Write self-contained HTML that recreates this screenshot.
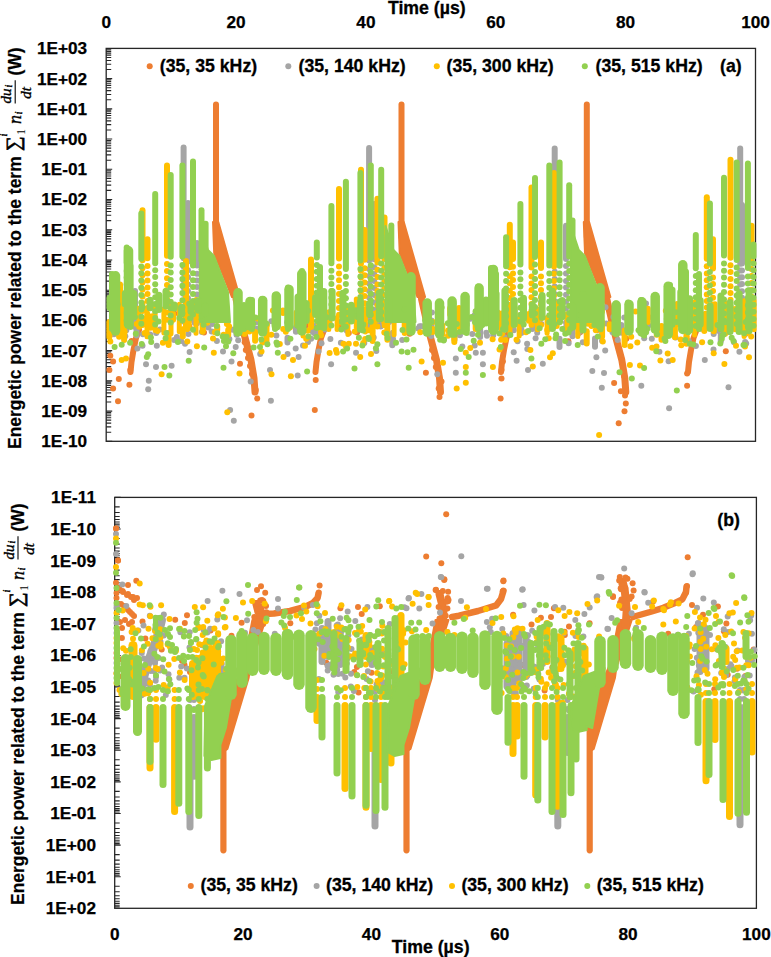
<!DOCTYPE html>
<html><head><meta charset="utf-8"><style>
html,body{margin:0;padding:0;background:#fff;}
svg{display:block;}
.t{font-family:"Liberation Sans", sans-serif;font-weight:bold;font-size:17.2px;fill:#000;stroke:#000;stroke-width:0.25px;}
.l{font-family:"Liberation Sans", sans-serif;font-weight:bold;font-size:17.7px;fill:#000;stroke:#000;stroke-width:0.3px;}
.yt{font-family:"Liberation Sans", sans-serif;font-weight:bold;font-size:17.45px;fill:#000;stroke:#000;stroke-width:0.2px;}
.ms{font-family:"Liberation Serif",serif;fill:#000;stroke:#000;stroke-width:0.6px;}
.mr{font-family:"Liberation Serif",serif;fill:#000;}
.m{font-family:"Liberation Serif",serif;font-style:italic;fill:#000;stroke:#000;stroke-width:0.35px;}
</style></head><body>
<svg width="771" height="957" viewBox="0 0 771 957">
<rect x="106.2" y="48.4" width="649.3" height="392.90000000000003" fill="none" stroke="#262626" stroke-width="1.3"/>
<path d="M106.2 441.30h6 M106.2 432.20h5 M106.2 426.88h5 M106.2 423.10h5 M106.2 420.17h5 M106.2 417.78h5 M106.2 415.76h5 M106.2 414.01h5 M106.2 412.46h5 M106.2 411.08h6 M106.2 401.98h5 M106.2 396.66h5 M106.2 392.88h5 M106.2 389.95h5 M106.2 387.56h5 M106.2 385.54h5 M106.2 383.78h5 M106.2 382.24h5 M106.2 380.85h6 M106.2 371.76h5 M106.2 366.43h5 M106.2 362.66h5 M106.2 359.73h5 M106.2 357.34h5 M106.2 355.31h5 M106.2 353.56h5 M106.2 352.01h5 M106.2 350.63h6 M106.2 341.53h5 M106.2 336.21h5 M106.2 332.43h5 M106.2 329.51h5 M106.2 327.11h5 M106.2 325.09h5 M106.2 323.34h5 M106.2 321.79h5 M106.2 320.41h6 M106.2 311.31h5 M106.2 305.99h5 M106.2 302.21h5 M106.2 299.28h5 M106.2 296.89h5 M106.2 294.87h5 M106.2 293.11h5 M106.2 291.57h5 M106.2 290.18h6 M106.2 281.09h5 M106.2 275.76h5 M106.2 271.99h5 M106.2 269.06h5 M106.2 266.67h5 M106.2 264.64h5 M106.2 262.89h5 M106.2 261.34h5 M106.2 259.96h6 M106.2 250.86h5 M106.2 245.54h5 M106.2 241.77h5 M106.2 238.84h5 M106.2 236.44h5 M106.2 234.42h5 M106.2 232.67h5 M106.2 231.12h5 M106.2 229.74h6 M106.2 220.64h5 M106.2 215.32h5 M106.2 211.54h5 M106.2 208.61h5 M106.2 206.22h5 M106.2 204.20h5 M106.2 202.44h5 M106.2 200.90h5 M106.2 199.52h6 M106.2 190.42h5 M106.2 185.10h5 M106.2 181.32h5 M106.2 178.39h5 M106.2 176.00h5 M106.2 173.97h5 M106.2 172.22h5 M106.2 170.68h5 M106.2 169.29h6 M106.2 160.19h5 M106.2 154.87h5 M106.2 151.10h5 M106.2 148.17h5 M106.2 145.77h5 M106.2 143.75h5 M106.2 142.00h5 M106.2 140.45h5 M106.2 139.07h6 M106.2 129.97h5 M106.2 124.65h5 M106.2 120.87h5 M106.2 117.94h5 M106.2 115.55h5 M106.2 113.53h5 M106.2 111.78h5 M106.2 110.23h5 M106.2 108.85h6 M106.2 99.75h5 M106.2 94.43h5 M106.2 90.65h5 M106.2 87.72h5 M106.2 85.33h5 M106.2 83.30h5 M106.2 81.55h5 M106.2 80.01h5 M106.2 78.62h6 M106.2 69.53h5 M106.2 64.20h5 M106.2 60.43h5 M106.2 57.50h5 M106.2 55.10h5 M106.2 53.08h5 M106.2 51.33h5 M106.2 49.78h5" stroke="#262626" stroke-width="1.1" fill="none"/>
<text x="87.1" y="54.3" text-anchor="end" class="t">1E+03</text>
<text x="87.1" y="84.5" text-anchor="end" class="t">1E+02</text>
<text x="87.1" y="114.7" text-anchor="end" class="t">1E+01</text>
<text x="87.1" y="145.0" text-anchor="end" class="t">1E+00</text>
<text x="87.1" y="175.2" text-anchor="end" class="t">1E-01</text>
<text x="87.1" y="205.4" text-anchor="end" class="t">1E-02</text>
<text x="87.1" y="235.6" text-anchor="end" class="t">1E-03</text>
<text x="87.1" y="265.9" text-anchor="end" class="t">1E-04</text>
<text x="87.1" y="296.1" text-anchor="end" class="t">1E-05</text>
<text x="87.1" y="326.3" text-anchor="end" class="t">1E-06</text>
<text x="87.1" y="356.5" text-anchor="end" class="t">1E-07</text>
<text x="87.1" y="386.8" text-anchor="end" class="t">1E-08</text>
<text x="87.1" y="417.0" text-anchor="end" class="t">1E-09</text>
<text x="87.1" y="447.2" text-anchor="end" class="t">1E-10</text>
<text x="106.2" y="28.4" text-anchor="middle" class="t">0</text>
<text x="236.1" y="28.4" text-anchor="middle" class="t">20</text>
<text x="365.9" y="28.4" text-anchor="middle" class="t">40</text>
<text x="495.8" y="28.4" text-anchor="middle" class="t">60</text>
<text x="625.6" y="28.4" text-anchor="middle" class="t">80</text>
<text x="755.5" y="28.4" text-anchor="middle" class="t">100</text>
<text x="426.8" y="13.8" text-anchor="middle" class="l">Time (µs)</text>
<rect x="114.7" y="497.4" width="641.6999999999999" height="410.9" fill="none" stroke="#262626" stroke-width="1.3"/>
<path d="M114.7 497.40h6 M114.7 506.91h5 M114.7 512.48h5 M114.7 516.43h5 M114.7 519.49h5 M114.7 522.00h5 M114.7 524.11h5 M114.7 525.94h5 M114.7 527.56h5 M114.7 529.01h6 M114.7 538.52h5 M114.7 544.09h5 M114.7 548.04h5 M114.7 551.10h5 M114.7 553.60h5 M114.7 555.72h5 M114.7 557.55h5 M114.7 559.17h5 M114.7 560.62h6 M114.7 570.13h5 M114.7 575.70h5 M114.7 579.65h5 M114.7 582.71h5 M114.7 585.21h5 M114.7 587.33h5 M114.7 589.16h5 M114.7 590.78h5 M114.7 592.22h6 M114.7 601.74h5 M114.7 607.30h5 M114.7 611.25h5 M114.7 614.32h5 M114.7 616.82h5 M114.7 618.93h5 M114.7 620.77h5 M114.7 622.38h5 M114.7 623.83h6 M114.7 633.35h5 M114.7 638.91h5 M114.7 642.86h5 M114.7 645.92h5 M114.7 648.43h5 M114.7 650.54h5 M114.7 652.38h5 M114.7 653.99h5 M114.7 655.44h6 M114.7 664.95h5 M114.7 670.52h5 M114.7 674.47h5 M114.7 677.53h5 M114.7 680.03h5 M114.7 682.15h5 M114.7 683.98h5 M114.7 685.60h5 M114.7 687.05h6 M114.7 696.56h5 M114.7 702.13h5 M114.7 706.08h5 M114.7 709.14h5 M114.7 711.64h5 M114.7 713.76h5 M114.7 715.59h5 M114.7 717.21h5 M114.7 718.65h6 M114.7 728.17h5 M114.7 733.73h5 M114.7 737.68h5 M114.7 740.75h5 M114.7 743.25h5 M114.7 745.37h5 M114.7 747.20h5 M114.7 748.82h5 M114.7 750.26h6 M114.7 759.78h5 M114.7 765.34h5 M114.7 769.29h5 M114.7 772.35h5 M114.7 774.86h5 M114.7 776.97h5 M114.7 778.81h5 M114.7 780.42h5 M114.7 781.87h6 M114.7 791.38h5 M114.7 796.95h5 M114.7 800.90h5 M114.7 803.96h5 M114.7 806.46h5 M114.7 808.58h5 M114.7 810.41h5 M114.7 812.03h5 M114.7 813.48h6 M114.7 822.99h5 M114.7 828.56h5 M114.7 832.51h5 M114.7 835.57h5 M114.7 838.07h5 M114.7 840.19h5 M114.7 842.02h5 M114.7 843.64h5 M114.7 845.08h6 M114.7 854.60h5 M114.7 860.17h5 M114.7 864.11h5 M114.7 867.18h5 M114.7 869.68h5 M114.7 871.80h5 M114.7 873.63h5 M114.7 875.25h5 M114.7 876.69h6 M114.7 886.21h5 M114.7 891.77h5 M114.7 895.72h5 M114.7 898.79h5 M114.7 901.29h5 M114.7 903.40h5 M114.7 905.24h5 M114.7 906.85h5" stroke="#262626" stroke-width="1.1" fill="none"/>
<text x="96" y="503.3" text-anchor="end" class="t">1E-11</text>
<text x="96" y="534.9" text-anchor="end" class="t">1E-10</text>
<text x="96" y="566.5" text-anchor="end" class="t">1E-09</text>
<text x="96" y="598.1" text-anchor="end" class="t">1E-08</text>
<text x="96" y="629.7" text-anchor="end" class="t">1E-07</text>
<text x="96" y="661.3" text-anchor="end" class="t">1E-06</text>
<text x="96" y="692.9" text-anchor="end" class="t">1E-05</text>
<text x="96" y="724.6" text-anchor="end" class="t">1E-04</text>
<text x="96" y="756.2" text-anchor="end" class="t">1E-03</text>
<text x="96" y="787.8" text-anchor="end" class="t">1E-02</text>
<text x="96" y="819.4" text-anchor="end" class="t">1E-01</text>
<text x="96" y="851.0" text-anchor="end" class="t">1E+00</text>
<text x="96" y="882.6" text-anchor="end" class="t">1E+01</text>
<text x="96" y="914.2" text-anchor="end" class="t">1E+02</text>
<text x="114.7" y="940.1" text-anchor="middle" class="t">0</text>
<text x="243.0" y="940.1" text-anchor="middle" class="t">20</text>
<text x="371.4" y="940.1" text-anchor="middle" class="t">40</text>
<text x="499.7" y="940.1" text-anchor="middle" class="t">60</text>
<text x="628.1" y="940.1" text-anchor="middle" class="t">80</text>
<text x="756.4" y="940.1" text-anchor="middle" class="t">100</text>
<text x="430.7" y="952.9" text-anchor="middle" class="l">Time (µs)</text>
<circle cx="149.7" cy="66.3" r="3" fill="#ED7D31"/>
<text x="159.8" y="71.5" class="l">(35, 35 kHz)</text>
<circle cx="288.3" cy="66.3" r="3" fill="#A5A5A5"/>
<text x="298.5" y="71.5" class="l">(35, 140 kHz)</text>
<circle cx="436.8" cy="66.3" r="3" fill="#FFC000"/>
<text x="446.6" y="71.5" class="l">(35, 300 kHz)</text>
<circle cx="584.8" cy="66.3" r="3" fill="#92D050"/>
<text x="595.5" y="71.5" class="l">(35, 515 kHz)</text>
<text x="720.0" y="71.5" class="l">(a)</text>
<circle cx="190.8" cy="885.9" r="3" fill="#ED7D31"/>
<text x="200.5" y="890.8" class="l">(35, 35 kHz)</text>
<circle cx="316.6" cy="886" r="3" fill="#A5A5A5"/>
<text x="326.0" y="890.8" class="l">(35, 140 kHz)</text>
<circle cx="452" cy="886.1" r="3" fill="#FFC000"/>
<text x="461.40000000000003" y="890.8" class="l">(35, 300 kHz)</text>
<circle cx="587.3" cy="886" r="3" fill="#92D050"/>
<text x="596.7" y="890.8" class="l">(35, 515 kHz)</text>
<text x="717.3" y="526" class="l">(b)</text>
<g transform="translate(21.2,449) rotate(-90)">
<text x="0" y="0" class="yt">Energetic power related to the term</text>
<text transform="translate(298,-0.9)" x="0" y="0" class="ms" font-size="20.5">∑</text>
<text x="312.4" y="-14.2" class="m" font-size="10.5">i</text>
<text x="314.2" y="4.2" class="mr" font-size="11.5">1</text>
<text x="325.0" y="0.2" class="m" font-size="18">n</text>
<text x="334.6" y="0.6" class="m" font-size="11">i</text>
<line x1="345.6" x2="368.7" y1="-6" y2="-6" stroke="#000" stroke-width="1.1"/>
<text x="345.4" y="-10.2" class="m" font-size="15">du</text>
<text x="361.6" y="-9.2" class="m" font-size="10">i</text>
<text x="350.3" y="9.9" class="m" font-size="15">dt</text>
<text x="373.5" y="0" class="yt">(W)</text>
</g>
<g transform="translate(24.0,905) rotate(-90)">
<text x="0" y="0" class="yt">Energetic power related to the term</text>
<text transform="translate(298,-0.9)" x="0" y="0" class="ms" font-size="20.5">∑</text>
<text x="312.4" y="-14.2" class="m" font-size="10.5">i</text>
<text x="314.2" y="4.2" class="mr" font-size="11.5">1</text>
<text x="325.0" y="0.2" class="m" font-size="18">n</text>
<text x="334.6" y="0.6" class="m" font-size="11">i</text>
<line x1="345.6" x2="368.7" y1="-6" y2="-6" stroke="#000" stroke-width="1.1"/>
<text x="345.4" y="-10.2" class="m" font-size="15">du</text>
<text x="361.6" y="-9.2" class="m" font-size="10">i</text>
<text x="350.3" y="9.9" class="m" font-size="15">dt</text>
<text x="373.5" y="0" class="yt">(W)</text>
</g>
<g><line x1="216.0" y1="104.4" x2="216.0" y2="237.0" stroke="#ED7D31" stroke-width="6" stroke-linecap="round"/><polygon points="213.0,222.0 218.3,222.0 239.6,297.0 232.0,297.0 214.2,253.0" fill="#ED7D31" stroke="#ED7D31" stroke-width="2" stroke-linejoin="round"/><polyline points="236.0,299.0 243.0,330.0 247.0,345.0 251.0,360.0 254.0,378.0 255.0,392.0" fill="none" stroke="#ED7D31" stroke-width="7" stroke-linecap="round" stroke-linejoin="round"/><line x1="401.5" y1="104.4" x2="401.5" y2="237.0" stroke="#ED7D31" stroke-width="6" stroke-linecap="round"/><polygon points="398.5,222.0 403.8,222.0 425.1,297.0 417.5,297.0 399.7,253.0" fill="#ED7D31" stroke="#ED7D31" stroke-width="2" stroke-linejoin="round"/><polyline points="421.5,299.0 428.5,330.0 432.5,345.0 436.5,360.0 439.5,378.0 440.5,392.0" fill="none" stroke="#ED7D31" stroke-width="7" stroke-linecap="round" stroke-linejoin="round"/><line x1="586.8" y1="104.4" x2="586.8" y2="237.0" stroke="#ED7D31" stroke-width="6" stroke-linecap="round"/><polygon points="583.8,222.0 589.1,222.0 610.4,297.0 602.8,297.0 585.0,253.0" fill="#ED7D31" stroke="#ED7D31" stroke-width="2" stroke-linejoin="round"/><polyline points="606.8,299.0 613.8,330.0 617.8,345.0 621.8,360.0 624.8,378.0 625.8,392.0" fill="none" stroke="#ED7D31" stroke-width="7" stroke-linecap="round" stroke-linejoin="round"/><polyline points="130.5,372.0 131.5,362.0 133.5,350.0 136.0,338.0 139.0,330.0" fill="none" stroke="#ED7D31" stroke-width="6" stroke-linecap="round" stroke-linejoin="round"/><polyline points="315.5,372.0 316.5,362.0 318.5,350.0 321.0,338.0 324.0,330.0" fill="none" stroke="#ED7D31" stroke-width="6" stroke-linecap="round" stroke-linejoin="round"/><polyline points="501.0,372.0 502.0,362.0 504.0,350.0 506.5,338.0 509.5,330.0" fill="none" stroke="#ED7D31" stroke-width="6" stroke-linecap="round" stroke-linejoin="round"/><polyline points="688.0,372.0 689.0,362.0 691.0,350.0 693.5,338.0 696.5,330.0" fill="none" stroke="#ED7D31" stroke-width="6" stroke-linecap="round" stroke-linejoin="round"/><circle cx="305.6" cy="325.4" r="3" fill="#ED7D31"/><circle cx="326.9" cy="327.5" r="3" fill="#ED7D31"/><circle cx="411.1" cy="325.1" r="3" fill="#ED7D31"/><circle cx="189.4" cy="326.4" r="3" fill="#ED7D31"/><circle cx="119.4" cy="316.1" r="3" fill="#ED7D31"/><circle cx="597.3" cy="330.1" r="3" fill="#ED7D31"/><circle cx="299.6" cy="328.2" r="3" fill="#ED7D31"/><circle cx="568.4" cy="341.2" r="3" fill="#ED7D31"/><circle cx="357.1" cy="332.6" r="3" fill="#ED7D31"/><circle cx="131.6" cy="341.0" r="3" fill="#ED7D31"/><circle cx="248.6" cy="323.9" r="3" fill="#ED7D31"/><circle cx="379.3" cy="322.5" r="3" fill="#ED7D31"/><circle cx="580.1" cy="332.2" r="3" fill="#ED7D31"/><circle cx="204.0" cy="332.4" r="3" fill="#ED7D31"/><circle cx="244.7" cy="342.3" r="3" fill="#ED7D31"/><circle cx="626.3" cy="338.8" r="3" fill="#ED7D31"/><circle cx="174.4" cy="313.4" r="3" fill="#ED7D31"/><circle cx="339.3" cy="326.9" r="3" fill="#ED7D31"/><circle cx="397.0" cy="317.7" r="3" fill="#ED7D31"/><circle cx="438.7" cy="322.1" r="3" fill="#ED7D31"/><circle cx="409.7" cy="333.8" r="3" fill="#ED7D31"/><circle cx="642.7" cy="319.9" r="3" fill="#ED7D31"/><circle cx="367.7" cy="325.7" r="3" fill="#ED7D31"/><circle cx="110.3" cy="355.7" r="3" fill="#ED7D31"/><circle cx="113.1" cy="361.4" r="3" fill="#ED7D31"/><circle cx="109.4" cy="370.0" r="3" fill="#ED7D31"/><circle cx="118.8" cy="379.0" r="3" fill="#ED7D31"/><circle cx="113.1" cy="388.5" r="3" fill="#ED7D31"/><circle cx="118.0" cy="401.3" r="3" fill="#ED7D31"/><circle cx="130.3" cy="370.0" r="3" fill="#ED7D31"/><circle cx="129.4" cy="384.8" r="3" fill="#ED7D31"/><circle cx="166.0" cy="340.8" r="3" fill="#ED7D31"/><circle cx="245.8" cy="350.0" r="3" fill="#ED7D31"/><circle cx="248.0" cy="358.0" r="3" fill="#ED7D31"/><circle cx="250.0" cy="366.0" r="3" fill="#ED7D31"/><circle cx="252.0" cy="374.0" r="3" fill="#ED7D31"/><circle cx="254.0" cy="382.0" r="3" fill="#ED7D31"/><circle cx="255.8" cy="390.0" r="3" fill="#ED7D31"/><circle cx="257.2" cy="398.5" r="3" fill="#ED7D31"/><circle cx="251.5" cy="415.6" r="3" fill="#ED7D31"/><circle cx="240.0" cy="363.7" r="3" fill="#ED7D31"/><circle cx="315.7" cy="380.0" r="3" fill="#ED7D31"/><circle cx="314.8" cy="410.0" r="3" fill="#ED7D31"/><circle cx="425.9" cy="372.8" r="3" fill="#ED7D31"/><circle cx="441.5" cy="381.4" r="3" fill="#ED7D31"/><circle cx="438.7" cy="388.5" r="3" fill="#ED7D31"/><circle cx="439.5" cy="397.0" r="3" fill="#ED7D31"/><circle cx="435.8" cy="367.0" r="3" fill="#ED7D31"/><circle cx="432.0" cy="350.0" r="3" fill="#ED7D31"/><circle cx="434.0" cy="358.0" r="3" fill="#ED7D31"/><circle cx="502.9" cy="361.4" r="3" fill="#ED7D31"/><circle cx="501.5" cy="370.0" r="3" fill="#ED7D31"/><circle cx="501.5" cy="378.5" r="3" fill="#ED7D31"/><circle cx="500.6" cy="398.5" r="3" fill="#ED7D31"/><circle cx="348.8" cy="332.9" r="3" fill="#ED7D31"/><circle cx="614.1" cy="383.1" r="3" fill="#ED7D31"/><circle cx="620.9" cy="391.3" r="3" fill="#ED7D31"/><circle cx="625.0" cy="395.4" r="3" fill="#ED7D31"/><circle cx="625.8" cy="403.5" r="3" fill="#ED7D31"/><circle cx="624.5" cy="411.2" r="3" fill="#ED7D31"/><circle cx="618.7" cy="423.2" r="3" fill="#ED7D31"/><circle cx="622.0" cy="360.0" r="3" fill="#ED7D31"/><circle cx="623.0" cy="368.0" r="3" fill="#ED7D31"/><circle cx="624.0" cy="376.0" r="3" fill="#ED7D31"/><circle cx="687.1" cy="373.6" r="3" fill="#ED7D31"/><circle cx="687.1" cy="385.8" r="3" fill="#ED7D31"/><circle cx="725.8" cy="351.2" r="3" fill="#ED7D31"/></g>
<g><line x1="135.0" y1="291.0" x2="135.0" y2="327.0" stroke="#A5A5A5" stroke-width="6" stroke-linecap="round"/><line x1="183.6" y1="147.4" x2="183.6" y2="258.3" stroke="#A5A5A5" stroke-width="6" stroke-linecap="round"/><circle cx="183.6" cy="266.4" r="3" fill="#A5A5A5"/><circle cx="183.6" cy="273.3" r="3" fill="#A5A5A5"/><circle cx="183.6" cy="280.4" r="3" fill="#A5A5A5"/><circle cx="183.6" cy="287.5" r="3" fill="#A5A5A5"/><circle cx="183.6" cy="294.1" r="3" fill="#A5A5A5"/><circle cx="183.6" cy="300.6" r="3" fill="#A5A5A5"/><circle cx="183.6" cy="307.9" r="3" fill="#A5A5A5"/><circle cx="183.6" cy="314.7" r="3" fill="#A5A5A5"/><circle cx="183.6" cy="321.4" r="3" fill="#A5A5A5"/><line x1="188.0" y1="203.0" x2="188.0" y2="261.6" stroke="#A5A5A5" stroke-width="6" stroke-linecap="round"/><circle cx="188.0" cy="270.3" r="3" fill="#A5A5A5"/><circle cx="188.0" cy="277.2" r="3" fill="#A5A5A5"/><circle cx="188.0" cy="284.4" r="3" fill="#A5A5A5"/><circle cx="188.0" cy="291.0" r="3" fill="#A5A5A5"/><circle cx="188.0" cy="298.2" r="3" fill="#A5A5A5"/><circle cx="188.0" cy="305.5" r="3" fill="#A5A5A5"/><circle cx="188.0" cy="312.5" r="3" fill="#A5A5A5"/><circle cx="188.0" cy="319.8" r="3" fill="#A5A5A5"/><circle cx="188.0" cy="327.0" r="3" fill="#A5A5A5"/><line x1="197.0" y1="243.0" x2="197.0" y2="265.6" stroke="#A5A5A5" stroke-width="6" stroke-linecap="round"/><circle cx="197.0" cy="273.8" r="3" fill="#A5A5A5"/><circle cx="197.0" cy="280.6" r="3" fill="#A5A5A5"/><circle cx="197.0" cy="287.1" r="3" fill="#A5A5A5"/><circle cx="197.0" cy="294.5" r="3" fill="#A5A5A5"/><circle cx="197.0" cy="301.5" r="3" fill="#A5A5A5"/><circle cx="197.0" cy="308.7" r="3" fill="#A5A5A5"/><circle cx="197.0" cy="316.1" r="3" fill="#A5A5A5"/><circle cx="197.0" cy="323.3" r="3" fill="#A5A5A5"/><line x1="369.1" y1="148.0" x2="369.1" y2="260.5" stroke="#A5A5A5" stroke-width="6" stroke-linecap="round"/><circle cx="369.1" cy="269.1" r="3" fill="#A5A5A5"/><circle cx="369.1" cy="276.1" r="3" fill="#A5A5A5"/><circle cx="369.1" cy="283.5" r="3" fill="#A5A5A5"/><circle cx="369.1" cy="290.9" r="3" fill="#A5A5A5"/><circle cx="369.1" cy="297.5" r="3" fill="#A5A5A5"/><circle cx="369.1" cy="304.1" r="3" fill="#A5A5A5"/><circle cx="369.1" cy="310.8" r="3" fill="#A5A5A5"/><circle cx="369.1" cy="318.3" r="3" fill="#A5A5A5"/><circle cx="369.1" cy="325.2" r="3" fill="#A5A5A5"/><line x1="374.2" y1="204.0" x2="374.2" y2="259.2" stroke="#A5A5A5" stroke-width="6" stroke-linecap="round"/><circle cx="374.2" cy="267.2" r="3" fill="#A5A5A5"/><circle cx="374.2" cy="274.1" r="3" fill="#A5A5A5"/><circle cx="374.2" cy="281.0" r="3" fill="#A5A5A5"/><circle cx="374.2" cy="288.1" r="3" fill="#A5A5A5"/><circle cx="374.2" cy="295.1" r="3" fill="#A5A5A5"/><circle cx="374.2" cy="302.5" r="3" fill="#A5A5A5"/><circle cx="374.2" cy="309.7" r="3" fill="#A5A5A5"/><circle cx="374.2" cy="317.2" r="3" fill="#A5A5A5"/><circle cx="374.2" cy="324.5" r="3" fill="#A5A5A5"/><line x1="554.7" y1="148.6" x2="554.7" y2="264.4" stroke="#A5A5A5" stroke-width="6" stroke-linecap="round"/><circle cx="554.7" cy="271.7" r="3" fill="#A5A5A5"/><circle cx="554.7" cy="279.1" r="3" fill="#A5A5A5"/><circle cx="554.7" cy="286.5" r="3" fill="#A5A5A5"/><circle cx="554.7" cy="294.0" r="3" fill="#A5A5A5"/><circle cx="554.7" cy="301.0" r="3" fill="#A5A5A5"/><circle cx="554.7" cy="308.2" r="3" fill="#A5A5A5"/><circle cx="554.7" cy="314.9" r="3" fill="#A5A5A5"/><circle cx="554.7" cy="322.3" r="3" fill="#A5A5A5"/><line x1="566.0" y1="225.8" x2="566.0" y2="259.0" stroke="#A5A5A5" stroke-width="6" stroke-linecap="round"/><circle cx="566.0" cy="266.1" r="3" fill="#A5A5A5"/><circle cx="566.0" cy="273.5" r="3" fill="#A5A5A5"/><circle cx="566.0" cy="281.0" r="3" fill="#A5A5A5"/><circle cx="566.0" cy="287.5" r="3" fill="#A5A5A5"/><circle cx="566.0" cy="294.8" r="3" fill="#A5A5A5"/><circle cx="566.0" cy="301.8" r="3" fill="#A5A5A5"/><circle cx="566.0" cy="308.4" r="3" fill="#A5A5A5"/><circle cx="566.0" cy="315.2" r="3" fill="#A5A5A5"/><circle cx="566.0" cy="322.5" r="3" fill="#A5A5A5"/><line x1="740.2" y1="148.6" x2="740.2" y2="255.6" stroke="#A5A5A5" stroke-width="6" stroke-linecap="round"/><circle cx="740.2" cy="263.8" r="3" fill="#A5A5A5"/><circle cx="740.2" cy="270.4" r="3" fill="#A5A5A5"/><circle cx="740.2" cy="277.6" r="3" fill="#A5A5A5"/><circle cx="740.2" cy="284.4" r="3" fill="#A5A5A5"/><circle cx="740.2" cy="291.8" r="3" fill="#A5A5A5"/><circle cx="740.2" cy="299.3" r="3" fill="#A5A5A5"/><circle cx="740.2" cy="306.3" r="3" fill="#A5A5A5"/><circle cx="740.2" cy="313.8" r="3" fill="#A5A5A5"/><circle cx="740.2" cy="320.6" r="3" fill="#A5A5A5"/><line x1="742.0" y1="205.0" x2="742.0" y2="263.4" stroke="#A5A5A5" stroke-width="6" stroke-linecap="round"/><circle cx="742.0" cy="270.5" r="3" fill="#A5A5A5"/><circle cx="742.0" cy="277.2" r="3" fill="#A5A5A5"/><circle cx="742.0" cy="284.1" r="3" fill="#A5A5A5"/><circle cx="742.0" cy="291.2" r="3" fill="#A5A5A5"/><circle cx="742.0" cy="297.8" r="3" fill="#A5A5A5"/><circle cx="742.0" cy="304.4" r="3" fill="#A5A5A5"/><circle cx="742.0" cy="311.7" r="3" fill="#A5A5A5"/><circle cx="742.0" cy="318.6" r="3" fill="#A5A5A5"/><circle cx="742.0" cy="326.0" r="3" fill="#A5A5A5"/><line x1="110.7" y1="329.9" x2="110.7" y2="330.9" stroke="#A5A5A5" stroke-width="6" stroke-linecap="round"/><line x1="117.8" y1="321.0" x2="117.8" y2="323.0" stroke="#A5A5A5" stroke-width="6" stroke-linecap="round"/><line x1="126.3" y1="324.9" x2="126.3" y2="330.2" stroke="#A5A5A5" stroke-width="6" stroke-linecap="round"/><line x1="136.6" y1="330.3" x2="136.6" y2="335.6" stroke="#A5A5A5" stroke-width="6" stroke-linecap="round"/><line x1="176.9" y1="337.1" x2="176.9" y2="339.3" stroke="#A5A5A5" stroke-width="6" stroke-linecap="round"/><line x1="187.0" y1="320.7" x2="187.0" y2="328.0" stroke="#A5A5A5" stroke-width="6" stroke-linecap="round"/><line x1="211.7" y1="331.4" x2="211.7" y2="331.6" stroke="#A5A5A5" stroke-width="6" stroke-linecap="round"/><line x1="236.5" y1="327.1" x2="236.5" y2="334.7" stroke="#A5A5A5" stroke-width="6" stroke-linecap="round"/><line x1="246.2" y1="316.7" x2="246.2" y2="317.8" stroke="#A5A5A5" stroke-width="6" stroke-linecap="round"/><line x1="257.0" y1="328.6" x2="257.0" y2="330.1" stroke="#A5A5A5" stroke-width="6" stroke-linecap="round"/><line x1="287.5" y1="337.8" x2="287.5" y2="342.5" stroke="#A5A5A5" stroke-width="6" stroke-linecap="round"/><line x1="295.9" y1="327.4" x2="295.9" y2="331.7" stroke="#A5A5A5" stroke-width="6" stroke-linecap="round"/><line x1="314.5" y1="325.9" x2="314.5" y2="333.3" stroke="#A5A5A5" stroke-width="6" stroke-linecap="round"/><line x1="324.1" y1="327.3" x2="324.1" y2="327.5" stroke="#A5A5A5" stroke-width="6" stroke-linecap="round"/><line x1="346.9" y1="324.7" x2="346.9" y2="330.7" stroke="#A5A5A5" stroke-width="6" stroke-linecap="round"/><line x1="392.3" y1="336.5" x2="392.3" y2="345.3" stroke="#A5A5A5" stroke-width="6" stroke-linecap="round"/><line x1="419.7" y1="326.3" x2="419.7" y2="326.4" stroke="#A5A5A5" stroke-width="6" stroke-linecap="round"/><line x1="431.5" y1="320.6" x2="431.5" y2="330.0" stroke="#A5A5A5" stroke-width="6" stroke-linecap="round"/><line x1="439.7" y1="328.7" x2="439.7" y2="334.0" stroke="#A5A5A5" stroke-width="6" stroke-linecap="round"/><line x1="454.5" y1="331.8" x2="454.5" y2="339.4" stroke="#A5A5A5" stroke-width="6" stroke-linecap="round"/><line x1="459.9" y1="332.7" x2="459.9" y2="335.3" stroke="#A5A5A5" stroke-width="6" stroke-linecap="round"/><line x1="466.7" y1="324.0" x2="466.7" y2="325.0" stroke="#A5A5A5" stroke-width="6" stroke-linecap="round"/><line x1="480.1" y1="327.2" x2="480.1" y2="336.9" stroke="#A5A5A5" stroke-width="6" stroke-linecap="round"/><line x1="493.2" y1="334.4" x2="493.2" y2="335.2" stroke="#A5A5A5" stroke-width="6" stroke-linecap="round"/><line x1="504.4" y1="337.3" x2="504.4" y2="338.9" stroke="#A5A5A5" stroke-width="6" stroke-linecap="round"/><line x1="513.8" y1="329.7" x2="513.8" y2="330.3" stroke="#A5A5A5" stroke-width="6" stroke-linecap="round"/><line x1="521.3" y1="329.3" x2="521.3" y2="333.0" stroke="#A5A5A5" stroke-width="6" stroke-linecap="round"/><line x1="532.3" y1="321.8" x2="532.3" y2="329.0" stroke="#A5A5A5" stroke-width="6" stroke-linecap="round"/><line x1="540.8" y1="316.0" x2="540.8" y2="317.6" stroke="#A5A5A5" stroke-width="6" stroke-linecap="round"/><line x1="559.5" y1="338.7" x2="559.5" y2="347.0" stroke="#A5A5A5" stroke-width="6" stroke-linecap="round"/><line x1="572.5" y1="326.5" x2="572.5" y2="336.2" stroke="#A5A5A5" stroke-width="6" stroke-linecap="round"/><line x1="595.0" y1="338.5" x2="595.0" y2="346.7" stroke="#A5A5A5" stroke-width="6" stroke-linecap="round"/><line x1="601.1" y1="325.9" x2="601.1" y2="328.0" stroke="#A5A5A5" stroke-width="6" stroke-linecap="round"/><line x1="612.5" y1="325.6" x2="612.5" y2="332.3" stroke="#A5A5A5" stroke-width="6" stroke-linecap="round"/><line x1="621.3" y1="325.1" x2="621.3" y2="332.8" stroke="#A5A5A5" stroke-width="6" stroke-linecap="round"/><line x1="646.4" y1="317.7" x2="646.4" y2="326.7" stroke="#A5A5A5" stroke-width="6" stroke-linecap="round"/><line x1="656.5" y1="321.5" x2="656.5" y2="328.4" stroke="#A5A5A5" stroke-width="6" stroke-linecap="round"/><line x1="666.1" y1="333.1" x2="666.1" y2="335.0" stroke="#A5A5A5" stroke-width="6" stroke-linecap="round"/><line x1="691.8" y1="316.5" x2="691.8" y2="319.2" stroke="#A5A5A5" stroke-width="6" stroke-linecap="round"/><line x1="701.5" y1="328.0" x2="701.5" y2="328.7" stroke="#A5A5A5" stroke-width="6" stroke-linecap="round"/><line x1="713.7" y1="330.1" x2="713.7" y2="333.9" stroke="#A5A5A5" stroke-width="6" stroke-linecap="round"/><line x1="720.8" y1="332.9" x2="720.8" y2="341.3" stroke="#A5A5A5" stroke-width="6" stroke-linecap="round"/><line x1="748.4" y1="321.2" x2="748.4" y2="329.3" stroke="#A5A5A5" stroke-width="6" stroke-linecap="round"/><circle cx="746.0" cy="323.7" r="3" fill="#A5A5A5"/><circle cx="421.5" cy="326.3" r="3" fill="#A5A5A5"/><circle cx="535.6" cy="338.2" r="3" fill="#A5A5A5"/><circle cx="185.0" cy="343.8" r="3" fill="#A5A5A5"/><circle cx="475.8" cy="352.7" r="3" fill="#A5A5A5"/><circle cx="391.3" cy="317.2" r="3" fill="#A5A5A5"/><circle cx="472.3" cy="334.0" r="3" fill="#A5A5A5"/><circle cx="474.7" cy="345.6" r="3" fill="#A5A5A5"/><circle cx="616.6" cy="333.9" r="3" fill="#A5A5A5"/><circle cx="517.6" cy="341.3" r="3" fill="#A5A5A5"/><circle cx="542.2" cy="316.4" r="3" fill="#A5A5A5"/><circle cx="565.2" cy="330.5" r="3" fill="#A5A5A5"/><circle cx="373.7" cy="337.5" r="3" fill="#A5A5A5"/><circle cx="628.1" cy="315.5" r="3" fill="#A5A5A5"/><circle cx="566.4" cy="325.9" r="3" fill="#A5A5A5"/><circle cx="380.8" cy="324.6" r="3" fill="#A5A5A5"/><circle cx="308.0" cy="341.9" r="3" fill="#A5A5A5"/><circle cx="462.3" cy="346.4" r="3" fill="#A5A5A5"/><circle cx="418.1" cy="328.5" r="3" fill="#A5A5A5"/><circle cx="719.2" cy="330.8" r="3" fill="#A5A5A5"/><circle cx="746.7" cy="327.7" r="3" fill="#A5A5A5"/><circle cx="622.2" cy="330.8" r="3" fill="#A5A5A5"/><circle cx="276.4" cy="335.4" r="3" fill="#A5A5A5"/><circle cx="605.2" cy="350.4" r="3" fill="#A5A5A5"/><circle cx="487.0" cy="335.8" r="3" fill="#A5A5A5"/><circle cx="377.8" cy="322.7" r="3" fill="#A5A5A5"/><circle cx="352.2" cy="315.9" r="3" fill="#A5A5A5"/><circle cx="747.6" cy="325.2" r="3" fill="#A5A5A5"/><circle cx="238.2" cy="340.2" r="3" fill="#A5A5A5"/><circle cx="321.5" cy="343.3" r="3" fill="#A5A5A5"/><circle cx="322.9" cy="325.2" r="3" fill="#A5A5A5"/><circle cx="168.9" cy="333.1" r="3" fill="#A5A5A5"/><circle cx="617.7" cy="340.0" r="3" fill="#A5A5A5"/><circle cx="352.5" cy="310.6" r="3" fill="#A5A5A5"/><circle cx="568.6" cy="343.2" r="3" fill="#A5A5A5"/><circle cx="188.4" cy="334.1" r="3" fill="#A5A5A5"/><circle cx="541.4" cy="324.0" r="3" fill="#A5A5A5"/><circle cx="510.9" cy="322.7" r="3" fill="#A5A5A5"/><circle cx="648.9" cy="317.3" r="3" fill="#A5A5A5"/><circle cx="372.7" cy="317.0" r="3" fill="#A5A5A5"/><circle cx="576.4" cy="324.5" r="3" fill="#A5A5A5"/><circle cx="142.9" cy="334.3" r="3" fill="#A5A5A5"/><circle cx="695.9" cy="345.9" r="3" fill="#A5A5A5"/><circle cx="380.7" cy="326.6" r="3" fill="#A5A5A5"/><circle cx="252.2" cy="329.7" r="3" fill="#A5A5A5"/><circle cx="172.9" cy="315.8" r="3" fill="#A5A5A5"/><circle cx="318.5" cy="351.6" r="3" fill="#A5A5A5"/><circle cx="486.3" cy="332.7" r="3" fill="#A5A5A5"/><circle cx="675.6" cy="337.4" r="3" fill="#A5A5A5"/><circle cx="232.7" cy="329.8" r="3" fill="#A5A5A5"/><circle cx="688.8" cy="340.9" r="3" fill="#A5A5A5"/><circle cx="537.2" cy="332.7" r="3" fill="#A5A5A5"/><circle cx="256.9" cy="322.1" r="3" fill="#A5A5A5"/><circle cx="287.6" cy="353.9" r="3" fill="#A5A5A5"/><circle cx="495.4" cy="328.2" r="3" fill="#A5A5A5"/><circle cx="229.4" cy="338.9" r="3" fill="#A5A5A5"/><circle cx="745.1" cy="342.0" r="3" fill="#A5A5A5"/><circle cx="431.2" cy="336.0" r="3" fill="#A5A5A5"/><circle cx="340.9" cy="342.7" r="3" fill="#A5A5A5"/><circle cx="613.4" cy="317.0" r="3" fill="#A5A5A5"/><circle cx="392.9" cy="332.8" r="3" fill="#A5A5A5"/><circle cx="493.6" cy="323.8" r="3" fill="#A5A5A5"/><circle cx="389.2" cy="322.0" r="3" fill="#A5A5A5"/><circle cx="156.2" cy="333.1" r="3" fill="#A5A5A5"/><circle cx="212.3" cy="323.9" r="3" fill="#A5A5A5"/><circle cx="734.0" cy="342.3" r="3" fill="#A5A5A5"/><circle cx="330.4" cy="339.1" r="3" fill="#A5A5A5"/><circle cx="362.4" cy="317.6" r="3" fill="#A5A5A5"/><circle cx="712.2" cy="318.1" r="3" fill="#A5A5A5"/><circle cx="316.8" cy="326.6" r="3" fill="#A5A5A5"/><circle cx="318.8" cy="333.0" r="3" fill="#A5A5A5"/><circle cx="564.2" cy="328.8" r="3" fill="#A5A5A5"/><circle cx="125.3" cy="336.3" r="3" fill="#A5A5A5"/><circle cx="541.0" cy="302.0" r="3" fill="#A5A5A5"/><circle cx="683.3" cy="322.1" r="3" fill="#A5A5A5"/><circle cx="715.9" cy="327.1" r="3" fill="#A5A5A5"/><circle cx="287.2" cy="322.2" r="3" fill="#A5A5A5"/><circle cx="427.1" cy="321.9" r="3" fill="#A5A5A5"/><circle cx="470.4" cy="318.8" r="3" fill="#A5A5A5"/><circle cx="732.9" cy="324.9" r="3" fill="#A5A5A5"/><circle cx="311.1" cy="338.8" r="3" fill="#A5A5A5"/><circle cx="557.0" cy="319.0" r="3" fill="#A5A5A5"/><circle cx="212.1" cy="303.9" r="3" fill="#A5A5A5"/><circle cx="150.2" cy="334.6" r="3" fill="#A5A5A5"/><circle cx="606.4" cy="323.5" r="3" fill="#A5A5A5"/><circle cx="570.1" cy="325.4" r="3" fill="#A5A5A5"/><circle cx="651.8" cy="338.8" r="3" fill="#A5A5A5"/><circle cx="474.7" cy="314.9" r="3" fill="#A5A5A5"/><circle cx="644.2" cy="338.2" r="3" fill="#A5A5A5"/><circle cx="195.6" cy="319.4" r="3" fill="#A5A5A5"/><circle cx="602.0" cy="340.8" r="3" fill="#A5A5A5"/><circle cx="460.8" cy="328.7" r="3" fill="#A5A5A5"/><circle cx="201.9" cy="331.9" r="3" fill="#A5A5A5"/><circle cx="376.3" cy="351.1" r="3" fill="#A5A5A5"/><circle cx="364.3" cy="343.0" r="3" fill="#A5A5A5"/><circle cx="646.0" cy="303.4" r="3" fill="#A5A5A5"/><circle cx="116.6" cy="310.2" r="3" fill="#A5A5A5"/><circle cx="368.4" cy="327.7" r="3" fill="#A5A5A5"/><circle cx="255.7" cy="321.9" r="3" fill="#A5A5A5"/><circle cx="520.1" cy="324.6" r="3" fill="#A5A5A5"/><circle cx="324.9" cy="329.6" r="3" fill="#A5A5A5"/><circle cx="461.0" cy="322.4" r="3" fill="#A5A5A5"/><circle cx="729.0" cy="332.1" r="3" fill="#A5A5A5"/><circle cx="204.8" cy="322.9" r="3" fill="#A5A5A5"/><circle cx="648.4" cy="325.5" r="3" fill="#A5A5A5"/><circle cx="130.2" cy="321.5" r="3" fill="#A5A5A5"/><circle cx="748.4" cy="329.3" r="3" fill="#A5A5A5"/><circle cx="260.2" cy="353.9" r="3" fill="#A5A5A5"/><circle cx="527.3" cy="349.1" r="3" fill="#A5A5A5"/><circle cx="624.3" cy="317.6" r="3" fill="#A5A5A5"/><circle cx="605.5" cy="307.2" r="3" fill="#A5A5A5"/><circle cx="174.1" cy="339.9" r="3" fill="#A5A5A5"/><circle cx="745.2" cy="334.2" r="3" fill="#A5A5A5"/><circle cx="312.4" cy="330.8" r="3" fill="#A5A5A5"/><circle cx="191.9" cy="319.8" r="3" fill="#A5A5A5"/><circle cx="235.7" cy="346.9" r="3" fill="#A5A5A5"/><circle cx="659.4" cy="351.8" r="3" fill="#A5A5A5"/><circle cx="402.2" cy="340.0" r="3" fill="#A5A5A5"/><circle cx="194.6" cy="322.7" r="3" fill="#A5A5A5"/><circle cx="271.4" cy="321.2" r="3" fill="#A5A5A5"/><circle cx="574.8" cy="325.1" r="3" fill="#A5A5A5"/><circle cx="312.9" cy="332.0" r="3" fill="#A5A5A5"/><circle cx="216.9" cy="341.1" r="3" fill="#A5A5A5"/><circle cx="510.4" cy="329.6" r="3" fill="#A5A5A5"/><circle cx="579.8" cy="321.6" r="3" fill="#A5A5A5"/><circle cx="186.5" cy="328.1" r="3" fill="#A5A5A5"/><circle cx="717.3" cy="330.4" r="3" fill="#A5A5A5"/><circle cx="181.1" cy="341.0" r="3" fill="#A5A5A5"/><circle cx="208.4" cy="327.4" r="3" fill="#A5A5A5"/><circle cx="303.0" cy="345.4" r="3" fill="#A5A5A5"/><circle cx="159.9" cy="329.6" r="3" fill="#A5A5A5"/><circle cx="431.9" cy="312.6" r="3" fill="#A5A5A5"/><circle cx="114.0" cy="334.3" r="3" fill="#A5A5A5"/><circle cx="137.4" cy="348.5" r="3" fill="#A5A5A5"/><circle cx="142.5" cy="345.7" r="3" fill="#A5A5A5"/><circle cx="146.0" cy="364.2" r="3" fill="#A5A5A5"/><circle cx="156.0" cy="367.0" r="3" fill="#A5A5A5"/><circle cx="156.8" cy="345.7" r="3" fill="#A5A5A5"/><circle cx="148.8" cy="380.8" r="3" fill="#A5A5A5"/><circle cx="148.2" cy="389.3" r="3" fill="#A5A5A5"/><circle cx="171.6" cy="365.7" r="3" fill="#A5A5A5"/><circle cx="189.6" cy="352.0" r="3" fill="#A5A5A5"/><circle cx="223.0" cy="351.4" r="3" fill="#A5A5A5"/><circle cx="231.5" cy="361.4" r="3" fill="#A5A5A5"/><circle cx="250.7" cy="381.4" r="3" fill="#A5A5A5"/><circle cx="270.9" cy="400.8" r="3" fill="#A5A5A5"/><circle cx="230.1" cy="410.0" r="3" fill="#A5A5A5"/><circle cx="233.8" cy="420.7" r="3" fill="#A5A5A5"/><circle cx="270.0" cy="370.0" r="3" fill="#A5A5A5"/><circle cx="297.7" cy="375.6" r="3" fill="#A5A5A5"/><circle cx="298.6" cy="357.0" r="3" fill="#A5A5A5"/><circle cx="295.7" cy="348.5" r="3" fill="#A5A5A5"/><circle cx="331.1" cy="364.2" r="3" fill="#A5A5A5"/><circle cx="356.0" cy="352.8" r="3" fill="#A5A5A5"/><circle cx="393.0" cy="339.0" r="3" fill="#A5A5A5"/><circle cx="437.3" cy="374.2" r="3" fill="#A5A5A5"/><circle cx="455.8" cy="372.8" r="3" fill="#A5A5A5"/><circle cx="455.8" cy="358.5" r="3" fill="#A5A5A5"/><circle cx="482.9" cy="352.8" r="3" fill="#A5A5A5"/><circle cx="482.9" cy="364.2" r="3" fill="#A5A5A5"/><circle cx="513.7" cy="352.3" r="3" fill="#A5A5A5"/><circle cx="516.6" cy="360.8" r="3" fill="#A5A5A5"/><circle cx="528.0" cy="370.0" r="3" fill="#A5A5A5"/><circle cx="542.8" cy="363.7" r="3" fill="#A5A5A5"/><circle cx="527.1" cy="343.7" r="3" fill="#A5A5A5"/><circle cx="578.7" cy="333.3" r="3" fill="#A5A5A5"/><circle cx="592.3" cy="370.9" r="3" fill="#A5A5A5"/><circle cx="604.0" cy="373.0" r="3" fill="#A5A5A5"/><circle cx="601.8" cy="387.8" r="3" fill="#A5A5A5"/><circle cx="641.3" cy="385.8" r="3" fill="#A5A5A5"/><circle cx="669.1" cy="408.2" r="3" fill="#A5A5A5"/><circle cx="668.6" cy="361.3" r="3" fill="#A5A5A5"/><circle cx="704.8" cy="360.0" r="3" fill="#A5A5A5"/><circle cx="713.5" cy="349.6" r="3" fill="#A5A5A5"/><circle cx="728.5" cy="387.2" r="3" fill="#A5A5A5"/><circle cx="739.4" cy="351.8" r="3" fill="#A5A5A5"/><circle cx="746.2" cy="343.6" r="3" fill="#A5A5A5"/><circle cx="582.8" cy="342.3" r="3" fill="#A5A5A5"/><circle cx="596.4" cy="357.2" r="3" fill="#A5A5A5"/></g>
<g><line x1="120.0" y1="284.5" x2="120.0" y2="327.0" stroke="#FFC000" stroke-width="6" stroke-linecap="round"/><line x1="142.5" y1="210.2" x2="142.5" y2="260.3" stroke="#FFC000" stroke-width="6" stroke-linecap="round"/><circle cx="142.5" cy="268.2" r="3" fill="#FFC000"/><circle cx="142.5" cy="275.2" r="3" fill="#FFC000"/><circle cx="142.5" cy="282.4" r="3" fill="#FFC000"/><circle cx="142.5" cy="289.5" r="3" fill="#FFC000"/><circle cx="142.5" cy="296.5" r="3" fill="#FFC000"/><circle cx="142.5" cy="303.6" r="3" fill="#FFC000"/><circle cx="142.5" cy="311.1" r="3" fill="#FFC000"/><circle cx="142.5" cy="318.1" r="3" fill="#FFC000"/><circle cx="142.5" cy="325.0" r="3" fill="#FFC000"/><line x1="147.5" y1="239.3" x2="147.5" y2="258.3" stroke="#FFC000" stroke-width="6" stroke-linecap="round"/><circle cx="147.5" cy="265.9" r="3" fill="#FFC000"/><circle cx="147.5" cy="273.4" r="3" fill="#FFC000"/><circle cx="147.5" cy="280.4" r="3" fill="#FFC000"/><circle cx="147.5" cy="287.5" r="3" fill="#FFC000"/><circle cx="147.5" cy="294.0" r="3" fill="#FFC000"/><circle cx="147.5" cy="300.9" r="3" fill="#FFC000"/><circle cx="147.5" cy="308.0" r="3" fill="#FFC000"/><circle cx="147.5" cy="314.5" r="3" fill="#FFC000"/><circle cx="147.5" cy="321.6" r="3" fill="#FFC000"/><line x1="167.0" y1="165.6" x2="167.0" y2="255.8" stroke="#FFC000" stroke-width="6" stroke-linecap="round"/><circle cx="167.0" cy="264.1" r="3" fill="#FFC000"/><circle cx="167.0" cy="271.1" r="3" fill="#FFC000"/><circle cx="167.0" cy="278.2" r="3" fill="#FFC000"/><circle cx="167.0" cy="285.1" r="3" fill="#FFC000"/><circle cx="167.0" cy="292.3" r="3" fill="#FFC000"/><circle cx="167.0" cy="299.5" r="3" fill="#FFC000"/><circle cx="167.0" cy="306.1" r="3" fill="#FFC000"/><circle cx="167.0" cy="312.6" r="3" fill="#FFC000"/><circle cx="167.0" cy="319.8" r="3" fill="#FFC000"/><line x1="186.0" y1="261.0" x2="186.0" y2="327.0" stroke="#FFC000" stroke-width="6" stroke-linecap="round"/><line x1="311.0" y1="259.6" x2="311.0" y2="327.0" stroke="#FFC000" stroke-width="6" stroke-linecap="round"/><line x1="339.0" y1="188.9" x2="339.0" y2="258.5" stroke="#FFC000" stroke-width="6" stroke-linecap="round"/><circle cx="339.0" cy="266.4" r="3" fill="#FFC000"/><circle cx="339.0" cy="273.5" r="3" fill="#FFC000"/><circle cx="339.0" cy="280.3" r="3" fill="#FFC000"/><circle cx="339.0" cy="287.2" r="3" fill="#FFC000"/><circle cx="339.0" cy="294.0" r="3" fill="#FFC000"/><circle cx="339.0" cy="300.9" r="3" fill="#FFC000"/><circle cx="339.0" cy="308.0" r="3" fill="#FFC000"/><circle cx="339.0" cy="314.8" r="3" fill="#FFC000"/><circle cx="339.0" cy="321.7" r="3" fill="#FFC000"/><line x1="361.0" y1="169.8" x2="361.0" y2="255.4" stroke="#FFC000" stroke-width="6" stroke-linecap="round"/><circle cx="361.0" cy="263.5" r="3" fill="#FFC000"/><circle cx="361.0" cy="270.8" r="3" fill="#FFC000"/><circle cx="361.0" cy="277.6" r="3" fill="#FFC000"/><circle cx="361.0" cy="284.3" r="3" fill="#FFC000"/><circle cx="361.0" cy="291.6" r="3" fill="#FFC000"/><circle cx="361.0" cy="298.3" r="3" fill="#FFC000"/><circle cx="361.0" cy="305.0" r="3" fill="#FFC000"/><circle cx="361.0" cy="311.9" r="3" fill="#FFC000"/><circle cx="361.0" cy="319.1" r="3" fill="#FFC000"/><circle cx="361.0" cy="325.7" r="3" fill="#FFC000"/><line x1="364.6" y1="230.0" x2="364.6" y2="259.7" stroke="#FFC000" stroke-width="6" stroke-linecap="round"/><circle cx="364.6" cy="268.3" r="3" fill="#FFC000"/><circle cx="364.6" cy="275.3" r="3" fill="#FFC000"/><circle cx="364.6" cy="282.6" r="3" fill="#FFC000"/><circle cx="364.6" cy="289.3" r="3" fill="#FFC000"/><circle cx="364.6" cy="296.1" r="3" fill="#FFC000"/><circle cx="364.6" cy="303.3" r="3" fill="#FFC000"/><circle cx="364.6" cy="310.7" r="3" fill="#FFC000"/><circle cx="364.6" cy="317.6" r="3" fill="#FFC000"/><circle cx="364.6" cy="324.4" r="3" fill="#FFC000"/><line x1="377.4" y1="198.8" x2="377.4" y2="262.4" stroke="#FFC000" stroke-width="6" stroke-linecap="round"/><circle cx="377.4" cy="269.8" r="3" fill="#FFC000"/><circle cx="377.4" cy="277.1" r="3" fill="#FFC000"/><circle cx="377.4" cy="284.4" r="3" fill="#FFC000"/><circle cx="377.4" cy="291.1" r="3" fill="#FFC000"/><circle cx="377.4" cy="297.9" r="3" fill="#FFC000"/><circle cx="377.4" cy="305.2" r="3" fill="#FFC000"/><circle cx="377.4" cy="312.4" r="3" fill="#FFC000"/><circle cx="377.4" cy="319.7" r="3" fill="#FFC000"/><circle cx="377.4" cy="326.5" r="3" fill="#FFC000"/><line x1="384.5" y1="217.5" x2="384.5" y2="259.1" stroke="#FFC000" stroke-width="6" stroke-linecap="round"/><circle cx="384.5" cy="267.7" r="3" fill="#FFC000"/><circle cx="384.5" cy="274.4" r="3" fill="#FFC000"/><circle cx="384.5" cy="281.3" r="3" fill="#FFC000"/><circle cx="384.5" cy="288.2" r="3" fill="#FFC000"/><circle cx="384.5" cy="295.1" r="3" fill="#FFC000"/><circle cx="384.5" cy="302.0" r="3" fill="#FFC000"/><circle cx="384.5" cy="309.5" r="3" fill="#FFC000"/><circle cx="384.5" cy="316.1" r="3" fill="#FFC000"/><circle cx="384.5" cy="322.6" r="3" fill="#FFC000"/><line x1="459.0" y1="308.0" x2="459.0" y2="327.0" stroke="#FFC000" stroke-width="6" stroke-linecap="round"/><line x1="509.8" y1="224.8" x2="509.8" y2="267.3" stroke="#FFC000" stroke-width="6" stroke-linecap="round"/><circle cx="509.8" cy="276.3" r="3" fill="#FFC000"/><circle cx="509.8" cy="283.2" r="3" fill="#FFC000"/><circle cx="509.8" cy="290.7" r="3" fill="#FFC000"/><circle cx="509.8" cy="298.1" r="3" fill="#FFC000"/><circle cx="509.8" cy="304.8" r="3" fill="#FFC000"/><circle cx="509.8" cy="312.1" r="3" fill="#FFC000"/><circle cx="509.8" cy="319.4" r="3" fill="#FFC000"/><circle cx="509.8" cy="326.6" r="3" fill="#FFC000"/><line x1="513.0" y1="242.4" x2="513.0" y2="259.0" stroke="#FFC000" stroke-width="6" stroke-linecap="round"/><circle cx="513.0" cy="266.7" r="3" fill="#FFC000"/><circle cx="513.0" cy="273.5" r="3" fill="#FFC000"/><circle cx="513.0" cy="280.0" r="3" fill="#FFC000"/><circle cx="513.0" cy="287.1" r="3" fill="#FFC000"/><circle cx="513.0" cy="293.9" r="3" fill="#FFC000"/><circle cx="513.0" cy="301.2" r="3" fill="#FFC000"/><circle cx="513.0" cy="307.8" r="3" fill="#FFC000"/><circle cx="513.0" cy="315.2" r="3" fill="#FFC000"/><circle cx="513.0" cy="322.4" r="3" fill="#FFC000"/><line x1="531.5" y1="187.4" x2="531.5" y2="267.6" stroke="#FFC000" stroke-width="6" stroke-linecap="round"/><circle cx="531.5" cy="276.4" r="3" fill="#FFC000"/><circle cx="531.5" cy="283.4" r="3" fill="#FFC000"/><circle cx="531.5" cy="289.9" r="3" fill="#FFC000"/><circle cx="531.5" cy="297.2" r="3" fill="#FFC000"/><circle cx="531.5" cy="303.9" r="3" fill="#FFC000"/><circle cx="531.5" cy="310.7" r="3" fill="#FFC000"/><circle cx="531.5" cy="317.8" r="3" fill="#FFC000"/><circle cx="531.5" cy="324.8" r="3" fill="#FFC000"/><line x1="541.0" y1="242.4" x2="541.0" y2="268.1" stroke="#FFC000" stroke-width="6" stroke-linecap="round"/><circle cx="541.0" cy="276.4" r="3" fill="#FFC000"/><circle cx="541.0" cy="283.2" r="3" fill="#FFC000"/><circle cx="541.0" cy="290.0" r="3" fill="#FFC000"/><circle cx="541.0" cy="297.3" r="3" fill="#FFC000"/><circle cx="541.0" cy="304.3" r="3" fill="#FFC000"/><circle cx="541.0" cy="311.6" r="3" fill="#FFC000"/><circle cx="541.0" cy="318.4" r="3" fill="#FFC000"/><circle cx="541.0" cy="325.1" r="3" fill="#FFC000"/><line x1="554.0" y1="172.9" x2="554.0" y2="266.4" stroke="#FFC000" stroke-width="6" stroke-linecap="round"/><circle cx="554.0" cy="273.8" r="3" fill="#FFC000"/><circle cx="554.0" cy="281.1" r="3" fill="#FFC000"/><circle cx="554.0" cy="288.5" r="3" fill="#FFC000"/><circle cx="554.0" cy="295.8" r="3" fill="#FFC000"/><circle cx="554.0" cy="303.1" r="3" fill="#FFC000"/><circle cx="554.0" cy="309.6" r="3" fill="#FFC000"/><circle cx="554.0" cy="316.8" r="3" fill="#FFC000"/><circle cx="554.0" cy="324.1" r="3" fill="#FFC000"/><line x1="700.0" y1="309.0" x2="700.0" y2="327.0" stroke="#FFC000" stroke-width="6" stroke-linecap="round"/><line x1="706.8" y1="197.2" x2="706.8" y2="258.8" stroke="#FFC000" stroke-width="6" stroke-linecap="round"/><circle cx="706.8" cy="266.3" r="3" fill="#FFC000"/><circle cx="706.8" cy="273.4" r="3" fill="#FFC000"/><circle cx="706.8" cy="280.3" r="3" fill="#FFC000"/><circle cx="706.8" cy="287.3" r="3" fill="#FFC000"/><circle cx="706.8" cy="294.5" r="3" fill="#FFC000"/><circle cx="706.8" cy="301.0" r="3" fill="#FFC000"/><circle cx="706.8" cy="307.6" r="3" fill="#FFC000"/><circle cx="706.8" cy="314.2" r="3" fill="#FFC000"/><circle cx="706.8" cy="320.8" r="3" fill="#FFC000"/><line x1="713.0" y1="239.3" x2="713.0" y2="268.6" stroke="#FFC000" stroke-width="6" stroke-linecap="round"/><circle cx="713.0" cy="277.4" r="3" fill="#FFC000"/><circle cx="713.0" cy="283.9" r="3" fill="#FFC000"/><circle cx="713.0" cy="290.9" r="3" fill="#FFC000"/><circle cx="713.0" cy="297.8" r="3" fill="#FFC000"/><circle cx="713.0" cy="304.6" r="3" fill="#FFC000"/><circle cx="713.0" cy="311.4" r="3" fill="#FFC000"/><circle cx="713.0" cy="318.6" r="3" fill="#FFC000"/><circle cx="713.0" cy="325.7" r="3" fill="#FFC000"/><line x1="730.5" y1="159.8" x2="730.5" y2="257.7" stroke="#FFC000" stroke-width="6" stroke-linecap="round"/><circle cx="730.5" cy="265.3" r="3" fill="#FFC000"/><circle cx="730.5" cy="272.0" r="3" fill="#FFC000"/><circle cx="730.5" cy="279.0" r="3" fill="#FFC000"/><circle cx="730.5" cy="286.2" r="3" fill="#FFC000"/><circle cx="730.5" cy="293.1" r="3" fill="#FFC000"/><circle cx="730.5" cy="299.7" r="3" fill="#FFC000"/><circle cx="730.5" cy="306.4" r="3" fill="#FFC000"/><circle cx="730.5" cy="313.2" r="3" fill="#FFC000"/><circle cx="730.5" cy="320.3" r="3" fill="#FFC000"/><line x1="751.5" y1="225.8" x2="751.5" y2="260.3" stroke="#FFC000" stroke-width="6" stroke-linecap="round"/><circle cx="751.5" cy="268.9" r="3" fill="#FFC000"/><circle cx="751.5" cy="276.0" r="3" fill="#FFC000"/><circle cx="751.5" cy="283.0" r="3" fill="#FFC000"/><circle cx="751.5" cy="289.9" r="3" fill="#FFC000"/><circle cx="751.5" cy="296.8" r="3" fill="#FFC000"/><circle cx="751.5" cy="304.1" r="3" fill="#FFC000"/><circle cx="751.5" cy="311.0" r="3" fill="#FFC000"/><circle cx="751.5" cy="318.2" r="3" fill="#FFC000"/><circle cx="751.5" cy="325.1" r="3" fill="#FFC000"/><line x1="109.4" y1="322.0" x2="109.4" y2="336.9" stroke="#FFC000" stroke-width="6" stroke-linecap="round"/><line x1="119.1" y1="323.7" x2="119.1" y2="336.8" stroke="#FFC000" stroke-width="6" stroke-linecap="round"/><line x1="124.1" y1="328.2" x2="124.1" y2="339.9" stroke="#FFC000" stroke-width="6" stroke-linecap="round"/><line x1="143.7" y1="321.2" x2="143.7" y2="324.0" stroke="#FFC000" stroke-width="6" stroke-linecap="round"/><line x1="150.7" y1="319.6" x2="150.7" y2="327.8" stroke="#FFC000" stroke-width="6" stroke-linecap="round"/><line x1="168.6" y1="332.9" x2="168.6" y2="345.0" stroke="#FFC000" stroke-width="6" stroke-linecap="round"/><line x1="173.1" y1="313.7" x2="173.1" y2="319.8" stroke="#FFC000" stroke-width="6" stroke-linecap="round"/><line x1="182.8" y1="329.2" x2="182.8" y2="336.6" stroke="#FFC000" stroke-width="6" stroke-linecap="round"/><line x1="188.7" y1="313.2" x2="188.7" y2="328.0" stroke="#FFC000" stroke-width="6" stroke-linecap="round"/><line x1="197.6" y1="309.8" x2="197.6" y2="320.6" stroke="#FFC000" stroke-width="6" stroke-linecap="round"/><line x1="202.6" y1="316.3" x2="202.6" y2="331.8" stroke="#FFC000" stroke-width="6" stroke-linecap="round"/><line x1="207.2" y1="310.5" x2="207.2" y2="313.4" stroke="#FFC000" stroke-width="6" stroke-linecap="round"/><line x1="217.2" y1="326.3" x2="217.2" y2="330.1" stroke="#FFC000" stroke-width="6" stroke-linecap="round"/><line x1="222.7" y1="313.3" x2="222.7" y2="319.1" stroke="#FFC000" stroke-width="6" stroke-linecap="round"/><line x1="228.2" y1="330.1" x2="228.2" y2="335.1" stroke="#FFC000" stroke-width="6" stroke-linecap="round"/><line x1="244.5" y1="327.3" x2="244.5" y2="333.9" stroke="#FFC000" stroke-width="6" stroke-linecap="round"/><line x1="249.7" y1="322.6" x2="249.7" y2="328.0" stroke="#FFC000" stroke-width="6" stroke-linecap="round"/><line x1="255.1" y1="332.0" x2="255.1" y2="340.8" stroke="#FFC000" stroke-width="6" stroke-linecap="round"/><line x1="263.3" y1="311.9" x2="263.3" y2="326.6" stroke="#FFC000" stroke-width="6" stroke-linecap="round"/><line x1="266.5" y1="326.5" x2="266.5" y2="341.7" stroke="#FFC000" stroke-width="6" stroke-linecap="round"/><line x1="283.0" y1="310.6" x2="283.0" y2="313.1" stroke="#FFC000" stroke-width="6" stroke-linecap="round"/><line x1="296.7" y1="312.4" x2="296.7" y2="324.5" stroke="#FFC000" stroke-width="6" stroke-linecap="round"/><line x1="318.9" y1="314.7" x2="318.9" y2="323.0" stroke="#FFC000" stroke-width="6" stroke-linecap="round"/><line x1="324.5" y1="322.3" x2="324.5" y2="326.1" stroke="#FFC000" stroke-width="6" stroke-linecap="round"/><line x1="346.7" y1="308.9" x2="346.7" y2="311.1" stroke="#FFC000" stroke-width="6" stroke-linecap="round"/><line x1="372.6" y1="326.4" x2="372.6" y2="341.0" stroke="#FFC000" stroke-width="6" stroke-linecap="round"/><line x1="387.4" y1="325.1" x2="387.4" y2="339.7" stroke="#FFC000" stroke-width="6" stroke-linecap="round"/><line x1="404.7" y1="322.6" x2="404.7" y2="333.1" stroke="#FFC000" stroke-width="6" stroke-linecap="round"/><line x1="432.7" y1="329.0" x2="432.7" y2="332.1" stroke="#FFC000" stroke-width="6" stroke-linecap="round"/><line x1="442.3" y1="325.5" x2="442.3" y2="334.4" stroke="#FFC000" stroke-width="6" stroke-linecap="round"/><line x1="450.2" y1="308.3" x2="450.2" y2="314.5" stroke="#FFC000" stroke-width="6" stroke-linecap="round"/><line x1="454.3" y1="330.6" x2="454.3" y2="341.9" stroke="#FFC000" stroke-width="6" stroke-linecap="round"/><line x1="461.8" y1="324.6" x2="461.8" y2="329.4" stroke="#FFC000" stroke-width="6" stroke-linecap="round"/><line x1="475.7" y1="322.6" x2="475.7" y2="329.0" stroke="#FFC000" stroke-width="6" stroke-linecap="round"/><line x1="497.3" y1="312.2" x2="497.3" y2="320.5" stroke="#FFC000" stroke-width="6" stroke-linecap="round"/><line x1="502.2" y1="323.6" x2="502.2" y2="332.6" stroke="#FFC000" stroke-width="6" stroke-linecap="round"/><line x1="514.6" y1="308.8" x2="514.6" y2="323.0" stroke="#FFC000" stroke-width="6" stroke-linecap="round"/><line x1="533.1" y1="319.4" x2="533.1" y2="321.7" stroke="#FFC000" stroke-width="6" stroke-linecap="round"/><line x1="536.9" y1="309.2" x2="536.9" y2="320.0" stroke="#FFC000" stroke-width="6" stroke-linecap="round"/><line x1="556.1" y1="319.9" x2="556.1" y2="324.4" stroke="#FFC000" stroke-width="6" stroke-linecap="round"/><line x1="568.2" y1="316.6" x2="568.2" y2="328.4" stroke="#FFC000" stroke-width="6" stroke-linecap="round"/><line x1="586.7" y1="331.3" x2="586.7" y2="343.4" stroke="#FFC000" stroke-width="6" stroke-linecap="round"/><line x1="602.1" y1="322.2" x2="602.1" y2="336.5" stroke="#FFC000" stroke-width="6" stroke-linecap="round"/><line x1="609.7" y1="324.3" x2="609.7" y2="329.2" stroke="#FFC000" stroke-width="6" stroke-linecap="round"/><line x1="624.6" y1="330.5" x2="624.6" y2="345.0" stroke="#FFC000" stroke-width="6" stroke-linecap="round"/><line x1="642.2" y1="310.1" x2="642.2" y2="318.2" stroke="#FFC000" stroke-width="6" stroke-linecap="round"/><line x1="647.8" y1="308.7" x2="647.8" y2="322.0" stroke="#FFC000" stroke-width="6" stroke-linecap="round"/><line x1="655.2" y1="316.4" x2="655.2" y2="329.4" stroke="#FFC000" stroke-width="6" stroke-linecap="round"/><line x1="661.5" y1="326.1" x2="661.5" y2="339.8" stroke="#FFC000" stroke-width="6" stroke-linecap="round"/><line x1="667.8" y1="331.7" x2="667.8" y2="334.9" stroke="#FFC000" stroke-width="6" stroke-linecap="round"/><line x1="674.9" y1="326.2" x2="674.9" y2="337.2" stroke="#FFC000" stroke-width="6" stroke-linecap="round"/><line x1="686.5" y1="329.1" x2="686.5" y2="343.7" stroke="#FFC000" stroke-width="6" stroke-linecap="round"/><line x1="704.3" y1="320.6" x2="704.3" y2="331.1" stroke="#FFC000" stroke-width="6" stroke-linecap="round"/><line x1="713.8" y1="318.0" x2="713.8" y2="331.2" stroke="#FFC000" stroke-width="6" stroke-linecap="round"/><line x1="725.1" y1="318.3" x2="725.1" y2="333.7" stroke="#FFC000" stroke-width="6" stroke-linecap="round"/><line x1="729.8" y1="311.2" x2="729.8" y2="319.2" stroke="#FFC000" stroke-width="6" stroke-linecap="round"/><line x1="736.9" y1="315.9" x2="736.9" y2="320.6" stroke="#FFC000" stroke-width="6" stroke-linecap="round"/><line x1="743.3" y1="327.5" x2="743.3" y2="329.8" stroke="#FFC000" stroke-width="6" stroke-linecap="round"/><circle cx="702.1" cy="342.3" r="3" fill="#FFC000"/><circle cx="162.9" cy="342.8" r="3" fill="#FFC000"/><circle cx="201.5" cy="318.9" r="3" fill="#FFC000"/><circle cx="342.3" cy="323.1" r="3" fill="#FFC000"/><circle cx="441.3" cy="323.9" r="3" fill="#FFC000"/><circle cx="150.7" cy="326.7" r="3" fill="#FFC000"/><circle cx="602.0" cy="311.5" r="3" fill="#FFC000"/><circle cx="681.3" cy="345.2" r="3" fill="#FFC000"/><circle cx="747.2" cy="333.0" r="3" fill="#FFC000"/><circle cx="249.4" cy="331.6" r="3" fill="#FFC000"/><circle cx="329.6" cy="352.9" r="3" fill="#FFC000"/><circle cx="262.4" cy="342.4" r="3" fill="#FFC000"/><circle cx="283.2" cy="329.0" r="3" fill="#FFC000"/><circle cx="168.0" cy="333.5" r="3" fill="#FFC000"/><circle cx="306.2" cy="338.8" r="3" fill="#FFC000"/><circle cx="363.2" cy="342.9" r="3" fill="#FFC000"/><circle cx="242.5" cy="323.2" r="3" fill="#FFC000"/><circle cx="384.3" cy="332.4" r="3" fill="#FFC000"/><circle cx="526.0" cy="332.2" r="3" fill="#FFC000"/><circle cx="322.8" cy="309.7" r="3" fill="#FFC000"/><circle cx="501.1" cy="339.8" r="3" fill="#FFC000"/><circle cx="602.8" cy="341.4" r="3" fill="#FFC000"/><circle cx="266.9" cy="324.8" r="3" fill="#FFC000"/><circle cx="558.1" cy="317.9" r="3" fill="#FFC000"/><circle cx="736.0" cy="345.7" r="3" fill="#FFC000"/><circle cx="470.3" cy="347.9" r="3" fill="#FFC000"/><circle cx="635.6" cy="311.5" r="3" fill="#FFC000"/><circle cx="264.5" cy="321.9" r="3" fill="#FFC000"/><circle cx="237.9" cy="319.2" r="3" fill="#FFC000"/><circle cx="726.8" cy="320.0" r="3" fill="#FFC000"/><circle cx="448.0" cy="335.7" r="3" fill="#FFC000"/><circle cx="189.6" cy="317.7" r="3" fill="#FFC000"/><circle cx="448.1" cy="330.6" r="3" fill="#FFC000"/><circle cx="365.1" cy="339.0" r="3" fill="#FFC000"/><circle cx="307.6" cy="330.8" r="3" fill="#FFC000"/><circle cx="686.6" cy="337.0" r="3" fill="#FFC000"/><circle cx="678.6" cy="319.7" r="3" fill="#FFC000"/><circle cx="167.4" cy="341.8" r="3" fill="#FFC000"/><circle cx="595.8" cy="330.2" r="3" fill="#FFC000"/><circle cx="549.8" cy="328.6" r="3" fill="#FFC000"/><circle cx="261.3" cy="310.9" r="3" fill="#FFC000"/><circle cx="120.9" cy="325.0" r="3" fill="#FFC000"/><circle cx="136.7" cy="324.0" r="3" fill="#FFC000"/><circle cx="279.8" cy="344.1" r="3" fill="#FFC000"/><circle cx="644.2" cy="330.9" r="3" fill="#FFC000"/><circle cx="740.9" cy="325.7" r="3" fill="#FFC000"/><circle cx="665.8" cy="310.7" r="3" fill="#FFC000"/><circle cx="354.8" cy="331.5" r="3" fill="#FFC000"/><circle cx="227.7" cy="322.5" r="3" fill="#FFC000"/><circle cx="214.9" cy="332.2" r="3" fill="#FFC000"/><circle cx="308.0" cy="337.3" r="3" fill="#FFC000"/><circle cx="492.6" cy="339.3" r="3" fill="#FFC000"/><circle cx="289.9" cy="327.4" r="3" fill="#FFC000"/><circle cx="516.5" cy="339.8" r="3" fill="#FFC000"/><circle cx="148.2" cy="336.2" r="3" fill="#FFC000"/><circle cx="368.5" cy="330.2" r="3" fill="#FFC000"/><circle cx="329.5" cy="323.0" r="3" fill="#FFC000"/><circle cx="206.5" cy="315.2" r="3" fill="#FFC000"/><circle cx="361.3" cy="327.4" r="3" fill="#FFC000"/><circle cx="144.6" cy="333.0" r="3" fill="#FFC000"/><circle cx="124.6" cy="331.9" r="3" fill="#FFC000"/><circle cx="229.2" cy="326.6" r="3" fill="#FFC000"/><circle cx="505.4" cy="340.0" r="3" fill="#FFC000"/><circle cx="513.2" cy="321.8" r="3" fill="#FFC000"/><circle cx="196.9" cy="346.3" r="3" fill="#FFC000"/><circle cx="547.2" cy="330.0" r="3" fill="#FFC000"/><circle cx="591.5" cy="325.9" r="3" fill="#FFC000"/><circle cx="182.1" cy="332.1" r="3" fill="#FFC000"/><circle cx="272.9" cy="310.4" r="3" fill="#FFC000"/><circle cx="186.8" cy="328.8" r="3" fill="#FFC000"/><circle cx="420.3" cy="332.2" r="3" fill="#FFC000"/><circle cx="361.5" cy="310.0" r="3" fill="#FFC000"/><circle cx="271.3" cy="334.7" r="3" fill="#FFC000"/><circle cx="187.0" cy="329.0" r="3" fill="#FFC000"/><circle cx="285.8" cy="331.8" r="3" fill="#FFC000"/><circle cx="226.9" cy="324.1" r="3" fill="#FFC000"/><circle cx="751.2" cy="336.5" r="3" fill="#FFC000"/><circle cx="713.7" cy="353.3" r="3" fill="#FFC000"/><circle cx="157.5" cy="331.1" r="3" fill="#FFC000"/><circle cx="582.7" cy="326.6" r="3" fill="#FFC000"/><circle cx="124.6" cy="322.0" r="3" fill="#FFC000"/><circle cx="631.2" cy="336.8" r="3" fill="#FFC000"/><circle cx="223.6" cy="334.8" r="3" fill="#FFC000"/><circle cx="432.9" cy="322.0" r="3" fill="#FFC000"/><circle cx="745.0" cy="346.6" r="3" fill="#FFC000"/><circle cx="246.1" cy="322.0" r="3" fill="#FFC000"/><circle cx="680.7" cy="339.6" r="3" fill="#FFC000"/><circle cx="379.4" cy="318.8" r="3" fill="#FFC000"/><circle cx="257.5" cy="318.4" r="3" fill="#FFC000"/><circle cx="207.3" cy="321.8" r="3" fill="#FFC000"/><circle cx="746.2" cy="320.5" r="3" fill="#FFC000"/><circle cx="667.7" cy="353.4" r="3" fill="#FFC000"/><circle cx="628.9" cy="317.4" r="3" fill="#FFC000"/><circle cx="207.2" cy="322.7" r="3" fill="#FFC000"/><circle cx="226.4" cy="313.6" r="3" fill="#FFC000"/><circle cx="502.0" cy="334.0" r="3" fill="#FFC000"/><circle cx="372.2" cy="339.4" r="3" fill="#FFC000"/><circle cx="637.3" cy="342.4" r="3" fill="#FFC000"/><circle cx="403.4" cy="303.8" r="3" fill="#FFC000"/><circle cx="496.4" cy="325.6" r="3" fill="#FFC000"/><circle cx="150.8" cy="322.2" r="3" fill="#FFC000"/><circle cx="556.7" cy="326.1" r="3" fill="#FFC000"/><circle cx="656.7" cy="334.8" r="3" fill="#FFC000"/><circle cx="343.5" cy="343.7" r="3" fill="#FFC000"/><circle cx="516.8" cy="319.8" r="3" fill="#FFC000"/><circle cx="748.2" cy="324.4" r="3" fill="#FFC000"/><circle cx="152.3" cy="316.2" r="3" fill="#FFC000"/><circle cx="244.3" cy="323.6" r="3" fill="#FFC000"/><circle cx="125.1" cy="321.9" r="3" fill="#FFC000"/><circle cx="303.6" cy="324.3" r="3" fill="#FFC000"/><circle cx="249.6" cy="316.6" r="3" fill="#FFC000"/><circle cx="656.5" cy="346.4" r="3" fill="#FFC000"/><circle cx="371.0" cy="354.1" r="3" fill="#FFC000"/><circle cx="582.1" cy="328.5" r="3" fill="#FFC000"/><circle cx="139.2" cy="326.7" r="3" fill="#FFC000"/><circle cx="321.1" cy="335.3" r="3" fill="#FFC000"/><circle cx="530.4" cy="350.1" r="3" fill="#FFC000"/><circle cx="346.2" cy="347.2" r="3" fill="#FFC000"/><line x1="115.0" y1="307.1" x2="115.0" y2="327.6" stroke="#FFC000" stroke-width="5" stroke-linecap="round"/><line x1="122.1" y1="309.1" x2="122.1" y2="329.4" stroke="#FFC000" stroke-width="5" stroke-linecap="round"/><line x1="130.3" y1="305.9" x2="130.3" y2="325.2" stroke="#FFC000" stroke-width="5" stroke-linecap="round"/><line x1="138.8" y1="308.2" x2="138.8" y2="319.7" stroke="#FFC000" stroke-width="5" stroke-linecap="round"/><line x1="147.0" y1="310.4" x2="147.0" y2="336.8" stroke="#FFC000" stroke-width="5" stroke-linecap="round"/><line x1="155.1" y1="304.5" x2="155.1" y2="330.5" stroke="#FFC000" stroke-width="5" stroke-linecap="round"/><line x1="163.9" y1="308.8" x2="163.9" y2="333.1" stroke="#FFC000" stroke-width="5" stroke-linecap="round"/><line x1="171.0" y1="303.9" x2="171.0" y2="333.8" stroke="#FFC000" stroke-width="5" stroke-linecap="round"/><line x1="179.3" y1="304.2" x2="179.3" y2="331.7" stroke="#FFC000" stroke-width="5" stroke-linecap="round"/><line x1="186.6" y1="305.1" x2="186.6" y2="325.2" stroke="#FFC000" stroke-width="5" stroke-linecap="round"/><line x1="196.0" y1="299.6" x2="196.0" y2="333.2" stroke="#FFC000" stroke-width="5" stroke-linecap="round"/><line x1="203.2" y1="317.0" x2="203.2" y2="331.0" stroke="#FFC000" stroke-width="5" stroke-linecap="round"/><line x1="210.2" y1="310.1" x2="210.2" y2="319.6" stroke="#FFC000" stroke-width="5" stroke-linecap="round"/><line x1="303.0" y1="318.2" x2="303.0" y2="336.0" stroke="#FFC000" stroke-width="5" stroke-linecap="round"/><line x1="311.2" y1="313.5" x2="311.2" y2="326.3" stroke="#FFC000" stroke-width="5" stroke-linecap="round"/><line x1="320.6" y1="304.9" x2="320.6" y2="332.7" stroke="#FFC000" stroke-width="5" stroke-linecap="round"/><line x1="328.8" y1="311.8" x2="328.8" y2="329.4" stroke="#FFC000" stroke-width="5" stroke-linecap="round"/><line x1="337.1" y1="317.6" x2="337.1" y2="329.6" stroke="#FFC000" stroke-width="5" stroke-linecap="round"/><line x1="347.9" y1="309.2" x2="347.9" y2="334.6" stroke="#FFC000" stroke-width="5" stroke-linecap="round"/><line x1="356.3" y1="299.1" x2="356.3" y2="327.3" stroke="#FFC000" stroke-width="5" stroke-linecap="round"/><line x1="365.4" y1="308.4" x2="365.4" y2="331.9" stroke="#FFC000" stroke-width="5" stroke-linecap="round"/><line x1="374.6" y1="313.3" x2="374.6" y2="322.5" stroke="#FFC000" stroke-width="5" stroke-linecap="round"/><line x1="384.3" y1="301.8" x2="384.3" y2="325.8" stroke="#FFC000" stroke-width="5" stroke-linecap="round"/><line x1="394.1" y1="310.0" x2="394.1" y2="334.7" stroke="#FFC000" stroke-width="5" stroke-linecap="round"/><line x1="491.0" y1="318.1" x2="491.0" y2="325.4" stroke="#FFC000" stroke-width="5" stroke-linecap="round"/><line x1="501.1" y1="313.1" x2="501.1" y2="329.8" stroke="#FFC000" stroke-width="5" stroke-linecap="round"/><line x1="509.9" y1="306.1" x2="509.9" y2="332.4" stroke="#FFC000" stroke-width="5" stroke-linecap="round"/><line x1="519.2" y1="318.0" x2="519.2" y2="335.9" stroke="#FFC000" stroke-width="5" stroke-linecap="round"/><line x1="528.5" y1="313.6" x2="528.5" y2="321.3" stroke="#FFC000" stroke-width="5" stroke-linecap="round"/><line x1="537.4" y1="312.5" x2="537.4" y2="329.7" stroke="#FFC000" stroke-width="5" stroke-linecap="round"/><line x1="547.1" y1="317.5" x2="547.1" y2="333.3" stroke="#FFC000" stroke-width="5" stroke-linecap="round"/><line x1="557.5" y1="302.9" x2="557.5" y2="323.1" stroke="#FFC000" stroke-width="5" stroke-linecap="round"/><line x1="567.1" y1="313.8" x2="567.1" y2="330.0" stroke="#FFC000" stroke-width="5" stroke-linecap="round"/><line x1="577.8" y1="305.8" x2="577.8" y2="336.6" stroke="#FFC000" stroke-width="5" stroke-linecap="round"/><line x1="588.0" y1="313.0" x2="588.0" y2="324.3" stroke="#FFC000" stroke-width="5" stroke-linecap="round"/><line x1="677.0" y1="303.6" x2="677.0" y2="324.8" stroke="#FFC000" stroke-width="5" stroke-linecap="round"/><line x1="685.8" y1="304.0" x2="685.8" y2="324.6" stroke="#FFC000" stroke-width="5" stroke-linecap="round"/><line x1="694.6" y1="301.7" x2="694.6" y2="335.0" stroke="#FFC000" stroke-width="5" stroke-linecap="round"/><line x1="705.2" y1="313.2" x2="705.2" y2="329.1" stroke="#FFC000" stroke-width="5" stroke-linecap="round"/><line x1="715.1" y1="303.7" x2="715.1" y2="320.5" stroke="#FFC000" stroke-width="5" stroke-linecap="round"/><line x1="725.9" y1="303.2" x2="725.9" y2="327.7" stroke="#FFC000" stroke-width="5" stroke-linecap="round"/><line x1="735.1" y1="308.6" x2="735.1" y2="329.7" stroke="#FFC000" stroke-width="5" stroke-linecap="round"/><line x1="744.1" y1="300.7" x2="744.1" y2="336.4" stroke="#FFC000" stroke-width="5" stroke-linecap="round"/><line x1="754.1" y1="300.5" x2="754.1" y2="329.7" stroke="#FFC000" stroke-width="5" stroke-linecap="round"/><circle cx="110.3" cy="341.4" r="3" fill="#FFC000"/><circle cx="121.7" cy="360.0" r="3" fill="#FFC000"/><circle cx="126.0" cy="358.5" r="3" fill="#FFC000"/><circle cx="161.6" cy="374.2" r="3" fill="#FFC000"/><circle cx="187.3" cy="341.4" r="3" fill="#FFC000"/><circle cx="213.8" cy="352.8" r="3" fill="#FFC000"/><circle cx="239.5" cy="373.4" r="3" fill="#FFC000"/><circle cx="227.3" cy="412.2" r="3" fill="#FFC000"/><circle cx="271.5" cy="374.2" r="3" fill="#FFC000"/><circle cx="283.5" cy="357.0" r="3" fill="#FFC000"/><circle cx="293.0" cy="360.0" r="3" fill="#FFC000"/><circle cx="290.9" cy="376.2" r="3" fill="#FFC000"/><circle cx="305.0" cy="345.7" r="3" fill="#FFC000"/><circle cx="261.5" cy="351.4" r="3" fill="#FFC000"/><circle cx="213.0" cy="338.6" r="3" fill="#FFC000"/><circle cx="336.0" cy="350.0" r="3" fill="#FFC000"/><circle cx="336.8" cy="352.8" r="3" fill="#FFC000"/><circle cx="360.2" cy="357.1" r="3" fill="#FFC000"/><circle cx="348.8" cy="343.7" r="3" fill="#FFC000"/><circle cx="356.0" cy="343.7" r="3" fill="#FFC000"/><circle cx="456.7" cy="388.5" r="3" fill="#FFC000"/><circle cx="465.8" cy="382.8" r="3" fill="#FFC000"/><circle cx="465.8" cy="367.0" r="3" fill="#FFC000"/><circle cx="465.8" cy="352.8" r="3" fill="#FFC000"/><circle cx="492.9" cy="367.0" r="3" fill="#FFC000"/><circle cx="499.5" cy="349.4" r="3" fill="#FFC000"/><circle cx="532.8" cy="366.5" r="3" fill="#FFC000"/><circle cx="480.0" cy="342.8" r="3" fill="#FFC000"/><circle cx="443.0" cy="362.8" r="3" fill="#FFC000"/><circle cx="421.6" cy="361.4" r="3" fill="#FFC000"/><circle cx="550.0" cy="357.2" r="3" fill="#FFC000"/><circle cx="552.8" cy="353.2" r="3" fill="#FFC000"/><circle cx="548.7" cy="338.2" r="3" fill="#FFC000"/><circle cx="660.4" cy="360.5" r="3" fill="#FFC000"/><circle cx="672.7" cy="360.0" r="3" fill="#FFC000"/><circle cx="724.4" cy="364.0" r="3" fill="#FFC000"/><circle cx="749.0" cy="357.2" r="3" fill="#FFC000"/><circle cx="599.1" cy="434.9" r="3" fill="#FFC000"/><circle cx="629.9" cy="364.9" r="3" fill="#FFC000"/><circle cx="640.0" cy="365.4" r="3" fill="#FFC000"/><circle cx="652.2" cy="347.7" r="3" fill="#FFC000"/><circle cx="630.4" cy="346.3" r="3" fill="#FFC000"/></g>
<g><line x1="112.0" y1="274.0" x2="112.0" y2="329.0" stroke="#92D050" stroke-width="6" stroke-linecap="round"/><line x1="115.5" y1="278.0" x2="115.5" y2="329.0" stroke="#92D050" stroke-width="6" stroke-linecap="round"/><line x1="126.7" y1="247.6" x2="126.7" y2="262.5" stroke="#92D050" stroke-width="6" stroke-linecap="round"/><circle cx="126.7" cy="270.9" r="3" fill="#92D050"/><circle cx="126.7" cy="277.5" r="3" fill="#92D050"/><circle cx="126.7" cy="284.4" r="3" fill="#92D050"/><circle cx="126.7" cy="291.3" r="3" fill="#92D050"/><circle cx="126.7" cy="298.7" r="3" fill="#92D050"/><circle cx="126.7" cy="306.1" r="3" fill="#92D050"/><circle cx="126.7" cy="313.0" r="3" fill="#92D050"/><circle cx="126.7" cy="320.4" r="3" fill="#92D050"/><line x1="130.5" y1="266.0" x2="130.5" y2="327.0" stroke="#92D050" stroke-width="6" stroke-linecap="round"/><line x1="141.3" y1="213.4" x2="141.3" y2="258.7" stroke="#92D050" stroke-width="6" stroke-linecap="round"/><circle cx="141.3" cy="266.6" r="3" fill="#92D050"/><circle cx="141.3" cy="273.2" r="3" fill="#92D050"/><circle cx="141.3" cy="280.5" r="3" fill="#92D050"/><circle cx="141.3" cy="287.7" r="3" fill="#92D050"/><circle cx="141.3" cy="295.1" r="3" fill="#92D050"/><circle cx="141.3" cy="302.4" r="3" fill="#92D050"/><circle cx="141.3" cy="309.5" r="3" fill="#92D050"/><circle cx="141.3" cy="316.8" r="3" fill="#92D050"/><circle cx="141.3" cy="323.8" r="3" fill="#92D050"/><line x1="155.2" y1="194.0" x2="155.2" y2="263.2" stroke="#92D050" stroke-width="6" stroke-linecap="round"/><circle cx="155.2" cy="270.2" r="3" fill="#92D050"/><circle cx="155.2" cy="276.9" r="3" fill="#92D050"/><circle cx="155.2" cy="284.2" r="3" fill="#92D050"/><circle cx="155.2" cy="290.7" r="3" fill="#92D050"/><circle cx="155.2" cy="297.3" r="3" fill="#92D050"/><circle cx="155.2" cy="303.9" r="3" fill="#92D050"/><circle cx="155.2" cy="311.3" r="3" fill="#92D050"/><circle cx="155.2" cy="318.0" r="3" fill="#92D050"/><circle cx="155.2" cy="324.5" r="3" fill="#92D050"/><line x1="170.7" y1="175.0" x2="170.7" y2="256.7" stroke="#92D050" stroke-width="6" stroke-linecap="round"/><circle cx="170.7" cy="265.4" r="3" fill="#92D050"/><circle cx="170.7" cy="272.6" r="3" fill="#92D050"/><circle cx="170.7" cy="279.9" r="3" fill="#92D050"/><circle cx="170.7" cy="287.3" r="3" fill="#92D050"/><circle cx="170.7" cy="294.4" r="3" fill="#92D050"/><circle cx="170.7" cy="301.7" r="3" fill="#92D050"/><circle cx="170.7" cy="308.3" r="3" fill="#92D050"/><circle cx="170.7" cy="315.5" r="3" fill="#92D050"/><circle cx="170.7" cy="322.5" r="3" fill="#92D050"/><line x1="182.4" y1="165.6" x2="182.4" y2="256.5" stroke="#92D050" stroke-width="6" stroke-linecap="round"/><circle cx="182.4" cy="265.0" r="3" fill="#92D050"/><circle cx="182.4" cy="272.4" r="3" fill="#92D050"/><circle cx="182.4" cy="279.0" r="3" fill="#92D050"/><circle cx="182.4" cy="285.8" r="3" fill="#92D050"/><circle cx="182.4" cy="292.9" r="3" fill="#92D050"/><circle cx="182.4" cy="300.2" r="3" fill="#92D050"/><circle cx="182.4" cy="306.9" r="3" fill="#92D050"/><circle cx="182.4" cy="313.6" r="3" fill="#92D050"/><circle cx="182.4" cy="320.4" r="3" fill="#92D050"/><line x1="193.0" y1="161.5" x2="193.0" y2="265.5" stroke="#92D050" stroke-width="6" stroke-linecap="round"/><circle cx="193.0" cy="273.3" r="3" fill="#92D050"/><circle cx="193.0" cy="280.2" r="3" fill="#92D050"/><circle cx="193.0" cy="287.1" r="3" fill="#92D050"/><circle cx="193.0" cy="294.0" r="3" fill="#92D050"/><circle cx="193.0" cy="300.9" r="3" fill="#92D050"/><circle cx="193.0" cy="307.5" r="3" fill="#92D050"/><circle cx="193.0" cy="314.5" r="3" fill="#92D050"/><line x1="201.5" y1="210.2" x2="201.5" y2="260.8" stroke="#92D050" stroke-width="6" stroke-linecap="round"/><circle cx="201.5" cy="269.3" r="3" fill="#92D050"/><circle cx="201.5" cy="275.9" r="3" fill="#92D050"/><circle cx="201.5" cy="283.1" r="3" fill="#92D050"/><circle cx="201.5" cy="290.4" r="3" fill="#92D050"/><circle cx="201.5" cy="297.6" r="3" fill="#92D050"/><circle cx="201.5" cy="304.6" r="3" fill="#92D050"/><circle cx="201.5" cy="311.6" r="3" fill="#92D050"/><line x1="205.6" y1="223.7" x2="205.6" y2="267.6" stroke="#92D050" stroke-width="6" stroke-linecap="round"/><circle cx="205.6" cy="274.9" r="3" fill="#92D050"/><circle cx="205.6" cy="281.5" r="3" fill="#92D050"/><circle cx="205.6" cy="288.7" r="3" fill="#92D050"/><circle cx="205.6" cy="296.1" r="3" fill="#92D050"/><circle cx="205.6" cy="303.1" r="3" fill="#92D050"/><circle cx="205.6" cy="310.1" r="3" fill="#92D050"/><line x1="244.0" y1="305.0" x2="244.0" y2="329.0" stroke="#92D050" stroke-width="6" stroke-linecap="round"/><line x1="252.0" y1="300.0" x2="252.0" y2="329.0" stroke="#92D050" stroke-width="6" stroke-linecap="round"/><line x1="262.0" y1="299.0" x2="262.0" y2="329.0" stroke="#92D050" stroke-width="6" stroke-linecap="round"/><line x1="275.0" y1="295.0" x2="275.0" y2="329.0" stroke="#92D050" stroke-width="6" stroke-linecap="round"/><line x1="288.0" y1="287.6" x2="288.0" y2="329.0" stroke="#92D050" stroke-width="6" stroke-linecap="round"/><line x1="302.0" y1="271.0" x2="302.0" y2="329.0" stroke="#92D050" stroke-width="6" stroke-linecap="round"/><line x1="316.8" y1="242.4" x2="316.8" y2="257.6" stroke="#92D050" stroke-width="6" stroke-linecap="round"/><circle cx="316.8" cy="265.1" r="3" fill="#92D050"/><circle cx="316.8" cy="271.8" r="3" fill="#92D050"/><circle cx="316.8" cy="278.9" r="3" fill="#92D050"/><circle cx="316.8" cy="285.7" r="3" fill="#92D050"/><circle cx="316.8" cy="292.5" r="3" fill="#92D050"/><circle cx="316.8" cy="299.7" r="3" fill="#92D050"/><circle cx="316.8" cy="307.1" r="3" fill="#92D050"/><circle cx="316.8" cy="313.9" r="3" fill="#92D050"/><circle cx="316.8" cy="321.1" r="3" fill="#92D050"/><circle cx="316.8" cy="328.0" r="3" fill="#92D050"/><line x1="320.0" y1="267.0" x2="320.0" y2="327.0" stroke="#92D050" stroke-width="6" stroke-linecap="round"/><line x1="331.4" y1="206.1" x2="331.4" y2="263.2" stroke="#92D050" stroke-width="6" stroke-linecap="round"/><circle cx="331.4" cy="270.7" r="3" fill="#92D050"/><circle cx="331.4" cy="277.4" r="3" fill="#92D050"/><circle cx="331.4" cy="284.0" r="3" fill="#92D050"/><circle cx="331.4" cy="290.9" r="3" fill="#92D050"/><circle cx="331.4" cy="297.8" r="3" fill="#92D050"/><circle cx="331.4" cy="304.5" r="3" fill="#92D050"/><circle cx="331.4" cy="311.4" r="3" fill="#92D050"/><circle cx="331.4" cy="318.2" r="3" fill="#92D050"/><circle cx="331.4" cy="325.5" r="3" fill="#92D050"/><line x1="345.9" y1="181.8" x2="345.9" y2="268.9" stroke="#92D050" stroke-width="6" stroke-linecap="round"/><circle cx="345.9" cy="276.8" r="3" fill="#92D050"/><circle cx="345.9" cy="283.9" r="3" fill="#92D050"/><circle cx="345.9" cy="290.9" r="3" fill="#92D050"/><circle cx="345.9" cy="298.2" r="3" fill="#92D050"/><circle cx="345.9" cy="305.6" r="3" fill="#92D050"/><circle cx="345.9" cy="312.6" r="3" fill="#92D050"/><circle cx="345.9" cy="319.6" r="3" fill="#92D050"/><circle cx="345.9" cy="326.8" r="3" fill="#92D050"/><line x1="360.4" y1="173.0" x2="360.4" y2="260.6" stroke="#92D050" stroke-width="6" stroke-linecap="round"/><circle cx="360.4" cy="269.1" r="3" fill="#92D050"/><circle cx="360.4" cy="276.5" r="3" fill="#92D050"/><circle cx="360.4" cy="283.5" r="3" fill="#92D050"/><circle cx="360.4" cy="290.2" r="3" fill="#92D050"/><circle cx="360.4" cy="297.0" r="3" fill="#92D050"/><circle cx="360.4" cy="304.2" r="3" fill="#92D050"/><circle cx="360.4" cy="311.4" r="3" fill="#92D050"/><circle cx="360.4" cy="318.8" r="3" fill="#92D050"/><circle cx="360.4" cy="326.2" r="3" fill="#92D050"/><line x1="370.8" y1="165.6" x2="370.8" y2="257.7" stroke="#92D050" stroke-width="6" stroke-linecap="round"/><circle cx="370.8" cy="265.2" r="3" fill="#92D050"/><circle cx="370.8" cy="271.9" r="3" fill="#92D050"/><circle cx="370.8" cy="279.1" r="3" fill="#92D050"/><circle cx="370.8" cy="286.4" r="3" fill="#92D050"/><circle cx="370.8" cy="293.8" r="3" fill="#92D050"/><circle cx="370.8" cy="300.6" r="3" fill="#92D050"/><circle cx="370.8" cy="307.9" r="3" fill="#92D050"/><circle cx="370.8" cy="314.8" r="3" fill="#92D050"/><circle cx="370.8" cy="321.7" r="3" fill="#92D050"/><line x1="381.2" y1="169.8" x2="381.2" y2="256.2" stroke="#92D050" stroke-width="6" stroke-linecap="round"/><circle cx="381.2" cy="263.4" r="3" fill="#92D050"/><circle cx="381.2" cy="270.7" r="3" fill="#92D050"/><circle cx="381.2" cy="277.5" r="3" fill="#92D050"/><circle cx="381.2" cy="284.4" r="3" fill="#92D050"/><circle cx="381.2" cy="291.5" r="3" fill="#92D050"/><circle cx="381.2" cy="298.6" r="3" fill="#92D050"/><circle cx="381.2" cy="305.1" r="3" fill="#92D050"/><circle cx="381.2" cy="312.0" r="3" fill="#92D050"/><circle cx="381.2" cy="318.9" r="3" fill="#92D050"/><line x1="387.5" y1="236.0" x2="387.5" y2="257.9" stroke="#92D050" stroke-width="6" stroke-linecap="round"/><circle cx="387.5" cy="266.1" r="3" fill="#92D050"/><circle cx="387.5" cy="273.6" r="3" fill="#92D050"/><circle cx="387.5" cy="280.5" r="3" fill="#92D050"/><circle cx="387.5" cy="287.5" r="3" fill="#92D050"/><circle cx="387.5" cy="294.1" r="3" fill="#92D050"/><circle cx="387.5" cy="300.9" r="3" fill="#92D050"/><circle cx="387.5" cy="308.1" r="3" fill="#92D050"/><circle cx="387.5" cy="314.7" r="3" fill="#92D050"/><line x1="391.3" y1="225.4" x2="391.3" y2="267.7" stroke="#92D050" stroke-width="6" stroke-linecap="round"/><circle cx="391.3" cy="274.9" r="3" fill="#92D050"/><circle cx="391.3" cy="282.4" r="3" fill="#92D050"/><circle cx="391.3" cy="289.2" r="3" fill="#92D050"/><circle cx="391.3" cy="296.5" r="3" fill="#92D050"/><circle cx="391.3" cy="303.8" r="3" fill="#92D050"/><circle cx="391.3" cy="310.6" r="3" fill="#92D050"/><circle cx="391.3" cy="317.7" r="3" fill="#92D050"/><line x1="428.0" y1="302.0" x2="428.0" y2="329.0" stroke="#92D050" stroke-width="6" stroke-linecap="round"/><line x1="439.0" y1="302.0" x2="439.0" y2="329.0" stroke="#92D050" stroke-width="6" stroke-linecap="round"/><line x1="452.0" y1="300.0" x2="452.0" y2="329.0" stroke="#92D050" stroke-width="6" stroke-linecap="round"/><line x1="465.0" y1="296.0" x2="465.0" y2="329.0" stroke="#92D050" stroke-width="6" stroke-linecap="round"/><line x1="478.0" y1="286.6" x2="478.0" y2="329.0" stroke="#92D050" stroke-width="6" stroke-linecap="round"/><line x1="491.0" y1="268.0" x2="491.0" y2="329.0" stroke="#92D050" stroke-width="6" stroke-linecap="round"/><line x1="496.0" y1="274.0" x2="496.0" y2="329.0" stroke="#92D050" stroke-width="6" stroke-linecap="round"/><line x1="506.1" y1="237.2" x2="506.1" y2="266.3" stroke="#92D050" stroke-width="6" stroke-linecap="round"/><circle cx="506.1" cy="273.8" r="3" fill="#92D050"/><circle cx="506.1" cy="281.1" r="3" fill="#92D050"/><circle cx="506.1" cy="288.5" r="3" fill="#92D050"/><circle cx="506.1" cy="295.7" r="3" fill="#92D050"/><circle cx="506.1" cy="302.7" r="3" fill="#92D050"/><circle cx="506.1" cy="309.4" r="3" fill="#92D050"/><circle cx="506.1" cy="316.3" r="3" fill="#92D050"/><circle cx="506.1" cy="323.2" r="3" fill="#92D050"/><line x1="520.4" y1="204.0" x2="520.4" y2="264.5" stroke="#92D050" stroke-width="6" stroke-linecap="round"/><circle cx="520.4" cy="272.6" r="3" fill="#92D050"/><circle cx="520.4" cy="279.3" r="3" fill="#92D050"/><circle cx="520.4" cy="286.5" r="3" fill="#92D050"/><circle cx="520.4" cy="293.6" r="3" fill="#92D050"/><circle cx="520.4" cy="300.3" r="3" fill="#92D050"/><circle cx="520.4" cy="307.7" r="3" fill="#92D050"/><circle cx="520.4" cy="314.8" r="3" fill="#92D050"/><circle cx="520.4" cy="321.4" r="3" fill="#92D050"/><line x1="535.0" y1="178.0" x2="535.0" y2="257.0" stroke="#92D050" stroke-width="6" stroke-linecap="round"/><circle cx="535.0" cy="264.6" r="3" fill="#92D050"/><circle cx="535.0" cy="271.9" r="3" fill="#92D050"/><circle cx="535.0" cy="279.0" r="3" fill="#92D050"/><circle cx="535.0" cy="286.0" r="3" fill="#92D050"/><circle cx="535.0" cy="293.2" r="3" fill="#92D050"/><circle cx="535.0" cy="300.1" r="3" fill="#92D050"/><circle cx="535.0" cy="306.9" r="3" fill="#92D050"/><circle cx="535.0" cy="313.6" r="3" fill="#92D050"/><circle cx="535.0" cy="320.2" r="3" fill="#92D050"/><line x1="549.3" y1="165.6" x2="549.3" y2="265.6" stroke="#92D050" stroke-width="6" stroke-linecap="round"/><circle cx="549.3" cy="273.6" r="3" fill="#92D050"/><circle cx="549.3" cy="280.9" r="3" fill="#92D050"/><circle cx="549.3" cy="287.7" r="3" fill="#92D050"/><circle cx="549.3" cy="294.5" r="3" fill="#92D050"/><circle cx="549.3" cy="301.4" r="3" fill="#92D050"/><circle cx="549.3" cy="308.8" r="3" fill="#92D050"/><circle cx="549.3" cy="315.3" r="3" fill="#92D050"/><circle cx="549.3" cy="322.3" r="3" fill="#92D050"/><line x1="559.6" y1="162.5" x2="559.6" y2="265.8" stroke="#92D050" stroke-width="6" stroke-linecap="round"/><circle cx="559.6" cy="273.5" r="3" fill="#92D050"/><circle cx="559.6" cy="280.3" r="3" fill="#92D050"/><circle cx="559.6" cy="287.2" r="3" fill="#92D050"/><circle cx="559.6" cy="294.3" r="3" fill="#92D050"/><circle cx="559.6" cy="301.5" r="3" fill="#92D050"/><circle cx="559.6" cy="308.4" r="3" fill="#92D050"/><circle cx="559.6" cy="315.7" r="3" fill="#92D050"/><circle cx="559.6" cy="322.3" r="3" fill="#92D050"/><line x1="569.2" y1="185.3" x2="569.2" y2="256.4" stroke="#92D050" stroke-width="6" stroke-linecap="round"/><circle cx="569.2" cy="263.6" r="3" fill="#92D050"/><circle cx="569.2" cy="270.9" r="3" fill="#92D050"/><circle cx="569.2" cy="278.1" r="3" fill="#92D050"/><circle cx="569.2" cy="284.8" r="3" fill="#92D050"/><circle cx="569.2" cy="291.5" r="3" fill="#92D050"/><circle cx="569.2" cy="298.4" r="3" fill="#92D050"/><circle cx="569.2" cy="305.7" r="3" fill="#92D050"/><circle cx="569.2" cy="313.0" r="3" fill="#92D050"/><circle cx="569.2" cy="320.2" r="3" fill="#92D050"/><line x1="572.5" y1="220.6" x2="572.5" y2="257.1" stroke="#92D050" stroke-width="6" stroke-linecap="round"/><circle cx="572.5" cy="264.8" r="3" fill="#92D050"/><circle cx="572.5" cy="271.5" r="3" fill="#92D050"/><circle cx="572.5" cy="278.6" r="3" fill="#92D050"/><circle cx="572.5" cy="285.6" r="3" fill="#92D050"/><circle cx="572.5" cy="292.3" r="3" fill="#92D050"/><circle cx="572.5" cy="299.1" r="3" fill="#92D050"/><circle cx="572.5" cy="306.4" r="3" fill="#92D050"/><circle cx="572.5" cy="312.9" r="3" fill="#92D050"/><circle cx="572.5" cy="320.2" r="3" fill="#92D050"/><line x1="616.0" y1="303.6" x2="616.0" y2="329.0" stroke="#92D050" stroke-width="6" stroke-linecap="round"/><line x1="628.0" y1="302.5" x2="628.0" y2="329.0" stroke="#92D050" stroke-width="6" stroke-linecap="round"/><line x1="641.0" y1="300.0" x2="641.0" y2="329.0" stroke="#92D050" stroke-width="6" stroke-linecap="round"/><line x1="654.0" y1="296.0" x2="654.0" y2="329.0" stroke="#92D050" stroke-width="6" stroke-linecap="round"/><line x1="670.0" y1="285.0" x2="670.0" y2="329.0" stroke="#92D050" stroke-width="6" stroke-linecap="round"/><line x1="682.0" y1="264.0" x2="682.0" y2="329.0" stroke="#92D050" stroke-width="6" stroke-linecap="round"/><line x1="686.0" y1="271.7" x2="686.0" y2="329.0" stroke="#92D050" stroke-width="6" stroke-linecap="round"/><line x1="695.8" y1="235.1" x2="695.8" y2="268.3" stroke="#92D050" stroke-width="6" stroke-linecap="round"/><circle cx="695.8" cy="276.1" r="3" fill="#92D050"/><circle cx="695.8" cy="283.1" r="3" fill="#92D050"/><circle cx="695.8" cy="290.2" r="3" fill="#92D050"/><circle cx="695.8" cy="297.3" r="3" fill="#92D050"/><circle cx="695.8" cy="304.8" r="3" fill="#92D050"/><circle cx="695.8" cy="312.0" r="3" fill="#92D050"/><circle cx="695.8" cy="318.8" r="3" fill="#92D050"/><circle cx="695.8" cy="326.1" r="3" fill="#92D050"/><line x1="699.0" y1="274.0" x2="699.0" y2="329.0" stroke="#92D050" stroke-width="6" stroke-linecap="round"/><line x1="709.9" y1="203.4" x2="709.9" y2="263.4" stroke="#92D050" stroke-width="6" stroke-linecap="round"/><circle cx="709.9" cy="271.9" r="3" fill="#92D050"/><circle cx="709.9" cy="278.4" r="3" fill="#92D050"/><circle cx="709.9" cy="285.6" r="3" fill="#92D050"/><circle cx="709.9" cy="292.8" r="3" fill="#92D050"/><circle cx="709.9" cy="299.8" r="3" fill="#92D050"/><circle cx="709.9" cy="306.8" r="3" fill="#92D050"/><circle cx="709.9" cy="313.8" r="3" fill="#92D050"/><circle cx="709.9" cy="320.5" r="3" fill="#92D050"/><line x1="724.0" y1="177.7" x2="724.0" y2="255.5" stroke="#92D050" stroke-width="6" stroke-linecap="round"/><circle cx="724.0" cy="263.5" r="3" fill="#92D050"/><circle cx="724.0" cy="270.7" r="3" fill="#92D050"/><circle cx="724.0" cy="277.6" r="3" fill="#92D050"/><circle cx="724.0" cy="284.7" r="3" fill="#92D050"/><circle cx="724.0" cy="292.1" r="3" fill="#92D050"/><circle cx="724.0" cy="299.5" r="3" fill="#92D050"/><circle cx="724.0" cy="306.2" r="3" fill="#92D050"/><circle cx="724.0" cy="313.5" r="3" fill="#92D050"/><circle cx="724.0" cy="320.6" r="3" fill="#92D050"/><line x1="736.7" y1="162.5" x2="736.7" y2="260.0" stroke="#92D050" stroke-width="6" stroke-linecap="round"/><circle cx="736.7" cy="267.5" r="3" fill="#92D050"/><circle cx="736.7" cy="274.1" r="3" fill="#92D050"/><circle cx="736.7" cy="281.1" r="3" fill="#92D050"/><circle cx="736.7" cy="288.6" r="3" fill="#92D050"/><circle cx="736.7" cy="295.4" r="3" fill="#92D050"/><circle cx="736.7" cy="302.7" r="3" fill="#92D050"/><circle cx="736.7" cy="309.9" r="3" fill="#92D050"/><circle cx="736.7" cy="316.6" r="3" fill="#92D050"/><circle cx="736.7" cy="323.9" r="3" fill="#92D050"/><line x1="747.9" y1="163.6" x2="747.9" y2="268.0" stroke="#92D050" stroke-width="6" stroke-linecap="round"/><circle cx="747.9" cy="276.4" r="3" fill="#92D050"/><circle cx="747.9" cy="283.6" r="3" fill="#92D050"/><circle cx="747.9" cy="290.5" r="3" fill="#92D050"/><circle cx="747.9" cy="297.8" r="3" fill="#92D050"/><circle cx="747.9" cy="305.2" r="3" fill="#92D050"/><circle cx="747.9" cy="312.6" r="3" fill="#92D050"/><circle cx="747.9" cy="319.5" r="3" fill="#92D050"/><circle cx="747.9" cy="326.8" r="3" fill="#92D050"/><line x1="753.5" y1="244.5" x2="753.5" y2="256.5" stroke="#92D050" stroke-width="6" stroke-linecap="round"/><circle cx="753.5" cy="263.6" r="3" fill="#92D050"/><circle cx="753.5" cy="270.2" r="3" fill="#92D050"/><circle cx="753.5" cy="276.9" r="3" fill="#92D050"/><circle cx="753.5" cy="283.6" r="3" fill="#92D050"/><circle cx="753.5" cy="290.5" r="3" fill="#92D050"/><circle cx="753.5" cy="297.7" r="3" fill="#92D050"/><circle cx="753.5" cy="304.8" r="3" fill="#92D050"/><circle cx="753.5" cy="311.7" r="3" fill="#92D050"/><circle cx="753.5" cy="318.9" r="3" fill="#92D050"/><circle cx="753.5" cy="325.7" r="3" fill="#92D050"/><polygon points="200.0,226.0 208.0,250.0 214.0,256.0 228.0,292.0 230.0,322.0 200.0,322.0" fill="#92D050" stroke="#92D050" stroke-width="2" stroke-linejoin="round"/><polygon points="385.5,226.0 393.5,250.0 399.5,256.0 413.5,292.0 415.5,322.0 385.5,322.0" fill="#92D050" stroke="#92D050" stroke-width="2" stroke-linejoin="round"/><polygon points="570.8,226.0 578.8,250.0 584.8,256.0 598.8,292.0 600.8,322.0 570.8,322.0" fill="#92D050" stroke="#92D050" stroke-width="2" stroke-linejoin="round"/><circle cx="347.1" cy="348.4" r="3" fill="#92D050"/><circle cx="158.5" cy="321.5" r="3" fill="#92D050"/><circle cx="556.1" cy="334.6" r="3" fill="#92D050"/><circle cx="685.3" cy="340.1" r="3" fill="#92D050"/><circle cx="358.9" cy="337.8" r="3" fill="#92D050"/><circle cx="471.6" cy="316.9" r="3" fill="#92D050"/><circle cx="597.9" cy="336.6" r="3" fill="#92D050"/><circle cx="688.1" cy="332.3" r="3" fill="#92D050"/><circle cx="267.4" cy="344.3" r="3" fill="#92D050"/><circle cx="217.4" cy="333.3" r="3" fill="#92D050"/><circle cx="733.5" cy="341.1" r="3" fill="#92D050"/><circle cx="225.0" cy="340.5" r="3" fill="#92D050"/><circle cx="404.7" cy="309.2" r="3" fill="#92D050"/><circle cx="179.4" cy="317.9" r="3" fill="#92D050"/><circle cx="253.6" cy="347.4" r="3" fill="#92D050"/><circle cx="290.4" cy="338.7" r="3" fill="#92D050"/><circle cx="725.3" cy="322.3" r="3" fill="#92D050"/><circle cx="357.2" cy="317.0" r="3" fill="#92D050"/><circle cx="499.5" cy="333.5" r="3" fill="#92D050"/><circle cx="441.6" cy="307.4" r="3" fill="#92D050"/><circle cx="453.5" cy="303.7" r="3" fill="#92D050"/><circle cx="638.5" cy="330.2" r="3" fill="#92D050"/><circle cx="447.8" cy="323.3" r="3" fill="#92D050"/><circle cx="644.9" cy="326.4" r="3" fill="#92D050"/><circle cx="569.7" cy="319.3" r="3" fill="#92D050"/><circle cx="731.7" cy="337.7" r="3" fill="#92D050"/><circle cx="262.3" cy="318.8" r="3" fill="#92D050"/><circle cx="456.8" cy="323.9" r="3" fill="#92D050"/><circle cx="326.6" cy="317.3" r="3" fill="#92D050"/><circle cx="565.3" cy="333.8" r="3" fill="#92D050"/><circle cx="368.4" cy="337.7" r="3" fill="#92D050"/><circle cx="255.3" cy="317.4" r="3" fill="#92D050"/><circle cx="528.2" cy="331.1" r="3" fill="#92D050"/><circle cx="503.0" cy="328.9" r="3" fill="#92D050"/><circle cx="431.5" cy="322.1" r="3" fill="#92D050"/><circle cx="647.2" cy="328.9" r="3" fill="#92D050"/><circle cx="717.5" cy="324.9" r="3" fill="#92D050"/><circle cx="407.5" cy="352.2" r="3" fill="#92D050"/><circle cx="644.1" cy="335.5" r="3" fill="#92D050"/><circle cx="130.1" cy="342.7" r="3" fill="#92D050"/><circle cx="744.6" cy="345.0" r="3" fill="#92D050"/><circle cx="355.1" cy="313.4" r="3" fill="#92D050"/><circle cx="201.5" cy="319.2" r="3" fill="#92D050"/><circle cx="444.0" cy="339.4" r="3" fill="#92D050"/><circle cx="475.0" cy="322.2" r="3" fill="#92D050"/><circle cx="541.3" cy="343.7" r="3" fill="#92D050"/><circle cx="387.6" cy="338.0" r="3" fill="#92D050"/><circle cx="580.5" cy="315.0" r="3" fill="#92D050"/><circle cx="491.4" cy="319.4" r="3" fill="#92D050"/><circle cx="261.3" cy="339.4" r="3" fill="#92D050"/><circle cx="189.2" cy="303.7" r="3" fill="#92D050"/><circle cx="266.5" cy="323.7" r="3" fill="#92D050"/><circle cx="710.5" cy="342.3" r="3" fill="#92D050"/><circle cx="413.5" cy="349.8" r="3" fill="#92D050"/><circle cx="141.7" cy="343.9" r="3" fill="#92D050"/><circle cx="396.0" cy="342.7" r="3" fill="#92D050"/><circle cx="253.2" cy="323.9" r="3" fill="#92D050"/><circle cx="226.0" cy="346.2" r="3" fill="#92D050"/><circle cx="451.1" cy="328.7" r="3" fill="#92D050"/><circle cx="165.6" cy="338.2" r="3" fill="#92D050"/><circle cx="721.8" cy="338.8" r="3" fill="#92D050"/><circle cx="500.8" cy="347.0" r="3" fill="#92D050"/><circle cx="251.9" cy="318.7" r="3" fill="#92D050"/><circle cx="478.0" cy="334.8" r="3" fill="#92D050"/><circle cx="475.6" cy="311.2" r="3" fill="#92D050"/><circle cx="203.6" cy="324.8" r="3" fill="#92D050"/><circle cx="166.4" cy="332.9" r="3" fill="#92D050"/><circle cx="344.0" cy="326.2" r="3" fill="#92D050"/><circle cx="744.1" cy="333.3" r="3" fill="#92D050"/><circle cx="402.5" cy="329.9" r="3" fill="#92D050"/><circle cx="682.3" cy="326.9" r="3" fill="#92D050"/><circle cx="362.3" cy="326.6" r="3" fill="#92D050"/><circle cx="600.7" cy="329.2" r="3" fill="#92D050"/><circle cx="464.6" cy="322.1" r="3" fill="#92D050"/><circle cx="406.5" cy="339.5" r="3" fill="#92D050"/><circle cx="135.0" cy="316.9" r="3" fill="#92D050"/><circle cx="748.7" cy="320.6" r="3" fill="#92D050"/><circle cx="355.9" cy="310.2" r="3" fill="#92D050"/><circle cx="554.4" cy="324.3" r="3" fill="#92D050"/><circle cx="226.6" cy="336.7" r="3" fill="#92D050"/><circle cx="362.4" cy="345.5" r="3" fill="#92D050"/><circle cx="341.9" cy="321.9" r="3" fill="#92D050"/><circle cx="693.2" cy="344.5" r="3" fill="#92D050"/><circle cx="443.7" cy="340.4" r="3" fill="#92D050"/><circle cx="135.8" cy="333.7" r="3" fill="#92D050"/><circle cx="459.6" cy="331.9" r="3" fill="#92D050"/><circle cx="204.2" cy="347.6" r="3" fill="#92D050"/><circle cx="666.8" cy="319.1" r="3" fill="#92D050"/><circle cx="297.4" cy="325.7" r="3" fill="#92D050"/><circle cx="473.7" cy="340.8" r="3" fill="#92D050"/><circle cx="668.3" cy="314.9" r="3" fill="#92D050"/><circle cx="320.7" cy="321.1" r="3" fill="#92D050"/><circle cx="216.8" cy="325.9" r="3" fill="#92D050"/><circle cx="560.1" cy="321.5" r="3" fill="#92D050"/><circle cx="486.5" cy="320.4" r="3" fill="#92D050"/><circle cx="675.6" cy="312.2" r="3" fill="#92D050"/><circle cx="308.1" cy="310.7" r="3" fill="#92D050"/><circle cx="233.3" cy="353.2" r="3" fill="#92D050"/><circle cx="363.0" cy="330.5" r="3" fill="#92D050"/><circle cx="425.2" cy="320.3" r="3" fill="#92D050"/><circle cx="262.0" cy="330.0" r="3" fill="#92D050"/><circle cx="440.1" cy="339.8" r="3" fill="#92D050"/><circle cx="669.2" cy="330.8" r="3" fill="#92D050"/><circle cx="570.2" cy="329.1" r="3" fill="#92D050"/><circle cx="190.1" cy="318.3" r="3" fill="#92D050"/><circle cx="228.3" cy="341.4" r="3" fill="#92D050"/><circle cx="745.8" cy="321.9" r="3" fill="#92D050"/><circle cx="568.5" cy="332.4" r="3" fill="#92D050"/><circle cx="308.5" cy="336.6" r="3" fill="#92D050"/><circle cx="276.5" cy="342.5" r="3" fill="#92D050"/><circle cx="150.9" cy="337.4" r="3" fill="#92D050"/><circle cx="510.4" cy="334.9" r="3" fill="#92D050"/><circle cx="222.7" cy="336.6" r="3" fill="#92D050"/><circle cx="594.4" cy="325.1" r="3" fill="#92D050"/><circle cx="316.5" cy="337.1" r="3" fill="#92D050"/><circle cx="386.7" cy="333.8" r="3" fill="#92D050"/><circle cx="722.3" cy="335.5" r="3" fill="#92D050"/><circle cx="676.1" cy="322.1" r="3" fill="#92D050"/><circle cx="223.9" cy="341.1" r="3" fill="#92D050"/><circle cx="545.3" cy="339.2" r="3" fill="#92D050"/><circle cx="474.8" cy="317.8" r="3" fill="#92D050"/><circle cx="151.2" cy="341.9" r="3" fill="#92D050"/><circle cx="454.6" cy="334.8" r="3" fill="#92D050"/><circle cx="523.7" cy="324.6" r="3" fill="#92D050"/><circle cx="466.6" cy="333.0" r="3" fill="#92D050"/><circle cx="646.1" cy="332.3" r="3" fill="#92D050"/><circle cx="689.8" cy="343.8" r="3" fill="#92D050"/><circle cx="577.7" cy="344.9" r="3" fill="#92D050"/><circle cx="539.6" cy="328.2" r="3" fill="#92D050"/><circle cx="288.7" cy="316.5" r="3" fill="#92D050"/><circle cx="341.4" cy="329.5" r="3" fill="#92D050"/><circle cx="562.3" cy="328.9" r="3" fill="#92D050"/><circle cx="482.3" cy="325.1" r="3" fill="#92D050"/><circle cx="723.7" cy="334.4" r="3" fill="#92D050"/><circle cx="460.8" cy="349.0" r="3" fill="#92D050"/><circle cx="720.6" cy="321.2" r="3" fill="#92D050"/><circle cx="201.5" cy="315.7" r="3" fill="#92D050"/><circle cx="193.0" cy="329.7" r="3" fill="#92D050"/><circle cx="439.1" cy="324.8" r="3" fill="#92D050"/><circle cx="375.9" cy="348.3" r="3" fill="#92D050"/><circle cx="657.0" cy="334.2" r="3" fill="#92D050"/><circle cx="665.4" cy="341.1" r="3" fill="#92D050"/><circle cx="127.9" cy="323.8" r="3" fill="#92D050"/><circle cx="363.3" cy="324.5" r="3" fill="#92D050"/><line x1="110.0" y1="298.1" x2="110.0" y2="307.5" stroke="#92D050" stroke-width="7" stroke-linecap="round"/><line x1="117.1" y1="304.5" x2="117.1" y2="304.5" stroke="#92D050" stroke-width="7" stroke-linecap="round"/><line x1="125.3" y1="293.5" x2="125.3" y2="303.9" stroke="#92D050" stroke-width="7" stroke-linecap="round"/><line x1="133.8" y1="293.6" x2="133.8" y2="313.0" stroke="#92D050" stroke-width="7" stroke-linecap="round"/><line x1="142.0" y1="306.9" x2="142.0" y2="306.9" stroke="#92D050" stroke-width="7" stroke-linecap="round"/><line x1="150.1" y1="300.3" x2="150.1" y2="307.7" stroke="#92D050" stroke-width="7" stroke-linecap="round"/><line x1="158.9" y1="295.2" x2="158.9" y2="309.5" stroke="#92D050" stroke-width="7" stroke-linecap="round"/><line x1="166.0" y1="291.2" x2="166.0" y2="306.0" stroke="#92D050" stroke-width="7" stroke-linecap="round"/><line x1="174.3" y1="305.0" x2="174.3" y2="308.1" stroke="#92D050" stroke-width="7" stroke-linecap="round"/><line x1="181.6" y1="307.2" x2="181.6" y2="314.1" stroke="#92D050" stroke-width="7" stroke-linecap="round"/><line x1="191.0" y1="303.7" x2="191.0" y2="311.5" stroke="#92D050" stroke-width="7" stroke-linecap="round"/><line x1="198.2" y1="300.7" x2="198.2" y2="310.2" stroke="#92D050" stroke-width="7" stroke-linecap="round"/><line x1="205.2" y1="306.3" x2="205.2" y2="313.0" stroke="#92D050" stroke-width="7" stroke-linecap="round"/><line x1="298.0" y1="297.0" x2="298.0" y2="324.7" stroke="#92D050" stroke-width="7" stroke-linecap="round"/><line x1="306.2" y1="303.6" x2="306.2" y2="320.4" stroke="#92D050" stroke-width="7" stroke-linecap="round"/><line x1="315.6" y1="297.4" x2="315.6" y2="314.6" stroke="#92D050" stroke-width="7" stroke-linecap="round"/><line x1="323.8" y1="291.6" x2="323.8" y2="327.5" stroke="#92D050" stroke-width="7" stroke-linecap="round"/><line x1="332.1" y1="291.6" x2="332.1" y2="318.1" stroke="#92D050" stroke-width="7" stroke-linecap="round"/><line x1="342.9" y1="293.3" x2="342.9" y2="320.0" stroke="#92D050" stroke-width="7" stroke-linecap="round"/><line x1="351.3" y1="305.2" x2="351.3" y2="321.0" stroke="#92D050" stroke-width="7" stroke-linecap="round"/><line x1="360.4" y1="301.6" x2="360.4" y2="329.2" stroke="#92D050" stroke-width="7" stroke-linecap="round"/><line x1="369.6" y1="303.5" x2="369.6" y2="314.4" stroke="#92D050" stroke-width="7" stroke-linecap="round"/><line x1="379.3" y1="293.1" x2="379.3" y2="318.7" stroke="#92D050" stroke-width="7" stroke-linecap="round"/><line x1="389.1" y1="298.9" x2="389.1" y2="319.5" stroke="#92D050" stroke-width="7" stroke-linecap="round"/><line x1="486.0" y1="300.0" x2="486.0" y2="323.1" stroke="#92D050" stroke-width="7" stroke-linecap="round"/><line x1="496.1" y1="293.7" x2="496.1" y2="319.2" stroke="#92D050" stroke-width="7" stroke-linecap="round"/><line x1="504.9" y1="290.7" x2="504.9" y2="329.3" stroke="#92D050" stroke-width="7" stroke-linecap="round"/><line x1="514.2" y1="300.6" x2="514.2" y2="324.6" stroke="#92D050" stroke-width="7" stroke-linecap="round"/><line x1="523.5" y1="298.3" x2="523.5" y2="318.7" stroke="#92D050" stroke-width="7" stroke-linecap="round"/><line x1="532.4" y1="304.8" x2="532.4" y2="315.1" stroke="#92D050" stroke-width="7" stroke-linecap="round"/><line x1="542.1" y1="295.5" x2="542.1" y2="317.2" stroke="#92D050" stroke-width="7" stroke-linecap="round"/><line x1="552.5" y1="291.3" x2="552.5" y2="328.6" stroke="#92D050" stroke-width="7" stroke-linecap="round"/><line x1="562.1" y1="300.5" x2="562.1" y2="316.7" stroke="#92D050" stroke-width="7" stroke-linecap="round"/><line x1="572.8" y1="306.1" x2="572.8" y2="326.9" stroke="#92D050" stroke-width="7" stroke-linecap="round"/><line x1="583.0" y1="294.7" x2="583.0" y2="329.9" stroke="#92D050" stroke-width="7" stroke-linecap="round"/><line x1="672.0" y1="289.9" x2="672.0" y2="324.2" stroke="#92D050" stroke-width="7" stroke-linecap="round"/><line x1="680.8" y1="291.9" x2="680.8" y2="323.2" stroke="#92D050" stroke-width="7" stroke-linecap="round"/><line x1="689.6" y1="298.7" x2="689.6" y2="330.2" stroke="#92D050" stroke-width="7" stroke-linecap="round"/><line x1="700.2" y1="300.5" x2="700.2" y2="324.3" stroke="#92D050" stroke-width="7" stroke-linecap="round"/><line x1="710.1" y1="306.0" x2="710.1" y2="328.5" stroke="#92D050" stroke-width="7" stroke-linecap="round"/><line x1="720.9" y1="296.0" x2="720.9" y2="328.7" stroke="#92D050" stroke-width="7" stroke-linecap="round"/><line x1="730.1" y1="302.6" x2="730.1" y2="331.5" stroke="#92D050" stroke-width="7" stroke-linecap="round"/><line x1="739.1" y1="293.7" x2="739.1" y2="331.6" stroke="#92D050" stroke-width="7" stroke-linecap="round"/><line x1="749.1" y1="290.8" x2="749.1" y2="330.7" stroke="#92D050" stroke-width="7" stroke-linecap="round"/><line x1="115.5" y1="275.8" x2="115.5" y2="331.1" stroke="#92D050" stroke-width="9.5" stroke-linecap="round"/><line x1="128.5" y1="250.8" x2="128.5" y2="324.3" stroke="#92D050" stroke-width="9.5" stroke-linecap="round"/><line x1="238.0" y1="292.8" x2="238.0" y2="332.0" stroke="#92D050" stroke-width="9.5" stroke-linecap="round"/><line x1="250.0" y1="301.4" x2="250.0" y2="325.9" stroke="#92D050" stroke-width="9.5" stroke-linecap="round"/><line x1="262.7" y1="300.4" x2="262.7" y2="331.9" stroke="#92D050" stroke-width="9.5" stroke-linecap="round"/><line x1="276.3" y1="296.1" x2="276.3" y2="325.9" stroke="#92D050" stroke-width="9.5" stroke-linecap="round"/><line x1="289.0" y1="289.4" x2="289.0" y2="325.5" stroke="#92D050" stroke-width="9.5" stroke-linecap="round"/><line x1="301.8" y1="273.8" x2="301.8" y2="331.0" stroke="#92D050" stroke-width="9.5" stroke-linecap="round"/><line x1="411.0" y1="276.8" x2="411.0" y2="331.1" stroke="#92D050" stroke-width="9.5" stroke-linecap="round"/><line x1="427.2" y1="303.1" x2="427.2" y2="332.1" stroke="#92D050" stroke-width="9.5" stroke-linecap="round"/><line x1="439.5" y1="303.1" x2="439.5" y2="333.8" stroke="#92D050" stroke-width="9.5" stroke-linecap="round"/><line x1="452.1" y1="301.1" x2="452.1" y2="333.1" stroke="#92D050" stroke-width="9.5" stroke-linecap="round"/><line x1="465.1" y1="296.6" x2="465.1" y2="330.5" stroke="#92D050" stroke-width="9.5" stroke-linecap="round"/><line x1="479.1" y1="288.1" x2="479.1" y2="326.0" stroke="#92D050" stroke-width="9.5" stroke-linecap="round"/><line x1="493.4" y1="269.4" x2="493.4" y2="330.5" stroke="#92D050" stroke-width="9.5" stroke-linecap="round"/><line x1="600.0" y1="287.8" x2="600.0" y2="325.1" stroke="#92D050" stroke-width="9.5" stroke-linecap="round"/><line x1="616.2" y1="305.1" x2="616.2" y2="332.5" stroke="#92D050" stroke-width="9.5" stroke-linecap="round"/><line x1="629.0" y1="304.4" x2="629.0" y2="330.8" stroke="#92D050" stroke-width="9.5" stroke-linecap="round"/><line x1="641.9" y1="301.8" x2="641.9" y2="332.2" stroke="#92D050" stroke-width="9.5" stroke-linecap="round"/><line x1="655.2" y1="296.6" x2="655.2" y2="329.2" stroke="#92D050" stroke-width="9.5" stroke-linecap="round"/><line x1="668.2" y1="286.2" x2="668.2" y2="334.3" stroke="#92D050" stroke-width="9.5" stroke-linecap="round"/><line x1="682.8" y1="264.8" x2="682.8" y2="329.4" stroke="#92D050" stroke-width="9.5" stroke-linecap="round"/><circle cx="114.6" cy="347.1" r="3" fill="#92D050"/><circle cx="121.7" cy="344.8" r="3" fill="#92D050"/><circle cx="148.2" cy="354.3" r="3" fill="#92D050"/><circle cx="146.8" cy="357.1" r="3" fill="#92D050"/><circle cx="164.5" cy="367.1" r="3" fill="#92D050"/><circle cx="169.3" cy="375.6" r="3" fill="#92D050"/><circle cx="188.7" cy="360.8" r="3" fill="#92D050"/><circle cx="223.5" cy="367.7" r="3" fill="#92D050"/><circle cx="177.9" cy="342.0" r="3" fill="#92D050"/><circle cx="277.2" cy="344.8" r="3" fill="#92D050"/><circle cx="277.8" cy="352.8" r="3" fill="#92D050"/><circle cx="307.1" cy="371.4" r="3" fill="#92D050"/><circle cx="260.0" cy="347.1" r="3" fill="#92D050"/><circle cx="354.5" cy="368.5" r="3" fill="#92D050"/><circle cx="377.4" cy="364.2" r="3" fill="#92D050"/><circle cx="408.7" cy="367.7" r="3" fill="#92D050"/><circle cx="343.1" cy="351.4" r="3" fill="#92D050"/><circle cx="368.8" cy="339.0" r="3" fill="#92D050"/><circle cx="377.4" cy="344.3" r="3" fill="#92D050"/><circle cx="401.6" cy="351.4" r="3" fill="#92D050"/><circle cx="465.8" cy="372.8" r="3" fill="#92D050"/><circle cx="468.7" cy="357.1" r="3" fill="#92D050"/><circle cx="482.9" cy="375.0" r="3" fill="#92D050"/><circle cx="531.4" cy="358.5" r="3" fill="#92D050"/><circle cx="565.1" cy="340.9" r="3" fill="#92D050"/><circle cx="555.5" cy="338.2" r="3" fill="#92D050"/><circle cx="631.8" cy="378.5" r="3" fill="#92D050"/><circle cx="676.8" cy="390.5" r="3" fill="#92D050"/><circle cx="644.1" cy="368.1" r="3" fill="#92D050"/><circle cx="720.3" cy="343.6" r="3" fill="#92D050"/><circle cx="743.5" cy="345.0" r="3" fill="#92D050"/><circle cx="619.5" cy="372.2" r="3" fill="#92D050"/><circle cx="656.3" cy="351.2" r="3" fill="#92D050"/><circle cx="664.5" cy="338.7" r="3" fill="#92D050"/></g>
<g><circle cx="219.7" cy="677.6" r="3" fill="#ED7D31"/><circle cx="119.2" cy="659.2" r="3" fill="#ED7D31"/><circle cx="210.6" cy="630.5" r="3" fill="#ED7D31"/><circle cx="217.0" cy="650.8" r="3" fill="#ED7D31"/><circle cx="211.7" cy="674.1" r="3" fill="#ED7D31"/><circle cx="134.3" cy="684.1" r="3" fill="#ED7D31"/><circle cx="161.7" cy="649.4" r="3" fill="#ED7D31"/><circle cx="145.4" cy="638.4" r="3" fill="#ED7D31"/><circle cx="118.8" cy="676.4" r="3" fill="#ED7D31"/><circle cx="182.0" cy="660.8" r="3" fill="#ED7D31"/><circle cx="121.9" cy="638.1" r="3" fill="#ED7D31"/><circle cx="142.5" cy="621.5" r="3" fill="#ED7D31"/><circle cx="187.0" cy="615.2" r="3" fill="#ED7D31"/><circle cx="184.8" cy="622.9" r="3" fill="#ED7D31"/><circle cx="388.8" cy="671.9" r="3" fill="#ED7D31"/><circle cx="404.3" cy="682.6" r="3" fill="#ED7D31"/><circle cx="396.2" cy="644.0" r="3" fill="#ED7D31"/><circle cx="391.9" cy="671.2" r="3" fill="#ED7D31"/><circle cx="379.0" cy="689.9" r="3" fill="#ED7D31"/><circle cx="358.6" cy="692.5" r="3" fill="#ED7D31"/><circle cx="317.0" cy="642.6" r="3" fill="#ED7D31"/><circle cx="398.0" cy="653.4" r="3" fill="#ED7D31"/><circle cx="385.4" cy="656.3" r="3" fill="#ED7D31"/><circle cx="313.7" cy="683.5" r="3" fill="#ED7D31"/><circle cx="326.3" cy="662.7" r="3" fill="#ED7D31"/><circle cx="356.9" cy="667.0" r="3" fill="#ED7D31"/><circle cx="354.3" cy="671.9" r="3" fill="#ED7D31"/><circle cx="400.1" cy="628.7" r="3" fill="#ED7D31"/><circle cx="340.4" cy="608.3" r="3" fill="#ED7D31"/><circle cx="361.7" cy="614.1" r="3" fill="#ED7D31"/><circle cx="544.6" cy="690.5" r="3" fill="#ED7D31"/><circle cx="522.3" cy="664.9" r="3" fill="#ED7D31"/><circle cx="564.8" cy="634.9" r="3" fill="#ED7D31"/><circle cx="498.9" cy="687.3" r="3" fill="#ED7D31"/><circle cx="497.6" cy="664.8" r="3" fill="#ED7D31"/><circle cx="574.6" cy="649.9" r="3" fill="#ED7D31"/><circle cx="531.5" cy="624.4" r="3" fill="#ED7D31"/><circle cx="513.1" cy="614.7" r="3" fill="#ED7D31"/><circle cx="551.0" cy="617.1" r="3" fill="#ED7D31"/><circle cx="553.9" cy="608.2" r="3" fill="#ED7D31"/><circle cx="589.6" cy="623.2" r="3" fill="#ED7D31"/><circle cx="727.7" cy="674.8" r="3" fill="#ED7D31"/><circle cx="714.3" cy="689.2" r="3" fill="#ED7D31"/><circle cx="745.4" cy="675.9" r="3" fill="#ED7D31"/><circle cx="723.9" cy="631.3" r="3" fill="#ED7D31"/><circle cx="746.0" cy="649.3" r="3" fill="#ED7D31"/><circle cx="684.2" cy="645.4" r="3" fill="#ED7D31"/><circle cx="716.2" cy="648.8" r="3" fill="#ED7D31"/><circle cx="687.3" cy="687.6" r="3" fill="#ED7D31"/><circle cx="753.6" cy="649.6" r="3" fill="#ED7D31"/><circle cx="703.0" cy="614.7" r="3" fill="#ED7D31"/><circle cx="726.4" cy="623.5" r="3" fill="#ED7D31"/><circle cx="692.0" cy="605.0" r="3" fill="#ED7D31"/><circle cx="696.1" cy="627.0" r="3" fill="#ED7D31"/><circle cx="717.9" cy="606.6" r="3" fill="#ED7D31"/><circle cx="119.0" cy="588.0" r="3" fill="#ED7D31"/><circle cx="123.0" cy="592.0" r="3" fill="#ED7D31"/><circle cx="127.0" cy="595.0" r="3" fill="#ED7D31"/><circle cx="131.0" cy="597.0" r="3" fill="#ED7D31"/><circle cx="134.0" cy="600.0" r="3" fill="#ED7D31"/><circle cx="121.0" cy="604.0" r="3" fill="#ED7D31"/><circle cx="126.0" cy="608.0" r="3" fill="#ED7D31"/><circle cx="130.0" cy="612.0" r="3" fill="#ED7D31"/><circle cx="134.0" cy="616.0" r="3" fill="#ED7D31"/><circle cx="125.0" cy="620.0" r="3" fill="#ED7D31"/><circle cx="129.0" cy="624.0" r="3" fill="#ED7D31"/><circle cx="122.0" cy="628.0" r="3" fill="#ED7D31"/><circle cx="132.0" cy="622.0" r="3" fill="#ED7D31"/><circle cx="128.0" cy="585.0" r="3" fill="#ED7D31"/><circle cx="116.0" cy="528.5" r="3" fill="#ED7D31"/><circle cx="116.0" cy="582.7" r="3" fill="#ED7D31"/><circle cx="118.0" cy="560.5" r="3" fill="#ED7D31"/><circle cx="116.5" cy="593.0" r="3" fill="#ED7D31"/><circle cx="116.5" cy="598.0" r="3" fill="#ED7D31"/><circle cx="116.5" cy="653.0" r="3" fill="#ED7D31"/><circle cx="116.5" cy="658.0" r="3" fill="#ED7D31"/><polygon points="225.9,750.0 225.9,728.0 232.4,690.0 243.4,665.0 250.4,665.0 248.7,677.6 227.4,749.0" fill="#ED7D31" stroke="#ED7D31" stroke-width="2" stroke-linejoin="round"/><polygon points="243.4,667.0 250.4,667.0 265.4,620.0 252.4,620.0" fill="#ED7D31" stroke="#ED7D31" stroke-width="2" stroke-linejoin="round"/><polyline points="259.4,626.0 260.4,610.0 258.4,612.0 256.4,604.0" fill="none" stroke="#ED7D31" stroke-width="8" stroke-linecap="round" stroke-linejoin="round"/><circle cx="258.0" cy="609.1" r="3" fill="#ED7D31"/><circle cx="254.3" cy="616.9" r="3" fill="#ED7D31"/><circle cx="263.2" cy="624.1" r="3" fill="#ED7D31"/><circle cx="260.2" cy="600.5" r="3" fill="#ED7D31"/><circle cx="259.0" cy="615.9" r="3" fill="#ED7D31"/><circle cx="266.3" cy="612.2" r="3" fill="#ED7D31"/><circle cx="260.8" cy="606.2" r="3" fill="#ED7D31"/><circle cx="263.3" cy="600.9" r="3" fill="#ED7D31"/><circle cx="265.4" cy="618.9" r="3" fill="#ED7D31"/><circle cx="257.3" cy="603.3" r="3" fill="#ED7D31"/><polyline points="265.0,614.0 274.0,613.5 290.0,611.0 305.0,607.0 313.0,603.0 317.6,598.0 318.6,592.8" fill="none" stroke="#ED7D31" stroke-width="6.5" stroke-linecap="round" stroke-linejoin="round"/><circle cx="319.6" cy="585.6" r="3" fill="#ED7D31"/><polygon points="409.0,750.0 409.0,728.0 415.5,690.0 426.5,665.0 433.5,665.0 431.8,677.6 410.5,749.0" fill="#ED7D31" stroke="#ED7D31" stroke-width="2" stroke-linejoin="round"/><polygon points="426.5,667.0 433.5,667.0 448.5,620.0 435.5,620.0" fill="#ED7D31" stroke="#ED7D31" stroke-width="2" stroke-linejoin="round"/><polyline points="442.5,626.0 443.5,610.0 441.5,602.0 439.5,594.0" fill="none" stroke="#ED7D31" stroke-width="8" stroke-linecap="round" stroke-linejoin="round"/><circle cx="442.4" cy="606.3" r="3" fill="#ED7D31"/><circle cx="445.7" cy="615.8" r="3" fill="#ED7D31"/><circle cx="447.7" cy="598.1" r="3" fill="#ED7D31"/><circle cx="448.1" cy="591.8" r="3" fill="#ED7D31"/><circle cx="438.6" cy="607.1" r="3" fill="#ED7D31"/><circle cx="439.5" cy="618.5" r="3" fill="#ED7D31"/><circle cx="440.5" cy="593.1" r="3" fill="#ED7D31"/><circle cx="448.0" cy="601.3" r="3" fill="#ED7D31"/><circle cx="442.4" cy="603.7" r="3" fill="#ED7D31"/><circle cx="447.4" cy="608.4" r="3" fill="#ED7D31"/><polyline points="452.0,617.0 459.0,615.7 478.0,611.0 496.3,605.3 501.0,599.0 503.5,590.8" fill="none" stroke="#ED7D31" stroke-width="6.5" stroke-linecap="round" stroke-linejoin="round"/><circle cx="503.5" cy="580.4" r="3" fill="#ED7D31"/><polygon points="592.2,750.0 592.2,728.0 598.7,690.0 609.7,665.0 616.7,665.0 615.0,677.6 593.7,749.0" fill="#ED7D31" stroke="#ED7D31" stroke-width="2" stroke-linejoin="round"/><polygon points="609.7,667.0 616.7,667.0 631.7,620.0 618.7,620.0" fill="#ED7D31" stroke="#ED7D31" stroke-width="2" stroke-linejoin="round"/><polyline points="625.7,626.0 626.7,610.0 624.7,590.0 622.7,582.0" fill="none" stroke="#ED7D31" stroke-width="8" stroke-linecap="round" stroke-linejoin="round"/><circle cx="621.4" cy="599.6" r="3" fill="#ED7D31"/><circle cx="620.1" cy="602.8" r="3" fill="#ED7D31"/><circle cx="627.4" cy="578.7" r="3" fill="#ED7D31"/><circle cx="620.7" cy="588.2" r="3" fill="#ED7D31"/><circle cx="632.6" cy="583.2" r="3" fill="#ED7D31"/><circle cx="621.5" cy="584.1" r="3" fill="#ED7D31"/><circle cx="633.6" cy="590.5" r="3" fill="#ED7D31"/><circle cx="625.4" cy="588.0" r="3" fill="#ED7D31"/><circle cx="621.1" cy="589.3" r="3" fill="#ED7D31"/><circle cx="631.6" cy="596.6" r="3" fill="#ED7D31"/><polyline points="633.0,617.0 636.0,616.0 650.0,612.0 663.3,607.8 675.0,603.0 682.3,599.4 686.0,592.0 686.5,586.8" fill="none" stroke="#ED7D31" stroke-width="6.5" stroke-linecap="round" stroke-linejoin="round"/><circle cx="122.5" cy="591.0" r="3" fill="#ED7D31"/><circle cx="128.0" cy="594.0" r="3" fill="#ED7D31"/><circle cx="133.0" cy="597.0" r="3" fill="#ED7D31"/><circle cx="137.0" cy="598.0" r="3" fill="#ED7D31"/><circle cx="124.0" cy="606.0" r="3" fill="#ED7D31"/><circle cx="128.0" cy="610.0" r="3" fill="#ED7D31"/><circle cx="132.0" cy="614.0" r="3" fill="#ED7D31"/><circle cx="120.0" cy="622.0" r="3" fill="#ED7D31"/><circle cx="136.3" cy="580.7" r="3" fill="#ED7D31"/><circle cx="118.0" cy="560.5" r="3" fill="#ED7D31"/><circle cx="116.0" cy="528.5" r="3" fill="#ED7D31"/><circle cx="261.0" cy="586.2" r="3" fill="#ED7D31"/><circle cx="265.2" cy="592.7" r="3" fill="#ED7D31"/><circle cx="262.0" cy="600.0" r="3" fill="#ED7D31"/><circle cx="266.0" cy="606.0" r="3" fill="#ED7D31"/><circle cx="257.0" cy="590.0" r="3" fill="#ED7D31"/><circle cx="446.2" cy="514.3" r="3" fill="#ED7D31"/><circle cx="426.2" cy="556.5" r="3" fill="#ED7D31"/><circle cx="441.3" cy="563.3" r="3" fill="#ED7D31"/><circle cx="444.2" cy="580.0" r="3" fill="#ED7D31"/><circle cx="435.6" cy="590.0" r="3" fill="#ED7D31"/><circle cx="442.8" cy="591.0" r="3" fill="#ED7D31"/><circle cx="448.5" cy="600.0" r="3" fill="#ED7D31"/><circle cx="436.0" cy="589.7" r="3" fill="#ED7D31"/><circle cx="444.4" cy="579.3" r="3" fill="#ED7D31"/><circle cx="503.3" cy="581.3" r="3" fill="#ED7D31"/><circle cx="502.7" cy="591.3" r="3" fill="#ED7D31"/><circle cx="540.9" cy="617.7" r="3" fill="#ED7D31"/><circle cx="555.4" cy="673.8" r="3" fill="#ED7D31"/><circle cx="552.3" cy="667.5" r="3" fill="#ED7D31"/><circle cx="358.0" cy="607.0" r="3" fill="#ED7D31"/><circle cx="371.5" cy="672.7" r="3" fill="#ED7D31"/><circle cx="175.2" cy="619.8" r="3" fill="#ED7D31"/><circle cx="184.5" cy="665.0" r="3" fill="#ED7D31"/><circle cx="190.0" cy="672.0" r="3" fill="#ED7D31"/><circle cx="687.7" cy="557.3" r="3" fill="#ED7D31"/><circle cx="687.0" cy="586.0" r="3" fill="#ED7D31"/><circle cx="686.0" cy="592.6" r="3" fill="#ED7D31"/><circle cx="619.8" cy="577.0" r="3" fill="#ED7D31"/><circle cx="625.5" cy="577.4" r="3" fill="#ED7D31"/><circle cx="619.2" cy="580.5" r="3" fill="#ED7D31"/><circle cx="629.7" cy="599.0" r="3" fill="#ED7D31"/><circle cx="613.0" cy="596.3" r="3" fill="#ED7D31"/><circle cx="613.0" cy="597.0" r="3" fill="#ED7D31"/><circle cx="737.0" cy="668.8" r="3" fill="#ED7D31"/><circle cx="744.2" cy="680.3" r="3" fill="#ED7D31"/><line x1="223.4" y1="703.1" x2="223.4" y2="850.3" stroke="#ED7D31" stroke-width="6.2" stroke-linecap="round"/><circle cx="290.3" cy="623.3" r="3" fill="#ED7D31"/><circle cx="241.6" cy="622.7" r="3" fill="#ED7D31"/><circle cx="231.5" cy="635.8" r="3" fill="#ED7D31"/><line x1="406.5" y1="703.1" x2="406.5" y2="850.3" stroke="#ED7D31" stroke-width="6.2" stroke-linecap="round"/><circle cx="379.8" cy="606.2" r="3" fill="#ED7D31"/><circle cx="446.4" cy="601.7" r="3" fill="#ED7D31"/><line x1="589.7" y1="703.1" x2="589.7" y2="850.3" stroke="#ED7D31" stroke-width="6.2" stroke-linecap="round"/><circle cx="653.1" cy="601.5" r="3" fill="#ED7D31"/><circle cx="564.6" cy="631.7" r="3" fill="#ED7D31"/><circle cx="668.2" cy="633.7" r="3" fill="#ED7D31"/><circle cx="569.0" cy="626.6" r="3" fill="#ED7D31"/><circle cx="622.0" cy="608.1" r="3" fill="#ED7D31"/><circle cx="634.5" cy="637.5" r="3" fill="#ED7D31"/></g>
<g><circle cx="184.5" cy="677.7" r="3" fill="#A5A5A5"/><circle cx="146.7" cy="689.4" r="3" fill="#A5A5A5"/><circle cx="221.8" cy="664.1" r="3" fill="#A5A5A5"/><circle cx="138.5" cy="691.0" r="3" fill="#A5A5A5"/><circle cx="150.7" cy="660.2" r="3" fill="#A5A5A5"/><circle cx="221.1" cy="641.2" r="3" fill="#A5A5A5"/><circle cx="155.0" cy="663.2" r="3" fill="#A5A5A5"/><circle cx="127.9" cy="678.1" r="3" fill="#A5A5A5"/><circle cx="165.8" cy="695.0" r="3" fill="#A5A5A5"/><circle cx="146.0" cy="680.4" r="3" fill="#A5A5A5"/><circle cx="155.7" cy="680.7" r="3" fill="#A5A5A5"/><circle cx="192.4" cy="672.5" r="3" fill="#A5A5A5"/><circle cx="169.4" cy="679.6" r="3" fill="#A5A5A5"/><circle cx="205.8" cy="671.4" r="3" fill="#A5A5A5"/><circle cx="154.3" cy="671.2" r="3" fill="#A5A5A5"/><circle cx="207.1" cy="651.5" r="3" fill="#A5A5A5"/><circle cx="168.5" cy="674.3" r="3" fill="#A5A5A5"/><circle cx="196.3" cy="639.5" r="3" fill="#A5A5A5"/><circle cx="131.5" cy="670.2" r="3" fill="#A5A5A5"/><circle cx="148.2" cy="680.4" r="3" fill="#A5A5A5"/><circle cx="186.9" cy="668.5" r="3" fill="#A5A5A5"/><circle cx="143.8" cy="658.5" r="3" fill="#A5A5A5"/><circle cx="207.3" cy="632.4" r="3" fill="#A5A5A5"/><circle cx="179.3" cy="677.7" r="3" fill="#A5A5A5"/><circle cx="157.2" cy="631.7" r="3" fill="#A5A5A5"/><circle cx="141.8" cy="652.9" r="3" fill="#A5A5A5"/><circle cx="203.6" cy="630.0" r="3" fill="#A5A5A5"/><circle cx="223.0" cy="672.6" r="3" fill="#A5A5A5"/><circle cx="207.4" cy="671.4" r="3" fill="#A5A5A5"/><circle cx="181.2" cy="666.4" r="3" fill="#A5A5A5"/><circle cx="138.3" cy="630.6" r="3" fill="#A5A5A5"/><circle cx="219.2" cy="674.1" r="3" fill="#A5A5A5"/><circle cx="189.5" cy="647.5" r="3" fill="#A5A5A5"/><circle cx="116.7" cy="605.6" r="3" fill="#A5A5A5"/><circle cx="126.3" cy="605.9" r="3" fill="#A5A5A5"/><circle cx="217.3" cy="619.6" r="3" fill="#A5A5A5"/><circle cx="149.8" cy="615.7" r="3" fill="#A5A5A5"/><circle cx="320.2" cy="679.8" r="3" fill="#A5A5A5"/><circle cx="351.5" cy="649.0" r="3" fill="#A5A5A5"/><circle cx="361.8" cy="639.5" r="3" fill="#A5A5A5"/><circle cx="353.9" cy="690.9" r="3" fill="#A5A5A5"/><circle cx="323.1" cy="649.2" r="3" fill="#A5A5A5"/><circle cx="364.9" cy="651.9" r="3" fill="#A5A5A5"/><circle cx="404.3" cy="684.3" r="3" fill="#A5A5A5"/><circle cx="327.9" cy="634.6" r="3" fill="#A5A5A5"/><circle cx="396.6" cy="641.4" r="3" fill="#A5A5A5"/><circle cx="342.5" cy="673.8" r="3" fill="#A5A5A5"/><circle cx="366.6" cy="678.9" r="3" fill="#A5A5A5"/><circle cx="379.3" cy="632.8" r="3" fill="#A5A5A5"/><circle cx="375.0" cy="692.1" r="3" fill="#A5A5A5"/><circle cx="376.6" cy="684.2" r="3" fill="#A5A5A5"/><circle cx="348.3" cy="635.3" r="3" fill="#A5A5A5"/><circle cx="337.2" cy="669.7" r="3" fill="#A5A5A5"/><circle cx="327.7" cy="670.4" r="3" fill="#A5A5A5"/><circle cx="390.0" cy="686.9" r="3" fill="#A5A5A5"/><circle cx="367.9" cy="671.3" r="3" fill="#A5A5A5"/><circle cx="333.5" cy="674.7" r="3" fill="#A5A5A5"/><circle cx="369.9" cy="635.0" r="3" fill="#A5A5A5"/><circle cx="381.2" cy="682.7" r="3" fill="#A5A5A5"/><circle cx="347.2" cy="658.7" r="3" fill="#A5A5A5"/><circle cx="368.1" cy="653.1" r="3" fill="#A5A5A5"/><circle cx="318.8" cy="678.9" r="3" fill="#A5A5A5"/><circle cx="345.3" cy="677.4" r="3" fill="#A5A5A5"/><circle cx="339.8" cy="650.6" r="3" fill="#A5A5A5"/><circle cx="388.2" cy="628.3" r="3" fill="#A5A5A5"/><circle cx="338.2" cy="692.0" r="3" fill="#A5A5A5"/><circle cx="315.4" cy="629.6" r="3" fill="#A5A5A5"/><circle cx="350.8" cy="686.6" r="3" fill="#A5A5A5"/><circle cx="382.9" cy="653.0" r="3" fill="#A5A5A5"/><circle cx="346.8" cy="663.5" r="3" fill="#A5A5A5"/><circle cx="319.3" cy="615.7" r="3" fill="#A5A5A5"/><circle cx="340.1" cy="618.3" r="3" fill="#A5A5A5"/><circle cx="337.9" cy="624.4" r="3" fill="#A5A5A5"/><circle cx="336.6" cy="625.6" r="3" fill="#A5A5A5"/><circle cx="316.9" cy="623.2" r="3" fill="#A5A5A5"/><circle cx="312.9" cy="605.1" r="3" fill="#A5A5A5"/><circle cx="367.4" cy="607.1" r="3" fill="#A5A5A5"/><circle cx="355.3" cy="620.9" r="3" fill="#A5A5A5"/><circle cx="575.5" cy="636.1" r="3" fill="#A5A5A5"/><circle cx="567.5" cy="662.6" r="3" fill="#A5A5A5"/><circle cx="542.9" cy="663.9" r="3" fill="#A5A5A5"/><circle cx="513.8" cy="691.2" r="3" fill="#A5A5A5"/><circle cx="540.3" cy="634.9" r="3" fill="#A5A5A5"/><circle cx="582.4" cy="649.8" r="3" fill="#A5A5A5"/><circle cx="509.5" cy="641.6" r="3" fill="#A5A5A5"/><circle cx="538.5" cy="669.5" r="3" fill="#A5A5A5"/><circle cx="556.4" cy="660.7" r="3" fill="#A5A5A5"/><circle cx="557.9" cy="678.7" r="3" fill="#A5A5A5"/><circle cx="565.1" cy="661.8" r="3" fill="#A5A5A5"/><circle cx="543.0" cy="628.1" r="3" fill="#A5A5A5"/><circle cx="515.8" cy="693.3" r="3" fill="#A5A5A5"/><circle cx="537.4" cy="648.5" r="3" fill="#A5A5A5"/><circle cx="531.7" cy="668.0" r="3" fill="#A5A5A5"/><circle cx="502.3" cy="629.0" r="3" fill="#A5A5A5"/><circle cx="499.3" cy="681.3" r="3" fill="#A5A5A5"/><circle cx="512.4" cy="691.9" r="3" fill="#A5A5A5"/><circle cx="539.4" cy="679.4" r="3" fill="#A5A5A5"/><circle cx="577.0" cy="673.8" r="3" fill="#A5A5A5"/><circle cx="578.0" cy="689.4" r="3" fill="#A5A5A5"/><circle cx="502.4" cy="668.3" r="3" fill="#A5A5A5"/><circle cx="526.8" cy="685.4" r="3" fill="#A5A5A5"/><circle cx="528.8" cy="642.0" r="3" fill="#A5A5A5"/><circle cx="539.9" cy="634.6" r="3" fill="#A5A5A5"/><circle cx="523.6" cy="645.7" r="3" fill="#A5A5A5"/><circle cx="507.1" cy="678.6" r="3" fill="#A5A5A5"/><circle cx="561.5" cy="662.2" r="3" fill="#A5A5A5"/><circle cx="575.3" cy="620.1" r="3" fill="#A5A5A5"/><circle cx="555.1" cy="606.9" r="3" fill="#A5A5A5"/><circle cx="584.4" cy="614.1" r="3" fill="#A5A5A5"/><circle cx="589.7" cy="607.4" r="3" fill="#A5A5A5"/><circle cx="534.4" cy="610.6" r="3" fill="#A5A5A5"/><circle cx="523.6" cy="604.9" r="3" fill="#A5A5A5"/><circle cx="684.7" cy="648.4" r="3" fill="#A5A5A5"/><circle cx="744.4" cy="676.9" r="3" fill="#A5A5A5"/><circle cx="752.0" cy="660.6" r="3" fill="#A5A5A5"/><circle cx="725.5" cy="646.9" r="3" fill="#A5A5A5"/><circle cx="726.0" cy="675.2" r="3" fill="#A5A5A5"/><circle cx="700.2" cy="646.8" r="3" fill="#A5A5A5"/><circle cx="727.8" cy="669.1" r="3" fill="#A5A5A5"/><circle cx="749.7" cy="675.4" r="3" fill="#A5A5A5"/><circle cx="728.1" cy="632.1" r="3" fill="#A5A5A5"/><circle cx="754.4" cy="649.7" r="3" fill="#A5A5A5"/><circle cx="751.9" cy="633.7" r="3" fill="#A5A5A5"/><circle cx="730.3" cy="664.2" r="3" fill="#A5A5A5"/><circle cx="737.7" cy="650.4" r="3" fill="#A5A5A5"/><circle cx="731.4" cy="666.1" r="3" fill="#A5A5A5"/><circle cx="694.6" cy="649.1" r="3" fill="#A5A5A5"/><circle cx="734.9" cy="677.4" r="3" fill="#A5A5A5"/><circle cx="717.7" cy="648.6" r="3" fill="#A5A5A5"/><circle cx="721.2" cy="673.1" r="3" fill="#A5A5A5"/><circle cx="688.9" cy="633.7" r="3" fill="#A5A5A5"/><circle cx="725.0" cy="647.5" r="3" fill="#A5A5A5"/><circle cx="696.9" cy="657.8" r="3" fill="#A5A5A5"/><circle cx="748.0" cy="661.0" r="3" fill="#A5A5A5"/><circle cx="693.5" cy="691.5" r="3" fill="#A5A5A5"/><circle cx="743.4" cy="690.6" r="3" fill="#A5A5A5"/><circle cx="697.9" cy="623.2" r="3" fill="#A5A5A5"/><circle cx="727.7" cy="616.4" r="3" fill="#A5A5A5"/><circle cx="751.2" cy="615.4" r="3" fill="#A5A5A5"/><circle cx="750.1" cy="620.2" r="3" fill="#A5A5A5"/><polyline points="161.5,620.0 158.0,635.0 152.0,652.0 146.0,668.0 142.0,684.0 141.0,694.0" fill="none" stroke="#A5A5A5" stroke-width="9" stroke-linecap="round" stroke-linejoin="round"/><polyline points="158.0,618.0 155.0,630.0" fill="none" stroke="#A5A5A5" stroke-width="6" stroke-linecap="round" stroke-linejoin="round"/><line x1="322.0" y1="628.5" x2="322.0" y2="661.5" stroke="#A5A5A5" stroke-width="7" stroke-linecap="round"/><line x1="328.0" y1="621.5" x2="328.0" y2="656.5" stroke="#A5A5A5" stroke-width="7" stroke-linecap="round"/><line x1="340.0" y1="628.5" x2="340.0" y2="664.5" stroke="#A5A5A5" stroke-width="7" stroke-linecap="round"/><line x1="372.0" y1="648.5" x2="372.0" y2="664.5" stroke="#A5A5A5" stroke-width="7" stroke-linecap="round"/><line x1="507.0" y1="643.5" x2="507.0" y2="686.5" stroke="#A5A5A5" stroke-width="7" stroke-linecap="round"/><line x1="513.0" y1="633.5" x2="513.0" y2="690.5" stroke="#A5A5A5" stroke-width="7" stroke-linecap="round"/><line x1="519.0" y1="629.5" x2="519.0" y2="681.5" stroke="#A5A5A5" stroke-width="7" stroke-linecap="round"/><line x1="526.0" y1="635.5" x2="526.0" y2="676.5" stroke="#A5A5A5" stroke-width="7" stroke-linecap="round"/><line x1="700.0" y1="625.5" x2="700.0" y2="671.5" stroke="#A5A5A5" stroke-width="7" stroke-linecap="round"/><line x1="706.0" y1="628.5" x2="706.0" y2="668.5" stroke="#A5A5A5" stroke-width="7" stroke-linecap="round"/><circle cx="143.5" cy="625.4" r="3" fill="#A5A5A5"/><circle cx="150.5" cy="651.0" r="3" fill="#A5A5A5"/><circle cx="162.1" cy="667.5" r="3" fill="#A5A5A5"/><circle cx="163.8" cy="635.4" r="3" fill="#A5A5A5"/><circle cx="156.5" cy="641.8" r="3" fill="#A5A5A5"/><circle cx="160.5" cy="641.8" r="3" fill="#A5A5A5"/><circle cx="158.5" cy="644.0" r="3" fill="#A5A5A5"/><circle cx="149.9" cy="684.7" r="3" fill="#A5A5A5"/><circle cx="152.9" cy="658.8" r="3" fill="#A5A5A5"/><circle cx="155.2" cy="661.1" r="3" fill="#A5A5A5"/><circle cx="156.0" cy="676.9" r="3" fill="#A5A5A5"/><circle cx="153.4" cy="650.1" r="3" fill="#A5A5A5"/><circle cx="150.8" cy="671.1" r="3" fill="#A5A5A5"/><circle cx="145.6" cy="683.2" r="3" fill="#A5A5A5"/><circle cx="158.7" cy="657.9" r="3" fill="#A5A5A5"/><circle cx="160.1" cy="670.4" r="3" fill="#A5A5A5"/><circle cx="222.2" cy="668.2" r="3" fill="#A5A5A5"/><circle cx="217.6" cy="673.8" r="3" fill="#A5A5A5"/><circle cx="202.0" cy="645.3" r="3" fill="#A5A5A5"/><circle cx="210.1" cy="628.8" r="3" fill="#A5A5A5"/><circle cx="340.9" cy="632.6" r="3" fill="#A5A5A5"/><circle cx="322.4" cy="635.0" r="3" fill="#A5A5A5"/><circle cx="330.6" cy="664.6" r="3" fill="#A5A5A5"/><circle cx="335.7" cy="631.6" r="3" fill="#A5A5A5"/><circle cx="327.5" cy="665.8" r="3" fill="#A5A5A5"/><circle cx="348.7" cy="630.0" r="3" fill="#A5A5A5"/><circle cx="336.3" cy="631.7" r="3" fill="#A5A5A5"/><circle cx="330.8" cy="667.4" r="3" fill="#A5A5A5"/><circle cx="332.4" cy="638.1" r="3" fill="#A5A5A5"/><circle cx="319.2" cy="643.7" r="3" fill="#A5A5A5"/><circle cx="349.5" cy="656.3" r="3" fill="#A5A5A5"/><circle cx="338.3" cy="674.0" r="3" fill="#A5A5A5"/><circle cx="333.7" cy="645.2" r="3" fill="#A5A5A5"/><circle cx="340.3" cy="644.8" r="3" fill="#A5A5A5"/><circle cx="351.0" cy="673.8" r="3" fill="#A5A5A5"/><circle cx="374.5" cy="654.8" r="3" fill="#A5A5A5"/><circle cx="370.8" cy="662.4" r="3" fill="#A5A5A5"/><circle cx="518.9" cy="639.4" r="3" fill="#A5A5A5"/><circle cx="529.1" cy="669.6" r="3" fill="#A5A5A5"/><circle cx="511.2" cy="668.9" r="3" fill="#A5A5A5"/><circle cx="512.9" cy="658.0" r="3" fill="#A5A5A5"/><circle cx="522.8" cy="685.7" r="3" fill="#A5A5A5"/><circle cx="520.1" cy="664.2" r="3" fill="#A5A5A5"/><circle cx="511.3" cy="642.8" r="3" fill="#A5A5A5"/><circle cx="508.4" cy="672.3" r="3" fill="#A5A5A5"/><circle cx="508.3" cy="676.2" r="3" fill="#A5A5A5"/><circle cx="509.9" cy="678.8" r="3" fill="#A5A5A5"/><circle cx="510.2" cy="674.1" r="3" fill="#A5A5A5"/><circle cx="533.9" cy="666.6" r="3" fill="#A5A5A5"/><circle cx="523.9" cy="635.0" r="3" fill="#A5A5A5"/><circle cx="533.7" cy="688.8" r="3" fill="#A5A5A5"/><circle cx="505.9" cy="673.7" r="3" fill="#A5A5A5"/><circle cx="527.5" cy="674.6" r="3" fill="#A5A5A5"/><circle cx="523.0" cy="689.0" r="3" fill="#A5A5A5"/><circle cx="506.2" cy="635.9" r="3" fill="#A5A5A5"/><circle cx="507.2" cy="672.5" r="3" fill="#A5A5A5"/><circle cx="517.9" cy="641.8" r="3" fill="#A5A5A5"/><circle cx="527.4" cy="675.4" r="3" fill="#A5A5A5"/><circle cx="518.7" cy="652.9" r="3" fill="#A5A5A5"/><circle cx="513.8" cy="657.9" r="3" fill="#A5A5A5"/><circle cx="528.0" cy="635.2" r="3" fill="#A5A5A5"/><circle cx="528.6" cy="649.4" r="3" fill="#A5A5A5"/><circle cx="532.2" cy="630.8" r="3" fill="#A5A5A5"/><circle cx="538.0" cy="666.9" r="3" fill="#A5A5A5"/><circle cx="553.3" cy="634.1" r="3" fill="#A5A5A5"/><circle cx="538.9" cy="638.0" r="3" fill="#A5A5A5"/><circle cx="702.7" cy="668.1" r="3" fill="#A5A5A5"/><circle cx="698.4" cy="622.9" r="3" fill="#A5A5A5"/><circle cx="706.4" cy="646.0" r="3" fill="#A5A5A5"/><circle cx="703.7" cy="641.1" r="3" fill="#A5A5A5"/><circle cx="697.5" cy="672.5" r="3" fill="#A5A5A5"/><circle cx="698.3" cy="632.8" r="3" fill="#A5A5A5"/><circle cx="703.6" cy="661.7" r="3" fill="#A5A5A5"/><circle cx="698.9" cy="665.6" r="3" fill="#A5A5A5"/><circle cx="698.8" cy="661.6" r="3" fill="#A5A5A5"/><circle cx="700.9" cy="642.4" r="3" fill="#A5A5A5"/><circle cx="700.8" cy="645.6" r="3" fill="#A5A5A5"/><circle cx="698.7" cy="672.0" r="3" fill="#A5A5A5"/><circle cx="710.0" cy="635.0" r="3" fill="#A5A5A5"/><circle cx="702.7" cy="631.1" r="3" fill="#A5A5A5"/><circle cx="723.8" cy="629.3" r="3" fill="#A5A5A5"/><circle cx="734.5" cy="681.3" r="3" fill="#A5A5A5"/><circle cx="116.0" cy="534.0" r="3" fill="#A5A5A5"/><circle cx="116.0" cy="554.0" r="3" fill="#A5A5A5"/><circle cx="116.5" cy="608.0" r="3" fill="#A5A5A5"/><circle cx="116.5" cy="623.0" r="3" fill="#A5A5A5"/><circle cx="116.5" cy="633.0" r="3" fill="#A5A5A5"/><circle cx="116.5" cy="663.0" r="3" fill="#A5A5A5"/><circle cx="116.5" cy="673.0" r="3" fill="#A5A5A5"/><circle cx="122.3" cy="584.5" r="3" fill="#A5A5A5"/><circle cx="163.8" cy="614.6" r="3" fill="#A5A5A5"/><circle cx="180.4" cy="632.3" r="3" fill="#A5A5A5"/><circle cx="189.7" cy="632.3" r="3" fill="#A5A5A5"/><circle cx="222.4" cy="590.7" r="3" fill="#A5A5A5"/><circle cx="239.5" cy="594.0" r="3" fill="#A5A5A5"/><circle cx="278.0" cy="599.0" r="3" fill="#A5A5A5"/><circle cx="278.0" cy="608.4" r="3" fill="#A5A5A5"/><circle cx="304.0" cy="607.4" r="3" fill="#A5A5A5"/><circle cx="347.7" cy="611.5" r="3" fill="#A5A5A5"/><circle cx="408.9" cy="598.0" r="3" fill="#A5A5A5"/><circle cx="419.3" cy="608.4" r="3" fill="#A5A5A5"/><circle cx="408.5" cy="598.4" r="3" fill="#A5A5A5"/><circle cx="421.4" cy="594.0" r="3" fill="#A5A5A5"/><circle cx="461.3" cy="556.2" r="3" fill="#A5A5A5"/><circle cx="440.8" cy="577.0" r="3" fill="#A5A5A5"/><circle cx="487.6" cy="588.7" r="3" fill="#A5A5A5"/><circle cx="522.7" cy="589.3" r="3" fill="#A5A5A5"/><circle cx="441.3" cy="577.3" r="3" fill="#A5A5A5"/><circle cx="486.9" cy="588.7" r="3" fill="#A5A5A5"/><circle cx="522.2" cy="589.7" r="3" fill="#A5A5A5"/><circle cx="461.0" cy="601.0" r="3" fill="#A5A5A5"/><circle cx="486.9" cy="622.0" r="3" fill="#A5A5A5"/><circle cx="546.0" cy="631.2" r="3" fill="#A5A5A5"/><circle cx="578.2" cy="630.2" r="3" fill="#A5A5A5"/><circle cx="583.4" cy="636.4" r="3" fill="#A5A5A5"/><circle cx="599.0" cy="577.0" r="3" fill="#A5A5A5"/><circle cx="601.4" cy="577.4" r="3" fill="#A5A5A5"/><circle cx="597.2" cy="596.3" r="3" fill="#A5A5A5"/><circle cx="644.4" cy="592.0" r="3" fill="#A5A5A5"/><circle cx="692.8" cy="573.2" r="3" fill="#A5A5A5"/><circle cx="703.3" cy="598.4" r="3" fill="#A5A5A5"/><circle cx="713.8" cy="602.6" r="3" fill="#A5A5A5"/><circle cx="697.0" cy="607.8" r="3" fill="#A5A5A5"/><circle cx="624.2" cy="568.4" r="3" fill="#A5A5A5"/><circle cx="601.0" cy="577.2" r="3" fill="#A5A5A5"/><circle cx="596.6" cy="597.0" r="3" fill="#A5A5A5"/><circle cx="644.7" cy="592.6" r="3" fill="#A5A5A5"/><circle cx="692.5" cy="574.3" r="3" fill="#A5A5A5"/><circle cx="190.0" cy="700.0" r="3" fill="#A5A5A5"/><circle cx="190.0" cy="709.0" r="3" fill="#A5A5A5"/><line x1="190.0" y1="717.5" x2="190.0" y2="827.1" stroke="#A5A5A5" stroke-width="7" stroke-linecap="round"/><circle cx="194.0" cy="700.0" r="3" fill="#A5A5A5"/><circle cx="194.0" cy="709.0" r="3" fill="#A5A5A5"/><line x1="194.0" y1="717.5" x2="194.0" y2="776.2" stroke="#A5A5A5" stroke-width="7" stroke-linecap="round"/><circle cx="375.0" cy="700.0" r="3" fill="#A5A5A5"/><circle cx="375.0" cy="709.0" r="3" fill="#A5A5A5"/><line x1="375.0" y1="717.5" x2="375.0" y2="826.0" stroke="#A5A5A5" stroke-width="7" stroke-linecap="round"/><circle cx="557.8" cy="700.0" r="3" fill="#A5A5A5"/><circle cx="557.8" cy="709.0" r="3" fill="#A5A5A5"/><line x1="557.8" y1="717.5" x2="557.8" y2="826.0" stroke="#A5A5A5" stroke-width="7" stroke-linecap="round"/><circle cx="567.5" cy="700.0" r="3" fill="#A5A5A5"/><circle cx="567.5" cy="709.0" r="3" fill="#A5A5A5"/><line x1="567.5" y1="717.5" x2="567.5" y2="752.5" stroke="#A5A5A5" stroke-width="7" stroke-linecap="round"/><circle cx="740.0" cy="690.0" r="3" fill="#A5A5A5"/><circle cx="740.0" cy="699.0" r="3" fill="#A5A5A5"/><line x1="740.0" y1="707.5" x2="740.0" y2="824.8" stroke="#A5A5A5" stroke-width="7" stroke-linecap="round"/><circle cx="744.0" cy="690.0" r="3" fill="#A5A5A5"/><circle cx="744.0" cy="699.0" r="3" fill="#A5A5A5"/><line x1="744.0" y1="707.5" x2="744.0" y2="786.5" stroke="#A5A5A5" stroke-width="7" stroke-linecap="round"/><circle cx="201.7" cy="687.9" r="3" fill="#A5A5A5"/><circle cx="257.8" cy="631.9" r="3" fill="#A5A5A5"/><circle cx="253.4" cy="629.9" r="3" fill="#A5A5A5"/><circle cx="274.8" cy="633.8" r="3" fill="#A5A5A5"/><circle cx="247.0" cy="620.2" r="3" fill="#A5A5A5"/><circle cx="207.6" cy="601.1" r="3" fill="#A5A5A5"/><circle cx="245.0" cy="632.8" r="3" fill="#A5A5A5"/><circle cx="383.4" cy="682.3" r="3" fill="#A5A5A5"/><circle cx="377.9" cy="645.9" r="3" fill="#A5A5A5"/><circle cx="396.7" cy="693.8" r="3" fill="#A5A5A5"/><circle cx="490.8" cy="631.9" r="3" fill="#A5A5A5"/><circle cx="447.3" cy="631.9" r="3" fill="#A5A5A5"/><circle cx="489.8" cy="627.2" r="3" fill="#A5A5A5"/><circle cx="432.5" cy="623.5" r="3" fill="#A5A5A5"/><circle cx="404.4" cy="607.3" r="3" fill="#A5A5A5"/><circle cx="440.0" cy="612.4" r="3" fill="#A5A5A5"/><circle cx="399.0" cy="617.5" r="3" fill="#A5A5A5"/><circle cx="406.5" cy="608.2" r="3" fill="#A5A5A5"/><circle cx="492.1" cy="618.7" r="3" fill="#A5A5A5"/><circle cx="389.8" cy="624.1" r="3" fill="#A5A5A5"/><circle cx="387.3" cy="634.7" r="3" fill="#A5A5A5"/><circle cx="569.2" cy="710.5" r="3" fill="#A5A5A5"/><circle cx="631.6" cy="613.2" r="3" fill="#A5A5A5"/><circle cx="607.4" cy="628.7" r="3" fill="#A5A5A5"/><circle cx="636.1" cy="627.7" r="3" fill="#A5A5A5"/><circle cx="648.2" cy="602.7" r="3" fill="#A5A5A5"/><circle cx="563.5" cy="633.5" r="3" fill="#A5A5A5"/><circle cx="677.8" cy="634.8" r="3" fill="#A5A5A5"/><circle cx="563.3" cy="607.8" r="3" fill="#A5A5A5"/><circle cx="611.6" cy="618.0" r="3" fill="#A5A5A5"/><circle cx="608.0" cy="629.1" r="3" fill="#A5A5A5"/></g>
<g><circle cx="167.6" cy="644.5" r="3" fill="#FFC000"/><circle cx="123.2" cy="648.2" r="3" fill="#FFC000"/><circle cx="116.4" cy="673.4" r="3" fill="#FFC000"/><circle cx="150.1" cy="682.8" r="3" fill="#FFC000"/><circle cx="202.7" cy="652.5" r="3" fill="#FFC000"/><circle cx="218.3" cy="691.1" r="3" fill="#FFC000"/><circle cx="126.0" cy="650.8" r="3" fill="#FFC000"/><circle cx="121.3" cy="694.1" r="3" fill="#FFC000"/><circle cx="160.6" cy="643.9" r="3" fill="#FFC000"/><circle cx="206.9" cy="658.5" r="3" fill="#FFC000"/><circle cx="196.5" cy="691.6" r="3" fill="#FFC000"/><circle cx="202.7" cy="635.1" r="3" fill="#FFC000"/><circle cx="223.4" cy="658.4" r="3" fill="#FFC000"/><circle cx="160.4" cy="637.8" r="3" fill="#FFC000"/><circle cx="224.7" cy="692.3" r="3" fill="#FFC000"/><circle cx="148.3" cy="691.4" r="3" fill="#FFC000"/><circle cx="179.9" cy="628.8" r="3" fill="#FFC000"/><circle cx="143.6" cy="673.0" r="3" fill="#FFC000"/><circle cx="221.2" cy="662.7" r="3" fill="#FFC000"/><circle cx="179.9" cy="672.6" r="3" fill="#FFC000"/><circle cx="184.6" cy="679.9" r="3" fill="#FFC000"/><circle cx="137.3" cy="630.4" r="3" fill="#FFC000"/><circle cx="157.8" cy="669.0" r="3" fill="#FFC000"/><circle cx="160.6" cy="646.7" r="3" fill="#FFC000"/><circle cx="128.7" cy="683.7" r="3" fill="#FFC000"/><circle cx="176.0" cy="650.7" r="3" fill="#FFC000"/><circle cx="221.4" cy="682.8" r="3" fill="#FFC000"/><circle cx="205.4" cy="671.0" r="3" fill="#FFC000"/><circle cx="131.6" cy="667.9" r="3" fill="#FFC000"/><circle cx="221.3" cy="692.9" r="3" fill="#FFC000"/><circle cx="127.9" cy="665.9" r="3" fill="#FFC000"/><circle cx="148.1" cy="693.2" r="3" fill="#FFC000"/><circle cx="221.7" cy="689.2" r="3" fill="#FFC000"/><circle cx="144.6" cy="693.7" r="3" fill="#FFC000"/><circle cx="170.1" cy="647.2" r="3" fill="#FFC000"/><circle cx="129.4" cy="669.7" r="3" fill="#FFC000"/><circle cx="148.3" cy="668.7" r="3" fill="#FFC000"/><circle cx="174.3" cy="659.1" r="3" fill="#FFC000"/><circle cx="201.6" cy="656.7" r="3" fill="#FFC000"/><circle cx="193.9" cy="670.4" r="3" fill="#FFC000"/><circle cx="216.3" cy="653.8" r="3" fill="#FFC000"/><circle cx="168.6" cy="664.8" r="3" fill="#FFC000"/><circle cx="152.4" cy="638.3" r="3" fill="#FFC000"/><circle cx="206.2" cy="681.0" r="3" fill="#FFC000"/><circle cx="208.6" cy="642.7" r="3" fill="#FFC000"/><circle cx="132.6" cy="670.3" r="3" fill="#FFC000"/><circle cx="216.1" cy="665.2" r="3" fill="#FFC000"/><circle cx="135.7" cy="675.8" r="3" fill="#FFC000"/><circle cx="212.5" cy="660.2" r="3" fill="#FFC000"/><circle cx="131.4" cy="669.9" r="3" fill="#FFC000"/><circle cx="141.9" cy="650.3" r="3" fill="#FFC000"/><circle cx="163.7" cy="685.1" r="3" fill="#FFC000"/><circle cx="167.7" cy="687.6" r="3" fill="#FFC000"/><circle cx="133.0" cy="638.7" r="3" fill="#FFC000"/><circle cx="147.6" cy="643.8" r="3" fill="#FFC000"/><circle cx="119.5" cy="689.9" r="3" fill="#FFC000"/><circle cx="160.1" cy="629.3" r="3" fill="#FFC000"/><circle cx="150.3" cy="616.2" r="3" fill="#FFC000"/><circle cx="161.1" cy="605.2" r="3" fill="#FFC000"/><circle cx="224.9" cy="617.5" r="3" fill="#FFC000"/><circle cx="142.8" cy="605.3" r="3" fill="#FFC000"/><circle cx="122.6" cy="610.6" r="3" fill="#FFC000"/><circle cx="222.9" cy="608.7" r="3" fill="#FFC000"/><circle cx="150.5" cy="606.8" r="3" fill="#FFC000"/><circle cx="139.6" cy="604.5" r="3" fill="#FFC000"/><circle cx="169.5" cy="618.9" r="3" fill="#FFC000"/><circle cx="335.0" cy="633.6" r="3" fill="#FFC000"/><circle cx="364.3" cy="688.0" r="3" fill="#FFC000"/><circle cx="383.4" cy="666.5" r="3" fill="#FFC000"/><circle cx="316.8" cy="636.7" r="3" fill="#FFC000"/><circle cx="392.8" cy="691.6" r="3" fill="#FFC000"/><circle cx="333.7" cy="656.7" r="3" fill="#FFC000"/><circle cx="343.1" cy="628.8" r="3" fill="#FFC000"/><circle cx="355.3" cy="657.1" r="3" fill="#FFC000"/><circle cx="384.1" cy="690.7" r="3" fill="#FFC000"/><circle cx="403.9" cy="630.2" r="3" fill="#FFC000"/><circle cx="357.3" cy="687.1" r="3" fill="#FFC000"/><circle cx="370.6" cy="681.6" r="3" fill="#FFC000"/><circle cx="312.9" cy="662.3" r="3" fill="#FFC000"/><circle cx="314.5" cy="648.9" r="3" fill="#FFC000"/><circle cx="356.8" cy="675.1" r="3" fill="#FFC000"/><circle cx="377.1" cy="672.9" r="3" fill="#FFC000"/><circle cx="387.1" cy="652.3" r="3" fill="#FFC000"/><circle cx="319.3" cy="633.8" r="3" fill="#FFC000"/><circle cx="369.4" cy="642.0" r="3" fill="#FFC000"/><circle cx="348.7" cy="639.9" r="3" fill="#FFC000"/><circle cx="396.6" cy="689.0" r="3" fill="#FFC000"/><circle cx="364.0" cy="675.9" r="3" fill="#FFC000"/><circle cx="333.1" cy="632.2" r="3" fill="#FFC000"/><circle cx="351.2" cy="656.5" r="3" fill="#FFC000"/><circle cx="314.9" cy="635.7" r="3" fill="#FFC000"/><circle cx="380.5" cy="632.1" r="3" fill="#FFC000"/><circle cx="381.8" cy="633.6" r="3" fill="#FFC000"/><circle cx="339.8" cy="635.8" r="3" fill="#FFC000"/><circle cx="347.9" cy="647.5" r="3" fill="#FFC000"/><circle cx="377.5" cy="680.9" r="3" fill="#FFC000"/><circle cx="360.8" cy="631.4" r="3" fill="#FFC000"/><circle cx="337.5" cy="634.4" r="3" fill="#FFC000"/><circle cx="404.6" cy="664.3" r="3" fill="#FFC000"/><circle cx="399.8" cy="634.2" r="3" fill="#FFC000"/><circle cx="355.1" cy="653.6" r="3" fill="#FFC000"/><circle cx="359.7" cy="631.6" r="3" fill="#FFC000"/><circle cx="385.2" cy="657.1" r="3" fill="#FFC000"/><circle cx="396.8" cy="671.2" r="3" fill="#FFC000"/><circle cx="405.5" cy="642.5" r="3" fill="#FFC000"/><circle cx="355.0" cy="633.0" r="3" fill="#FFC000"/><circle cx="372.5" cy="653.1" r="3" fill="#FFC000"/><circle cx="384.5" cy="656.1" r="3" fill="#FFC000"/><circle cx="359.1" cy="630.6" r="3" fill="#FFC000"/><circle cx="325.0" cy="613.1" r="3" fill="#FFC000"/><circle cx="365.2" cy="609.4" r="3" fill="#FFC000"/><circle cx="317.6" cy="606.3" r="3" fill="#FFC000"/><circle cx="325.5" cy="629.2" r="3" fill="#FFC000"/><circle cx="336.8" cy="626.8" r="3" fill="#FFC000"/><circle cx="564.0" cy="632.6" r="3" fill="#FFC000"/><circle cx="536.5" cy="669.6" r="3" fill="#FFC000"/><circle cx="513.3" cy="637.3" r="3" fill="#FFC000"/><circle cx="560.9" cy="658.0" r="3" fill="#FFC000"/><circle cx="548.6" cy="672.4" r="3" fill="#FFC000"/><circle cx="507.0" cy="645.4" r="3" fill="#FFC000"/><circle cx="579.7" cy="645.7" r="3" fill="#FFC000"/><circle cx="555.8" cy="684.6" r="3" fill="#FFC000"/><circle cx="501.6" cy="693.1" r="3" fill="#FFC000"/><circle cx="503.0" cy="676.0" r="3" fill="#FFC000"/><circle cx="588.8" cy="664.4" r="3" fill="#FFC000"/><circle cx="536.8" cy="642.0" r="3" fill="#FFC000"/><circle cx="582.4" cy="653.6" r="3" fill="#FFC000"/><circle cx="584.3" cy="659.2" r="3" fill="#FFC000"/><circle cx="582.3" cy="666.5" r="3" fill="#FFC000"/><circle cx="540.8" cy="678.8" r="3" fill="#FFC000"/><circle cx="551.0" cy="644.9" r="3" fill="#FFC000"/><circle cx="568.1" cy="650.5" r="3" fill="#FFC000"/><circle cx="582.5" cy="646.9" r="3" fill="#FFC000"/><circle cx="578.6" cy="636.9" r="3" fill="#FFC000"/><circle cx="576.3" cy="672.3" r="3" fill="#FFC000"/><circle cx="574.9" cy="673.3" r="3" fill="#FFC000"/><circle cx="519.2" cy="683.6" r="3" fill="#FFC000"/><circle cx="522.5" cy="628.7" r="3" fill="#FFC000"/><circle cx="551.1" cy="677.8" r="3" fill="#FFC000"/><circle cx="506.9" cy="658.7" r="3" fill="#FFC000"/><circle cx="571.7" cy="659.9" r="3" fill="#FFC000"/><circle cx="555.0" cy="683.9" r="3" fill="#FFC000"/><circle cx="563.6" cy="685.0" r="3" fill="#FFC000"/><circle cx="515.7" cy="632.4" r="3" fill="#FFC000"/><circle cx="517.5" cy="628.2" r="3" fill="#FFC000"/><circle cx="524.9" cy="676.8" r="3" fill="#FFC000"/><circle cx="561.1" cy="642.5" r="3" fill="#FFC000"/><circle cx="535.7" cy="672.2" r="3" fill="#FFC000"/><circle cx="579.1" cy="675.8" r="3" fill="#FFC000"/><circle cx="546.6" cy="684.3" r="3" fill="#FFC000"/><circle cx="505.8" cy="668.6" r="3" fill="#FFC000"/><circle cx="541.4" cy="681.8" r="3" fill="#FFC000"/><circle cx="582.4" cy="668.7" r="3" fill="#FFC000"/><circle cx="512.9" cy="656.6" r="3" fill="#FFC000"/><circle cx="572.9" cy="632.8" r="3" fill="#FFC000"/><circle cx="517.4" cy="672.6" r="3" fill="#FFC000"/><circle cx="505.8" cy="676.9" r="3" fill="#FFC000"/><circle cx="545.3" cy="633.5" r="3" fill="#FFC000"/><circle cx="544.7" cy="659.5" r="3" fill="#FFC000"/><circle cx="511.1" cy="646.6" r="3" fill="#FFC000"/><circle cx="527.5" cy="674.0" r="3" fill="#FFC000"/><circle cx="543.7" cy="651.2" r="3" fill="#FFC000"/><circle cx="575.7" cy="666.2" r="3" fill="#FFC000"/><circle cx="558.1" cy="669.2" r="3" fill="#FFC000"/><circle cx="536.6" cy="636.8" r="3" fill="#FFC000"/><circle cx="578.7" cy="648.5" r="3" fill="#FFC000"/><circle cx="503.3" cy="633.5" r="3" fill="#FFC000"/><circle cx="539.5" cy="638.8" r="3" fill="#FFC000"/><circle cx="513.5" cy="616.3" r="3" fill="#FFC000"/><circle cx="564.6" cy="615.9" r="3" fill="#FFC000"/><circle cx="537.7" cy="620.0" r="3" fill="#FFC000"/><circle cx="558.3" cy="610.3" r="3" fill="#FFC000"/><circle cx="569.4" cy="612.0" r="3" fill="#FFC000"/><circle cx="501.2" cy="617.0" r="3" fill="#FFC000"/><circle cx="514.8" cy="629.6" r="3" fill="#FFC000"/><circle cx="696.5" cy="676.2" r="3" fill="#FFC000"/><circle cx="748.7" cy="665.3" r="3" fill="#FFC000"/><circle cx="689.7" cy="644.6" r="3" fill="#FFC000"/><circle cx="736.9" cy="667.7" r="3" fill="#FFC000"/><circle cx="711.9" cy="649.2" r="3" fill="#FFC000"/><circle cx="694.6" cy="628.6" r="3" fill="#FFC000"/><circle cx="700.2" cy="641.8" r="3" fill="#FFC000"/><circle cx="718.6" cy="686.4" r="3" fill="#FFC000"/><circle cx="736.7" cy="651.2" r="3" fill="#FFC000"/><circle cx="723.7" cy="668.6" r="3" fill="#FFC000"/><circle cx="706.2" cy="646.7" r="3" fill="#FFC000"/><circle cx="703.2" cy="638.8" r="3" fill="#FFC000"/><circle cx="748.6" cy="633.3" r="3" fill="#FFC000"/><circle cx="715.4" cy="645.3" r="3" fill="#FFC000"/><circle cx="718.4" cy="638.0" r="3" fill="#FFC000"/><circle cx="735.2" cy="660.0" r="3" fill="#FFC000"/><circle cx="738.7" cy="692.1" r="3" fill="#FFC000"/><circle cx="687.1" cy="661.8" r="3" fill="#FFC000"/><circle cx="707.5" cy="673.8" r="3" fill="#FFC000"/><circle cx="734.0" cy="643.4" r="3" fill="#FFC000"/><circle cx="700.1" cy="661.0" r="3" fill="#FFC000"/><circle cx="735.3" cy="679.3" r="3" fill="#FFC000"/><circle cx="750.7" cy="657.7" r="3" fill="#FFC000"/><circle cx="745.1" cy="637.8" r="3" fill="#FFC000"/><circle cx="721.8" cy="672.7" r="3" fill="#FFC000"/><circle cx="719.0" cy="661.1" r="3" fill="#FFC000"/><circle cx="704.8" cy="670.1" r="3" fill="#FFC000"/><circle cx="715.2" cy="679.3" r="3" fill="#FFC000"/><circle cx="687.1" cy="688.0" r="3" fill="#FFC000"/><circle cx="684.5" cy="648.6" r="3" fill="#FFC000"/><circle cx="689.9" cy="656.6" r="3" fill="#FFC000"/><circle cx="700.9" cy="694.8" r="3" fill="#FFC000"/><circle cx="686.1" cy="636.1" r="3" fill="#FFC000"/><circle cx="684.7" cy="673.2" r="3" fill="#FFC000"/><circle cx="700.6" cy="649.0" r="3" fill="#FFC000"/><circle cx="698.9" cy="685.1" r="3" fill="#FFC000"/><circle cx="731.2" cy="631.4" r="3" fill="#FFC000"/><circle cx="700.6" cy="632.3" r="3" fill="#FFC000"/><circle cx="689.2" cy="646.7" r="3" fill="#FFC000"/><circle cx="700.0" cy="617.4" r="3" fill="#FFC000"/><circle cx="751.5" cy="613.1" r="3" fill="#FFC000"/><circle cx="703.8" cy="624.3" r="3" fill="#FFC000"/><circle cx="729.4" cy="613.3" r="3" fill="#FFC000"/><circle cx="705.5" cy="619.8" r="3" fill="#FFC000"/><circle cx="718.6" cy="621.7" r="3" fill="#FFC000"/><circle cx="732.8" cy="612.5" r="3" fill="#FFC000"/><line x1="133.0" y1="645.5" x2="133.0" y2="695.5" stroke="#FFC000" stroke-width="9" stroke-linecap="round"/><line x1="193.0" y1="664.0" x2="193.0" y2="696.0" stroke="#FFC000" stroke-width="8" stroke-linecap="round"/><line x1="199.0" y1="659.0" x2="199.0" y2="696.0" stroke="#FFC000" stroke-width="8" stroke-linecap="round"/><line x1="205.0" y1="654.0" x2="205.0" y2="696.0" stroke="#FFC000" stroke-width="8" stroke-linecap="round"/><line x1="211.0" y1="649.0" x2="211.0" y2="696.0" stroke="#FFC000" stroke-width="8" stroke-linecap="round"/><line x1="217.0" y1="644.0" x2="217.0" y2="696.0" stroke="#FFC000" stroke-width="8" stroke-linecap="round"/><line x1="366.0" y1="635.5" x2="366.0" y2="656.5" stroke="#FFC000" stroke-width="7" stroke-linecap="round"/><line x1="401.0" y1="615.5" x2="401.0" y2="696.5" stroke="#FFC000" stroke-width="7" stroke-linecap="round"/><line x1="547.0" y1="623.5" x2="547.0" y2="661.5" stroke="#FFC000" stroke-width="7" stroke-linecap="round"/><line x1="561.0" y1="638.5" x2="561.0" y2="668.5" stroke="#FFC000" stroke-width="7" stroke-linecap="round"/><line x1="585.0" y1="648.5" x2="585.0" y2="696.5" stroke="#FFC000" stroke-width="7" stroke-linecap="round"/><line x1="726.0" y1="648.5" x2="726.0" y2="661.5" stroke="#FFC000" stroke-width="7" stroke-linecap="round"/><circle cx="155.8" cy="668.0" r="3" fill="#FFC000"/><circle cx="148.5" cy="628.7" r="3" fill="#FFC000"/><circle cx="155.1" cy="631.1" r="3" fill="#FFC000"/><circle cx="158.3" cy="645.7" r="3" fill="#FFC000"/><circle cx="207.3" cy="620.7" r="3" fill="#FFC000"/><circle cx="201.0" cy="676.5" r="3" fill="#FFC000"/><circle cx="203.1" cy="607.2" r="3" fill="#FFC000"/><circle cx="201.5" cy="683.0" r="3" fill="#FFC000"/><circle cx="213.3" cy="670.2" r="3" fill="#FFC000"/><circle cx="215.3" cy="659.0" r="3" fill="#FFC000"/><circle cx="216.2" cy="649.4" r="3" fill="#FFC000"/><circle cx="199.3" cy="644.3" r="3" fill="#FFC000"/><circle cx="217.3" cy="658.0" r="3" fill="#FFC000"/><circle cx="205.1" cy="643.5" r="3" fill="#FFC000"/><circle cx="218.1" cy="651.3" r="3" fill="#FFC000"/><circle cx="194.0" cy="662.8" r="3" fill="#FFC000"/><circle cx="225.5" cy="627.1" r="3" fill="#FFC000"/><circle cx="212.7" cy="704.3" r="3" fill="#FFC000"/><circle cx="218.3" cy="614.3" r="3" fill="#FFC000"/><circle cx="198.4" cy="626.8" r="3" fill="#FFC000"/><circle cx="211.4" cy="685.5" r="3" fill="#FFC000"/><circle cx="200.1" cy="701.1" r="3" fill="#FFC000"/><circle cx="218.2" cy="634.6" r="3" fill="#FFC000"/><circle cx="215.6" cy="706.5" r="3" fill="#FFC000"/><circle cx="198.5" cy="628.1" r="3" fill="#FFC000"/><circle cx="194.8" cy="607.1" r="3" fill="#FFC000"/><circle cx="213.7" cy="677.3" r="3" fill="#FFC000"/><circle cx="214.5" cy="661.8" r="3" fill="#FFC000"/><circle cx="214.3" cy="673.4" r="3" fill="#FFC000"/><circle cx="226.1" cy="670.3" r="3" fill="#FFC000"/><circle cx="221.3" cy="680.8" r="3" fill="#FFC000"/><circle cx="203.0" cy="644.9" r="3" fill="#FFC000"/><circle cx="342.4" cy="639.1" r="3" fill="#FFC000"/><circle cx="325.5" cy="629.6" r="3" fill="#FFC000"/><circle cx="341.3" cy="627.5" r="3" fill="#FFC000"/><circle cx="324.3" cy="655.7" r="3" fill="#FFC000"/><circle cx="334.1" cy="667.4" r="3" fill="#FFC000"/><circle cx="376.2" cy="647.3" r="3" fill="#FFC000"/><circle cx="365.8" cy="664.4" r="3" fill="#FFC000"/><circle cx="362.8" cy="644.0" r="3" fill="#FFC000"/><circle cx="369.5" cy="645.5" r="3" fill="#FFC000"/><circle cx="368.7" cy="638.2" r="3" fill="#FFC000"/><circle cx="518.7" cy="656.7" r="3" fill="#FFC000"/><circle cx="561.5" cy="653.0" r="3" fill="#FFC000"/><circle cx="539.8" cy="662.8" r="3" fill="#FFC000"/><circle cx="551.1" cy="672.1" r="3" fill="#FFC000"/><circle cx="542.5" cy="656.0" r="3" fill="#FFC000"/><circle cx="559.0" cy="639.1" r="3" fill="#FFC000"/><circle cx="547.3" cy="630.7" r="3" fill="#FFC000"/><circle cx="558.3" cy="636.3" r="3" fill="#FFC000"/><circle cx="547.6" cy="656.4" r="3" fill="#FFC000"/><circle cx="724.0" cy="677.1" r="3" fill="#FFC000"/><circle cx="746.3" cy="689.6" r="3" fill="#FFC000"/><circle cx="739.4" cy="667.6" r="3" fill="#FFC000"/><circle cx="736.1" cy="602.9" r="3" fill="#FFC000"/><circle cx="733.2" cy="656.8" r="3" fill="#FFC000"/><circle cx="746.3" cy="665.3" r="3" fill="#FFC000"/><circle cx="716.0" cy="616.0" r="3" fill="#FFC000"/><circle cx="743.4" cy="631.9" r="3" fill="#FFC000"/><circle cx="721.5" cy="659.2" r="3" fill="#FFC000"/><circle cx="746.3" cy="650.7" r="3" fill="#FFC000"/><circle cx="742.3" cy="650.6" r="3" fill="#FFC000"/><circle cx="116.0" cy="538.5" r="3" fill="#FFC000"/><circle cx="116.0" cy="567.0" r="3" fill="#FFC000"/><circle cx="116.5" cy="613.0" r="3" fill="#FFC000"/><circle cx="116.5" cy="638.0" r="3" fill="#FFC000"/><circle cx="116.5" cy="643.0" r="3" fill="#FFC000"/><circle cx="116.5" cy="683.0" r="3" fill="#FFC000"/><circle cx="139.7" cy="583.6" r="3" fill="#FFC000"/><circle cx="132.7" cy="628.0" r="3" fill="#FFC000"/><circle cx="131.6" cy="632.0" r="3" fill="#FFC000"/><circle cx="203.2" cy="627.0" r="3" fill="#FFC000"/><circle cx="341.4" cy="605.3" r="3" fill="#FFC000"/><circle cx="362.2" cy="626.0" r="3" fill="#FFC000"/><circle cx="389.2" cy="601.0" r="3" fill="#FFC000"/><circle cx="417.2" cy="593.9" r="3" fill="#FFC000"/><circle cx="428.6" cy="597.0" r="3" fill="#FFC000"/><circle cx="428.6" cy="605.0" r="3" fill="#FFC000"/><circle cx="415.7" cy="592.7" r="3" fill="#FFC000"/><circle cx="428.5" cy="597.0" r="3" fill="#FFC000"/><circle cx="653.9" cy="600.5" r="3" fill="#FFC000"/><circle cx="694.9" cy="612.0" r="3" fill="#FFC000"/><circle cx="663.3" cy="609.0" r="3" fill="#FFC000"/><circle cx="725.3" cy="635.1" r="3" fill="#FFC000"/><circle cx="150.0" cy="690.0" r="3" fill="#FFC000"/><circle cx="150.0" cy="699.0" r="3" fill="#FFC000"/><line x1="150.0" y1="707.5" x2="150.0" y2="767.9" stroke="#FFC000" stroke-width="7" stroke-linecap="round"/><circle cx="156.0" cy="690.0" r="3" fill="#FFC000"/><circle cx="156.0" cy="699.0" r="3" fill="#FFC000"/><line x1="156.0" y1="707.5" x2="156.0" y2="739.2" stroke="#FFC000" stroke-width="7" stroke-linecap="round"/><circle cx="174.6" cy="690.0" r="3" fill="#FFC000"/><circle cx="174.6" cy="699.0" r="3" fill="#FFC000"/><line x1="174.6" y1="707.5" x2="174.6" y2="811.5" stroke="#FFC000" stroke-width="7" stroke-linecap="round"/><circle cx="317.0" cy="680.0" r="3" fill="#FFC000"/><circle cx="317.0" cy="689.0" r="3" fill="#FFC000"/><line x1="317.0" y1="697.5" x2="317.0" y2="720.5" stroke="#FFC000" stroke-width="7" stroke-linecap="round"/><circle cx="345.0" cy="688.0" r="3" fill="#FFC000"/><circle cx="345.0" cy="697.0" r="3" fill="#FFC000"/><line x1="345.0" y1="705.5" x2="345.0" y2="788.5" stroke="#FFC000" stroke-width="7" stroke-linecap="round"/><circle cx="366.0" cy="688.0" r="3" fill="#FFC000"/><circle cx="366.0" cy="697.0" r="3" fill="#FFC000"/><line x1="366.0" y1="705.5" x2="366.0" y2="807.3" stroke="#FFC000" stroke-width="7" stroke-linecap="round"/><circle cx="371.0" cy="688.0" r="3" fill="#FFC000"/><circle cx="371.0" cy="697.0" r="3" fill="#FFC000"/><line x1="371.0" y1="705.5" x2="371.0" y2="748.5" stroke="#FFC000" stroke-width="7" stroke-linecap="round"/><circle cx="381.0" cy="688.0" r="3" fill="#FFC000"/><circle cx="381.0" cy="697.0" r="3" fill="#FFC000"/><line x1="381.0" y1="705.5" x2="381.0" y2="779.5" stroke="#FFC000" stroke-width="7" stroke-linecap="round"/><circle cx="391.0" cy="688.0" r="3" fill="#FFC000"/><circle cx="391.0" cy="697.0" r="3" fill="#FFC000"/><line x1="391.0" y1="705.5" x2="391.0" y2="763.1" stroke="#FFC000" stroke-width="7" stroke-linecap="round"/><circle cx="513.0" cy="688.0" r="3" fill="#FFC000"/><circle cx="513.0" cy="697.0" r="3" fill="#FFC000"/><line x1="513.0" y1="705.5" x2="513.0" y2="753.5" stroke="#FFC000" stroke-width="7" stroke-linecap="round"/><circle cx="517.0" cy="688.0" r="3" fill="#FFC000"/><circle cx="517.0" cy="697.0" r="3" fill="#FFC000"/><line x1="517.0" y1="705.5" x2="517.0" y2="736.1" stroke="#FFC000" stroke-width="7" stroke-linecap="round"/><circle cx="535.7" cy="688.0" r="3" fill="#FFC000"/><circle cx="535.7" cy="697.0" r="3" fill="#FFC000"/><line x1="535.7" y1="705.5" x2="535.7" y2="794.9" stroke="#FFC000" stroke-width="7" stroke-linecap="round"/><circle cx="545.0" cy="688.0" r="3" fill="#FFC000"/><circle cx="545.0" cy="697.0" r="3" fill="#FFC000"/><line x1="545.0" y1="705.5" x2="545.0" y2="737.1" stroke="#FFC000" stroke-width="7" stroke-linecap="round"/><circle cx="557.5" cy="688.0" r="3" fill="#FFC000"/><circle cx="557.5" cy="697.0" r="3" fill="#FFC000"/><line x1="557.5" y1="705.5" x2="557.5" y2="806.3" stroke="#FFC000" stroke-width="7" stroke-linecap="round"/><circle cx="706.0" cy="684.0" r="3" fill="#FFC000"/><circle cx="706.0" cy="693.0" r="3" fill="#FFC000"/><line x1="706.0" y1="701.5" x2="706.0" y2="780.7" stroke="#FFC000" stroke-width="7" stroke-linecap="round"/><circle cx="715.0" cy="684.0" r="3" fill="#FFC000"/><circle cx="715.0" cy="693.0" r="3" fill="#FFC000"/><line x1="715.0" y1="701.5" x2="715.0" y2="739.5" stroke="#FFC000" stroke-width="7" stroke-linecap="round"/><circle cx="729.5" cy="684.0" r="3" fill="#FFC000"/><circle cx="729.5" cy="693.0" r="3" fill="#FFC000"/><line x1="729.5" y1="701.5" x2="729.5" y2="816.5" stroke="#FFC000" stroke-width="7" stroke-linecap="round"/><circle cx="752.0" cy="684.0" r="3" fill="#FFC000"/><circle cx="752.0" cy="693.0" r="3" fill="#FFC000"/><line x1="752.0" y1="701.5" x2="752.0" y2="752.1" stroke="#FFC000" stroke-width="7" stroke-linecap="round"/><circle cx="201.7" cy="673.9" r="3" fill="#FFC000"/><circle cx="195.1" cy="671.3" r="3" fill="#FFC000"/><circle cx="197.6" cy="663.9" r="3" fill="#FFC000"/><circle cx="214.8" cy="670.2" r="3" fill="#FFC000"/><circle cx="206.4" cy="640.5" r="3" fill="#FFC000"/><circle cx="210.5" cy="700.8" r="3" fill="#FFC000"/><circle cx="203.2" cy="708.2" r="3" fill="#FFC000"/><circle cx="196.2" cy="657.8" r="3" fill="#FFC000"/><circle cx="208.3" cy="654.2" r="3" fill="#FFC000"/><circle cx="201.2" cy="674.5" r="3" fill="#FFC000"/><circle cx="216.8" cy="689.6" r="3" fill="#FFC000"/><circle cx="212.9" cy="676.5" r="3" fill="#FFC000"/><circle cx="209.5" cy="659.5" r="3" fill="#FFC000"/><circle cx="202.1" cy="709.2" r="3" fill="#FFC000"/><circle cx="202.2" cy="672.9" r="3" fill="#FFC000"/><circle cx="205.5" cy="669.2" r="3" fill="#FFC000"/><circle cx="200.0" cy="689.2" r="3" fill="#FFC000"/><circle cx="210.3" cy="665.1" r="3" fill="#FFC000"/><circle cx="198.1" cy="674.9" r="3" fill="#FFC000"/><circle cx="193.8" cy="649.1" r="3" fill="#FFC000"/><circle cx="211.8" cy="698.4" r="3" fill="#FFC000"/><circle cx="212.7" cy="709.6" r="3" fill="#FFC000"/><circle cx="197.0" cy="650.0" r="3" fill="#FFC000"/><circle cx="198.0" cy="662.8" r="3" fill="#FFC000"/><circle cx="215.2" cy="655.1" r="3" fill="#FFC000"/><circle cx="265.9" cy="621.2" r="3" fill="#FFC000"/><circle cx="252.2" cy="601.1" r="3" fill="#FFC000"/><circle cx="285.0" cy="627.7" r="3" fill="#FFC000"/><circle cx="302.0" cy="618.9" r="3" fill="#FFC000"/><circle cx="218.1" cy="633.2" r="3" fill="#FFC000"/><circle cx="286.2" cy="633.7" r="3" fill="#FFC000"/><circle cx="217.7" cy="615.2" r="3" fill="#FFC000"/><circle cx="224.8" cy="627.5" r="3" fill="#FFC000"/><circle cx="310.5" cy="623.6" r="3" fill="#FFC000"/><circle cx="304.0" cy="605.5" r="3" fill="#FFC000"/><circle cx="235.9" cy="618.1" r="3" fill="#FFC000"/><circle cx="306.3" cy="611.5" r="3" fill="#FFC000"/><circle cx="264.7" cy="603.8" r="3" fill="#FFC000"/><circle cx="243.0" cy="602.5" r="3" fill="#FFC000"/><circle cx="296.5" cy="615.5" r="3" fill="#FFC000"/><circle cx="214.4" cy="628.5" r="3" fill="#FFC000"/><circle cx="378.4" cy="686.2" r="3" fill="#FFC000"/><circle cx="377.8" cy="664.9" r="3" fill="#FFC000"/><circle cx="388.7" cy="669.3" r="3" fill="#FFC000"/><circle cx="392.4" cy="709.7" r="3" fill="#FFC000"/><circle cx="378.2" cy="664.6" r="3" fill="#FFC000"/><circle cx="400.0" cy="652.0" r="3" fill="#FFC000"/><circle cx="388.3" cy="649.5" r="3" fill="#FFC000"/><circle cx="398.2" cy="703.0" r="3" fill="#FFC000"/><circle cx="395.1" cy="661.6" r="3" fill="#FFC000"/><circle cx="383.3" cy="693.3" r="3" fill="#FFC000"/><circle cx="382.2" cy="675.4" r="3" fill="#FFC000"/><circle cx="380.2" cy="679.3" r="3" fill="#FFC000"/><circle cx="393.3" cy="664.5" r="3" fill="#FFC000"/><circle cx="381.3" cy="677.6" r="3" fill="#FFC000"/><circle cx="395.4" cy="653.7" r="3" fill="#FFC000"/><circle cx="378.2" cy="661.5" r="3" fill="#FFC000"/><circle cx="382.0" cy="648.7" r="3" fill="#FFC000"/><circle cx="383.9" cy="655.5" r="3" fill="#FFC000"/><circle cx="389.6" cy="664.1" r="3" fill="#FFC000"/><circle cx="377.9" cy="689.1" r="3" fill="#FFC000"/><circle cx="398.5" cy="699.8" r="3" fill="#FFC000"/><circle cx="395.8" cy="661.0" r="3" fill="#FFC000"/><circle cx="380.4" cy="707.4" r="3" fill="#FFC000"/><circle cx="398.5" cy="639.4" r="3" fill="#FFC000"/><circle cx="403.1" cy="633.8" r="3" fill="#FFC000"/><circle cx="454.3" cy="635.1" r="3" fill="#FFC000"/><circle cx="392.1" cy="606.5" r="3" fill="#FFC000"/><circle cx="447.3" cy="632.0" r="3" fill="#FFC000"/><circle cx="486.0" cy="609.1" r="3" fill="#FFC000"/><circle cx="411.9" cy="631.2" r="3" fill="#FFC000"/><circle cx="389.2" cy="601.2" r="3" fill="#FFC000"/><circle cx="382.4" cy="625.7" r="3" fill="#FFC000"/><circle cx="492.5" cy="623.0" r="3" fill="#FFC000"/><circle cx="426.2" cy="630.0" r="3" fill="#FFC000"/><circle cx="465.2" cy="617.7" r="3" fill="#FFC000"/><circle cx="466.9" cy="607.2" r="3" fill="#FFC000"/><circle cx="412.6" cy="603.7" r="3" fill="#FFC000"/><circle cx="570.4" cy="690.2" r="3" fill="#FFC000"/><circle cx="579.8" cy="653.6" r="3" fill="#FFC000"/><circle cx="581.9" cy="696.8" r="3" fill="#FFC000"/><circle cx="579.0" cy="676.5" r="3" fill="#FFC000"/><circle cx="580.7" cy="676.3" r="3" fill="#FFC000"/><circle cx="574.4" cy="649.7" r="3" fill="#FFC000"/><circle cx="573.3" cy="676.1" r="3" fill="#FFC000"/><circle cx="579.4" cy="708.3" r="3" fill="#FFC000"/><circle cx="582.6" cy="663.2" r="3" fill="#FFC000"/><circle cx="577.8" cy="710.3" r="3" fill="#FFC000"/><circle cx="578.8" cy="699.5" r="3" fill="#FFC000"/><circle cx="562.7" cy="702.8" r="3" fill="#FFC000"/><circle cx="569.8" cy="697.1" r="3" fill="#FFC000"/><circle cx="563.0" cy="665.2" r="3" fill="#FFC000"/><circle cx="583.6" cy="645.7" r="3" fill="#FFC000"/><circle cx="578.7" cy="707.5" r="3" fill="#FFC000"/><circle cx="568.9" cy="693.7" r="3" fill="#FFC000"/><circle cx="573.6" cy="696.6" r="3" fill="#FFC000"/><circle cx="572.6" cy="658.6" r="3" fill="#FFC000"/><circle cx="562.3" cy="646.8" r="3" fill="#FFC000"/><circle cx="560.8" cy="703.0" r="3" fill="#FFC000"/><circle cx="570.9" cy="658.7" r="3" fill="#FFC000"/><circle cx="574.5" cy="654.2" r="3" fill="#FFC000"/><circle cx="583.0" cy="650.8" r="3" fill="#FFC000"/><circle cx="579.7" cy="681.7" r="3" fill="#FFC000"/><circle cx="670.0" cy="604.6" r="3" fill="#FFC000"/><circle cx="650.4" cy="639.2" r="3" fill="#FFC000"/><circle cx="587.5" cy="604.0" r="3" fill="#FFC000"/><circle cx="675.8" cy="621.4" r="3" fill="#FFC000"/><circle cx="664.0" cy="610.3" r="3" fill="#FFC000"/><circle cx="634.2" cy="639.1" r="3" fill="#FFC000"/><circle cx="678.6" cy="603.5" r="3" fill="#FFC000"/><circle cx="635.0" cy="607.0" r="3" fill="#FFC000"/><circle cx="597.2" cy="600.4" r="3" fill="#FFC000"/><circle cx="577.2" cy="613.3" r="3" fill="#FFC000"/><circle cx="599.1" cy="636.6" r="3" fill="#FFC000"/><circle cx="681.3" cy="638.6" r="3" fill="#FFC000"/><circle cx="619.1" cy="605.7" r="3" fill="#FFC000"/><circle cx="652.2" cy="606.6" r="3" fill="#FFC000"/><circle cx="670.9" cy="602.2" r="3" fill="#FFC000"/><circle cx="663.3" cy="624.6" r="3" fill="#FFC000"/><circle cx="638.2" cy="621.9" r="3" fill="#FFC000"/></g>
<g><circle cx="187.4" cy="688.4" r="3" fill="#92D050"/><circle cx="179.1" cy="628.9" r="3" fill="#92D050"/><circle cx="133.6" cy="681.4" r="3" fill="#92D050"/><circle cx="183.9" cy="636.5" r="3" fill="#92D050"/><circle cx="211.9" cy="642.0" r="3" fill="#92D050"/><circle cx="224.1" cy="686.5" r="3" fill="#92D050"/><circle cx="222.3" cy="687.9" r="3" fill="#92D050"/><circle cx="155.7" cy="639.1" r="3" fill="#92D050"/><circle cx="122.3" cy="693.3" r="3" fill="#92D050"/><circle cx="198.5" cy="684.6" r="3" fill="#92D050"/><circle cx="117.0" cy="631.1" r="3" fill="#92D050"/><circle cx="176.0" cy="648.9" r="3" fill="#92D050"/><circle cx="135.5" cy="633.2" r="3" fill="#92D050"/><circle cx="191.8" cy="694.8" r="3" fill="#92D050"/><circle cx="122.1" cy="689.4" r="3" fill="#92D050"/><circle cx="170.3" cy="684.2" r="3" fill="#92D050"/><circle cx="132.4" cy="684.6" r="3" fill="#92D050"/><circle cx="196.2" cy="660.1" r="3" fill="#92D050"/><circle cx="170.9" cy="650.7" r="3" fill="#92D050"/><circle cx="156.0" cy="675.2" r="3" fill="#92D050"/><circle cx="195.2" cy="629.9" r="3" fill="#92D050"/><circle cx="164.5" cy="671.6" r="3" fill="#92D050"/><circle cx="191.5" cy="670.3" r="3" fill="#92D050"/><circle cx="167.9" cy="643.2" r="3" fill="#92D050"/><circle cx="130.7" cy="649.3" r="3" fill="#92D050"/><circle cx="142.2" cy="688.5" r="3" fill="#92D050"/><circle cx="120.0" cy="669.1" r="3" fill="#92D050"/><circle cx="154.6" cy="687.9" r="3" fill="#92D050"/><circle cx="157.3" cy="656.9" r="3" fill="#92D050"/><circle cx="117.5" cy="663.7" r="3" fill="#92D050"/><circle cx="218.9" cy="680.4" r="3" fill="#92D050"/><circle cx="129.0" cy="678.9" r="3" fill="#92D050"/><circle cx="174.7" cy="650.5" r="3" fill="#92D050"/><circle cx="198.0" cy="667.6" r="3" fill="#92D050"/><circle cx="213.7" cy="664.6" r="3" fill="#92D050"/><circle cx="209.7" cy="641.2" r="3" fill="#92D050"/><circle cx="192.4" cy="657.0" r="3" fill="#92D050"/><circle cx="201.9" cy="689.0" r="3" fill="#92D050"/><circle cx="205.3" cy="632.6" r="3" fill="#92D050"/><circle cx="225.8" cy="675.0" r="3" fill="#92D050"/><circle cx="220.7" cy="675.7" r="3" fill="#92D050"/><circle cx="148.2" cy="689.5" r="3" fill="#92D050"/><circle cx="183.2" cy="655.7" r="3" fill="#92D050"/><circle cx="184.5" cy="630.9" r="3" fill="#92D050"/><circle cx="157.7" cy="632.8" r="3" fill="#92D050"/><circle cx="130.8" cy="656.9" r="3" fill="#92D050"/><circle cx="145.0" cy="665.0" r="3" fill="#92D050"/><circle cx="198.6" cy="662.6" r="3" fill="#92D050"/><circle cx="125.4" cy="672.8" r="3" fill="#92D050"/><circle cx="129.7" cy="667.8" r="3" fill="#92D050"/><circle cx="190.9" cy="642.9" r="3" fill="#92D050"/><circle cx="154.4" cy="653.8" r="3" fill="#92D050"/><circle cx="159.5" cy="634.5" r="3" fill="#92D050"/><circle cx="168.9" cy="678.9" r="3" fill="#92D050"/><circle cx="163.2" cy="659.2" r="3" fill="#92D050"/><circle cx="158.4" cy="687.0" r="3" fill="#92D050"/><circle cx="143.9" cy="646.6" r="3" fill="#92D050"/><circle cx="167.9" cy="691.3" r="3" fill="#92D050"/><circle cx="196.2" cy="638.9" r="3" fill="#92D050"/><circle cx="118.7" cy="610.0" r="3" fill="#92D050"/><circle cx="196.6" cy="622.7" r="3" fill="#92D050"/><circle cx="170.0" cy="628.3" r="3" fill="#92D050"/><circle cx="149.7" cy="605.3" r="3" fill="#92D050"/><circle cx="160.3" cy="617.8" r="3" fill="#92D050"/><circle cx="333.1" cy="635.8" r="3" fill="#92D050"/><circle cx="341.4" cy="636.7" r="3" fill="#92D050"/><circle cx="366.2" cy="644.4" r="3" fill="#92D050"/><circle cx="377.9" cy="631.2" r="3" fill="#92D050"/><circle cx="338.9" cy="653.0" r="3" fill="#92D050"/><circle cx="380.4" cy="675.0" r="3" fill="#92D050"/><circle cx="388.3" cy="653.6" r="3" fill="#92D050"/><circle cx="318.2" cy="639.3" r="3" fill="#92D050"/><circle cx="375.5" cy="647.1" r="3" fill="#92D050"/><circle cx="383.8" cy="665.3" r="3" fill="#92D050"/><circle cx="389.7" cy="676.7" r="3" fill="#92D050"/><circle cx="403.1" cy="667.9" r="3" fill="#92D050"/><circle cx="388.5" cy="656.1" r="3" fill="#92D050"/><circle cx="332.3" cy="646.6" r="3" fill="#92D050"/><circle cx="334.7" cy="651.6" r="3" fill="#92D050"/><circle cx="370.1" cy="654.9" r="3" fill="#92D050"/><circle cx="390.2" cy="660.8" r="3" fill="#92D050"/><circle cx="329.4" cy="654.1" r="3" fill="#92D050"/><circle cx="375.9" cy="663.0" r="3" fill="#92D050"/><circle cx="340.8" cy="690.3" r="3" fill="#92D050"/><circle cx="363.1" cy="654.4" r="3" fill="#92D050"/><circle cx="395.4" cy="642.3" r="3" fill="#92D050"/><circle cx="397.0" cy="648.3" r="3" fill="#92D050"/><circle cx="368.9" cy="692.8" r="3" fill="#92D050"/><circle cx="368.7" cy="640.3" r="3" fill="#92D050"/><circle cx="390.5" cy="692.1" r="3" fill="#92D050"/><circle cx="356.8" cy="634.8" r="3" fill="#92D050"/><circle cx="326.7" cy="634.2" r="3" fill="#92D050"/><circle cx="370.8" cy="692.7" r="3" fill="#92D050"/><circle cx="321.7" cy="632.3" r="3" fill="#92D050"/><circle cx="363.1" cy="653.1" r="3" fill="#92D050"/><circle cx="334.4" cy="672.6" r="3" fill="#92D050"/><circle cx="345.9" cy="629.1" r="3" fill="#92D050"/><circle cx="353.6" cy="659.6" r="3" fill="#92D050"/><circle cx="383.1" cy="687.7" r="3" fill="#92D050"/><circle cx="337.5" cy="659.5" r="3" fill="#92D050"/><circle cx="374.7" cy="636.3" r="3" fill="#92D050"/><circle cx="396.4" cy="687.3" r="3" fill="#92D050"/><circle cx="368.3" cy="637.1" r="3" fill="#92D050"/><circle cx="398.5" cy="690.8" r="3" fill="#92D050"/><circle cx="329.4" cy="656.7" r="3" fill="#92D050"/><circle cx="378.0" cy="634.0" r="3" fill="#92D050"/><circle cx="334.6" cy="666.1" r="3" fill="#92D050"/><circle cx="363.3" cy="677.0" r="3" fill="#92D050"/><circle cx="357.2" cy="675.3" r="3" fill="#92D050"/><circle cx="369.4" cy="681.1" r="3" fill="#92D050"/><circle cx="344.5" cy="629.4" r="3" fill="#92D050"/><circle cx="348.5" cy="620.3" r="3" fill="#92D050"/><circle cx="396.3" cy="608.6" r="3" fill="#92D050"/><circle cx="358.5" cy="626.7" r="3" fill="#92D050"/><circle cx="369.5" cy="619.9" r="3" fill="#92D050"/><circle cx="401.2" cy="606.9" r="3" fill="#92D050"/><circle cx="376.3" cy="606.4" r="3" fill="#92D050"/><circle cx="521.1" cy="648.0" r="3" fill="#92D050"/><circle cx="540.3" cy="638.4" r="3" fill="#92D050"/><circle cx="521.5" cy="691.4" r="3" fill="#92D050"/><circle cx="505.2" cy="651.6" r="3" fill="#92D050"/><circle cx="581.8" cy="637.7" r="3" fill="#92D050"/><circle cx="569.9" cy="684.0" r="3" fill="#92D050"/><circle cx="556.6" cy="692.1" r="3" fill="#92D050"/><circle cx="568.6" cy="650.5" r="3" fill="#92D050"/><circle cx="556.2" cy="676.5" r="3" fill="#92D050"/><circle cx="535.0" cy="650.1" r="3" fill="#92D050"/><circle cx="577.9" cy="632.2" r="3" fill="#92D050"/><circle cx="580.4" cy="661.9" r="3" fill="#92D050"/><circle cx="535.7" cy="643.2" r="3" fill="#92D050"/><circle cx="549.5" cy="647.4" r="3" fill="#92D050"/><circle cx="507.7" cy="664.0" r="3" fill="#92D050"/><circle cx="546.2" cy="637.3" r="3" fill="#92D050"/><circle cx="523.4" cy="677.9" r="3" fill="#92D050"/><circle cx="509.4" cy="639.2" r="3" fill="#92D050"/><circle cx="512.2" cy="674.8" r="3" fill="#92D050"/><circle cx="501.9" cy="676.3" r="3" fill="#92D050"/><circle cx="535.6" cy="693.4" r="3" fill="#92D050"/><circle cx="497.1" cy="691.2" r="3" fill="#92D050"/><circle cx="554.1" cy="681.3" r="3" fill="#92D050"/><circle cx="568.8" cy="684.1" r="3" fill="#92D050"/><circle cx="546.8" cy="660.1" r="3" fill="#92D050"/><circle cx="532.8" cy="671.2" r="3" fill="#92D050"/><circle cx="538.3" cy="674.0" r="3" fill="#92D050"/><circle cx="521.2" cy="684.3" r="3" fill="#92D050"/><circle cx="506.3" cy="652.7" r="3" fill="#92D050"/><circle cx="538.9" cy="655.4" r="3" fill="#92D050"/><circle cx="514.7" cy="649.9" r="3" fill="#92D050"/><circle cx="560.4" cy="679.5" r="3" fill="#92D050"/><circle cx="510.4" cy="647.3" r="3" fill="#92D050"/><circle cx="510.8" cy="656.5" r="3" fill="#92D050"/><circle cx="504.4" cy="638.1" r="3" fill="#92D050"/><circle cx="573.5" cy="643.4" r="3" fill="#92D050"/><circle cx="525.8" cy="673.4" r="3" fill="#92D050"/><circle cx="582.2" cy="670.6" r="3" fill="#92D050"/><circle cx="503.6" cy="673.2" r="3" fill="#92D050"/><circle cx="524.0" cy="634.1" r="3" fill="#92D050"/><circle cx="583.6" cy="647.6" r="3" fill="#92D050"/><circle cx="529.2" cy="691.3" r="3" fill="#92D050"/><circle cx="578.1" cy="631.9" r="3" fill="#92D050"/><circle cx="553.1" cy="667.6" r="3" fill="#92D050"/><circle cx="538.5" cy="677.2" r="3" fill="#92D050"/><circle cx="523.5" cy="672.0" r="3" fill="#92D050"/><circle cx="545.9" cy="605.2" r="3" fill="#92D050"/><circle cx="589.0" cy="624.5" r="3" fill="#92D050"/><circle cx="539.4" cy="604.8" r="3" fill="#92D050"/><circle cx="520.0" cy="605.7" r="3" fill="#92D050"/><circle cx="743.3" cy="680.4" r="3" fill="#92D050"/><circle cx="696.0" cy="646.1" r="3" fill="#92D050"/><circle cx="724.7" cy="646.9" r="3" fill="#92D050"/><circle cx="702.5" cy="658.7" r="3" fill="#92D050"/><circle cx="744.7" cy="681.0" r="3" fill="#92D050"/><circle cx="700.2" cy="628.4" r="3" fill="#92D050"/><circle cx="698.7" cy="689.7" r="3" fill="#92D050"/><circle cx="733.0" cy="633.3" r="3" fill="#92D050"/><circle cx="717.1" cy="664.5" r="3" fill="#92D050"/><circle cx="721.1" cy="684.2" r="3" fill="#92D050"/><circle cx="726.7" cy="671.2" r="3" fill="#92D050"/><circle cx="715.7" cy="665.5" r="3" fill="#92D050"/><circle cx="691.3" cy="690.2" r="3" fill="#92D050"/><circle cx="719.4" cy="647.7" r="3" fill="#92D050"/><circle cx="733.3" cy="669.9" r="3" fill="#92D050"/><circle cx="741.0" cy="683.5" r="3" fill="#92D050"/><circle cx="706.6" cy="661.5" r="3" fill="#92D050"/><circle cx="697.5" cy="690.2" r="3" fill="#92D050"/><circle cx="705.2" cy="682.4" r="3" fill="#92D050"/><circle cx="717.9" cy="650.0" r="3" fill="#92D050"/><circle cx="709.8" cy="628.0" r="3" fill="#92D050"/><circle cx="750.9" cy="651.7" r="3" fill="#92D050"/><circle cx="692.3" cy="663.1" r="3" fill="#92D050"/><circle cx="694.2" cy="680.6" r="3" fill="#92D050"/><circle cx="748.6" cy="688.8" r="3" fill="#92D050"/><circle cx="754.1" cy="665.1" r="3" fill="#92D050"/><circle cx="701.3" cy="656.3" r="3" fill="#92D050"/><circle cx="721.0" cy="652.6" r="3" fill="#92D050"/><circle cx="743.4" cy="667.8" r="3" fill="#92D050"/><circle cx="718.3" cy="687.4" r="3" fill="#92D050"/><circle cx="748.5" cy="621.7" r="3" fill="#92D050"/><circle cx="708.7" cy="613.0" r="3" fill="#92D050"/><circle cx="686.2" cy="626.9" r="3" fill="#92D050"/><circle cx="714.4" cy="609.1" r="3" fill="#92D050"/><circle cx="687.3" cy="615.9" r="3" fill="#92D050"/><circle cx="740.1" cy="622.5" r="3" fill="#92D050"/><circle cx="713.6" cy="608.1" r="3" fill="#92D050"/><line x1="117.0" y1="633.0" x2="117.0" y2="683.0" stroke="#92D050" stroke-width="6" stroke-linecap="round"/><line x1="125.5" y1="659.0" x2="125.5" y2="706.0" stroke="#92D050" stroke-width="10" stroke-linecap="round"/><line x1="137.5" y1="659.5" x2="137.5" y2="731.5" stroke="#92D050" stroke-width="9" stroke-linecap="round"/><line x1="155.5" y1="619.5" x2="155.5" y2="628.5" stroke="#92D050" stroke-width="5" stroke-linecap="round"/><circle cx="170.0" cy="637.0" r="3" fill="#92D050"/><circle cx="172.0" cy="645.0" r="3" fill="#92D050"/><circle cx="175.0" cy="652.0" r="3" fill="#92D050"/><circle cx="179.0" cy="658.0" r="3" fill="#92D050"/><circle cx="184.0" cy="661.0" r="3" fill="#92D050"/><circle cx="188.0" cy="657.0" r="3" fill="#92D050"/><circle cx="190.0" cy="650.0" r="3" fill="#92D050"/><circle cx="191.0" cy="642.0" r="3" fill="#92D050"/><circle cx="189.0" cy="636.0" r="3" fill="#92D050"/><circle cx="165.0" cy="630.0" r="3" fill="#92D050"/><circle cx="168.0" cy="634.0" r="3" fill="#92D050"/><line x1="334.0" y1="633.5" x2="334.0" y2="668.5" stroke="#92D050" stroke-width="7" stroke-linecap="round"/><line x1="346.0" y1="638.5" x2="346.0" y2="670.5" stroke="#92D050" stroke-width="7" stroke-linecap="round"/><line x1="360.0" y1="643.5" x2="360.0" y2="664.5" stroke="#92D050" stroke-width="7" stroke-linecap="round"/><line x1="378.0" y1="643.5" x2="378.0" y2="666.5" stroke="#92D050" stroke-width="7" stroke-linecap="round"/><line x1="388.0" y1="628.5" x2="388.0" y2="696.5" stroke="#92D050" stroke-width="7" stroke-linecap="round"/><line x1="395.0" y1="618.5" x2="395.0" y2="696.5" stroke="#92D050" stroke-width="7" stroke-linecap="round"/><line x1="531.0" y1="643.5" x2="531.0" y2="672.5" stroke="#92D050" stroke-width="7" stroke-linecap="round"/><line x1="540.0" y1="628.5" x2="540.0" y2="666.5" stroke="#92D050" stroke-width="7" stroke-linecap="round"/><line x1="554.0" y1="631.5" x2="554.0" y2="670.5" stroke="#92D050" stroke-width="7" stroke-linecap="round"/><line x1="570.0" y1="653.5" x2="570.0" y2="696.5" stroke="#92D050" stroke-width="7" stroke-linecap="round"/><line x1="578.0" y1="643.5" x2="578.0" y2="696.5" stroke="#92D050" stroke-width="7" stroke-linecap="round"/><line x1="722.0" y1="643.5" x2="722.0" y2="666.5" stroke="#92D050" stroke-width="7" stroke-linecap="round"/><line x1="746.0" y1="633.5" x2="746.0" y2="656.5" stroke="#92D050" stroke-width="7" stroke-linecap="round"/><circle cx="214.5" cy="638.4" r="3" fill="#92D050"/><circle cx="218.2" cy="647.2" r="3" fill="#92D050"/><circle cx="205.5" cy="647.5" r="3" fill="#92D050"/><circle cx="226.5" cy="668.7" r="3" fill="#92D050"/><circle cx="202.5" cy="658.3" r="3" fill="#92D050"/><circle cx="223.4" cy="617.0" r="3" fill="#92D050"/><circle cx="225.0" cy="693.8" r="3" fill="#92D050"/><circle cx="218.9" cy="646.1" r="3" fill="#92D050"/><circle cx="350.3" cy="627.1" r="3" fill="#92D050"/><circle cx="332.7" cy="668.0" r="3" fill="#92D050"/><circle cx="348.3" cy="631.9" r="3" fill="#92D050"/><circle cx="324.3" cy="631.2" r="3" fill="#92D050"/><circle cx="328.3" cy="631.5" r="3" fill="#92D050"/><circle cx="322.7" cy="642.0" r="3" fill="#92D050"/><circle cx="332.7" cy="618.8" r="3" fill="#92D050"/><circle cx="336.7" cy="651.1" r="3" fill="#92D050"/><circle cx="320.4" cy="621.2" r="3" fill="#92D050"/><circle cx="345.5" cy="648.8" r="3" fill="#92D050"/><circle cx="359.1" cy="640.8" r="3" fill="#92D050"/><circle cx="360.0" cy="658.1" r="3" fill="#92D050"/><circle cx="360.5" cy="653.7" r="3" fill="#92D050"/><circle cx="372.2" cy="657.6" r="3" fill="#92D050"/><circle cx="365.9" cy="645.3" r="3" fill="#92D050"/><circle cx="370.2" cy="634.9" r="3" fill="#92D050"/><circle cx="369.1" cy="659.6" r="3" fill="#92D050"/><circle cx="362.2" cy="645.2" r="3" fill="#92D050"/><circle cx="360.4" cy="645.7" r="3" fill="#92D050"/><circle cx="509.3" cy="691.1" r="3" fill="#92D050"/><circle cx="525.2" cy="636.4" r="3" fill="#92D050"/><circle cx="525.3" cy="689.6" r="3" fill="#92D050"/><circle cx="546.2" cy="643.6" r="3" fill="#92D050"/><circle cx="542.0" cy="662.4" r="3" fill="#92D050"/><circle cx="541.2" cy="667.9" r="3" fill="#92D050"/><circle cx="555.6" cy="673.2" r="3" fill="#92D050"/><circle cx="551.4" cy="648.1" r="3" fill="#92D050"/><circle cx="545.8" cy="655.3" r="3" fill="#92D050"/><circle cx="543.5" cy="626.8" r="3" fill="#92D050"/><circle cx="561.2" cy="630.9" r="3" fill="#92D050"/><circle cx="549.9" cy="624.5" r="3" fill="#92D050"/><circle cx="546.7" cy="623.8" r="3" fill="#92D050"/><circle cx="564.8" cy="655.2" r="3" fill="#92D050"/><circle cx="556.5" cy="659.9" r="3" fill="#92D050"/><circle cx="535.2" cy="633.1" r="3" fill="#92D050"/><circle cx="737.8" cy="675.8" r="3" fill="#92D050"/><circle cx="734.9" cy="686.0" r="3" fill="#92D050"/><circle cx="754.7" cy="656.3" r="3" fill="#92D050"/><circle cx="722.9" cy="644.2" r="3" fill="#92D050"/><circle cx="723.2" cy="685.5" r="3" fill="#92D050"/><circle cx="747.6" cy="675.1" r="3" fill="#92D050"/><circle cx="715.1" cy="624.0" r="3" fill="#92D050"/><circle cx="749.8" cy="657.1" r="3" fill="#92D050"/><circle cx="116.0" cy="542.8" r="3" fill="#92D050"/><circle cx="116.0" cy="572.8" r="3" fill="#92D050"/><circle cx="116.5" cy="588.0" r="3" fill="#92D050"/><circle cx="116.5" cy="603.0" r="3" fill="#92D050"/><circle cx="116.5" cy="618.0" r="3" fill="#92D050"/><circle cx="116.5" cy="628.0" r="3" fill="#92D050"/><circle cx="116.5" cy="648.0" r="3" fill="#92D050"/><circle cx="116.5" cy="668.0" r="3" fill="#92D050"/><circle cx="116.5" cy="678.0" r="3" fill="#92D050"/><circle cx="141.0" cy="638.5" r="3" fill="#92D050"/><circle cx="155.5" cy="617.7" r="3" fill="#92D050"/><circle cx="155.5" cy="625.0" r="3" fill="#92D050"/><circle cx="248.0" cy="585.0" r="3" fill="#92D050"/><circle cx="299.4" cy="587.6" r="3" fill="#92D050"/><circle cx="299.0" cy="587.6" r="3" fill="#92D050"/><circle cx="296.8" cy="600.0" r="3" fill="#92D050"/><circle cx="346.6" cy="617.7" r="3" fill="#92D050"/><circle cx="382.0" cy="621.9" r="3" fill="#92D050"/><circle cx="384.0" cy="632.0" r="3" fill="#92D050"/><circle cx="384.0" cy="640.6" r="3" fill="#92D050"/><circle cx="608.7" cy="592.0" r="3" fill="#92D050"/><circle cx="731.6" cy="575.3" r="3" fill="#92D050"/><circle cx="744.2" cy="597.3" r="3" fill="#92D050"/><circle cx="747.4" cy="615.2" r="3" fill="#92D050"/><circle cx="720.0" cy="621.5" r="3" fill="#92D050"/><circle cx="732.2" cy="576.0" r="3" fill="#92D050"/><circle cx="744.4" cy="598.0" r="3" fill="#92D050"/><circle cx="609.4" cy="593.7" r="3" fill="#92D050"/><circle cx="150.0" cy="690.0" r="3" fill="#92D050"/><circle cx="150.0" cy="699.0" r="3" fill="#92D050"/><line x1="150.0" y1="707.5" x2="150.0" y2="761.5" stroke="#92D050" stroke-width="7" stroke-linecap="round"/><circle cx="163.0" cy="690.0" r="3" fill="#92D050"/><circle cx="163.0" cy="699.0" r="3" fill="#92D050"/><line x1="163.0" y1="707.5" x2="163.0" y2="784.5" stroke="#92D050" stroke-width="7" stroke-linecap="round"/><circle cx="178.8" cy="690.0" r="3" fill="#92D050"/><circle cx="178.8" cy="699.0" r="3" fill="#92D050"/><line x1="178.8" y1="707.5" x2="178.8" y2="803.2" stroke="#92D050" stroke-width="7" stroke-linecap="round"/><circle cx="188.8" cy="690.0" r="3" fill="#92D050"/><circle cx="188.8" cy="699.0" r="3" fill="#92D050"/><line x1="188.8" y1="707.5" x2="188.8" y2="811.5" stroke="#92D050" stroke-width="7" stroke-linecap="round"/><circle cx="198.8" cy="690.0" r="3" fill="#92D050"/><circle cx="198.8" cy="699.0" r="3" fill="#92D050"/><line x1="198.8" y1="707.5" x2="198.8" y2="815.5" stroke="#92D050" stroke-width="7" stroke-linecap="round"/><circle cx="207.4" cy="690.0" r="3" fill="#92D050"/><circle cx="207.4" cy="699.0" r="3" fill="#92D050"/><line x1="207.4" y1="707.5" x2="207.4" y2="767.9" stroke="#92D050" stroke-width="7" stroke-linecap="round"/><circle cx="322.0" cy="680.0" r="3" fill="#92D050"/><circle cx="322.0" cy="689.0" r="3" fill="#92D050"/><line x1="322.0" y1="697.5" x2="322.0" y2="737.1" stroke="#92D050" stroke-width="7" stroke-linecap="round"/><circle cx="337.0" cy="688.0" r="3" fill="#92D050"/><circle cx="337.0" cy="697.0" r="3" fill="#92D050"/><line x1="337.0" y1="705.5" x2="337.0" y2="773.1" stroke="#92D050" stroke-width="7" stroke-linecap="round"/><circle cx="352.0" cy="688.0" r="3" fill="#92D050"/><circle cx="352.0" cy="697.0" r="3" fill="#92D050"/><line x1="352.0" y1="705.5" x2="352.0" y2="795.9" stroke="#92D050" stroke-width="7" stroke-linecap="round"/><circle cx="366.0" cy="688.0" r="3" fill="#92D050"/><circle cx="366.0" cy="697.0" r="3" fill="#92D050"/><line x1="366.0" y1="705.5" x2="366.0" y2="805.3" stroke="#92D050" stroke-width="7" stroke-linecap="round"/><circle cx="376.0" cy="688.0" r="3" fill="#92D050"/><circle cx="376.0" cy="697.0" r="3" fill="#92D050"/><line x1="376.0" y1="705.5" x2="376.0" y2="810.5" stroke="#92D050" stroke-width="7" stroke-linecap="round"/><circle cx="385.0" cy="688.0" r="3" fill="#92D050"/><circle cx="385.0" cy="697.0" r="3" fill="#92D050"/><line x1="385.0" y1="705.5" x2="385.0" y2="807.3" stroke="#92D050" stroke-width="7" stroke-linecap="round"/><circle cx="396.0" cy="680.0" r="3" fill="#92D050"/><circle cx="396.0" cy="689.0" r="3" fill="#92D050"/><line x1="396.0" y1="697.5" x2="396.0" y2="752.5" stroke="#92D050" stroke-width="7" stroke-linecap="round"/><circle cx="508.0" cy="680.0" r="3" fill="#92D050"/><circle cx="508.0" cy="689.0" r="3" fill="#92D050"/><line x1="508.0" y1="697.5" x2="508.0" y2="742.3" stroke="#92D050" stroke-width="7" stroke-linecap="round"/><circle cx="524.0" cy="688.0" r="3" fill="#92D050"/><circle cx="524.0" cy="697.0" r="3" fill="#92D050"/><line x1="524.0" y1="705.5" x2="524.0" y2="776.2" stroke="#92D050" stroke-width="7" stroke-linecap="round"/><circle cx="537.8" cy="688.0" r="3" fill="#92D050"/><circle cx="537.8" cy="697.0" r="3" fill="#92D050"/><line x1="537.8" y1="705.5" x2="537.8" y2="800.1" stroke="#92D050" stroke-width="7" stroke-linecap="round"/><circle cx="552.0" cy="688.0" r="3" fill="#92D050"/><circle cx="552.0" cy="697.0" r="3" fill="#92D050"/><line x1="552.0" y1="705.5" x2="552.0" y2="811.5" stroke="#92D050" stroke-width="7" stroke-linecap="round"/><circle cx="563.0" cy="688.0" r="3" fill="#92D050"/><circle cx="563.0" cy="697.0" r="3" fill="#92D050"/><line x1="563.0" y1="705.5" x2="563.0" y2="814.5" stroke="#92D050" stroke-width="7" stroke-linecap="round"/><circle cx="571.0" cy="688.0" r="3" fill="#92D050"/><circle cx="571.0" cy="697.0" r="3" fill="#92D050"/><line x1="571.0" y1="705.5" x2="571.0" y2="792.8" stroke="#92D050" stroke-width="7" stroke-linecap="round"/><circle cx="576.0" cy="688.0" r="3" fill="#92D050"/><circle cx="576.0" cy="697.0" r="3" fill="#92D050"/><line x1="576.0" y1="705.5" x2="576.0" y2="758.9" stroke="#92D050" stroke-width="7" stroke-linecap="round"/><circle cx="698.0" cy="680.0" r="3" fill="#92D050"/><circle cx="698.0" cy="689.0" r="3" fill="#92D050"/><line x1="698.0" y1="697.5" x2="698.0" y2="742.5" stroke="#92D050" stroke-width="7" stroke-linecap="round"/><circle cx="709.0" cy="684.0" r="3" fill="#92D050"/><circle cx="709.0" cy="693.0" r="3" fill="#92D050"/><line x1="709.0" y1="701.5" x2="709.0" y2="774.5" stroke="#92D050" stroke-width="7" stroke-linecap="round"/><circle cx="723.0" cy="684.0" r="3" fill="#92D050"/><circle cx="723.0" cy="693.0" r="3" fill="#92D050"/><line x1="723.0" y1="701.5" x2="723.0" y2="799.5" stroke="#92D050" stroke-width="7" stroke-linecap="round"/><circle cx="738.0" cy="684.0" r="3" fill="#92D050"/><circle cx="738.0" cy="693.0" r="3" fill="#92D050"/><line x1="738.0" y1="701.5" x2="738.0" y2="813.2" stroke="#92D050" stroke-width="7" stroke-linecap="round"/><circle cx="746.5" cy="684.0" r="3" fill="#92D050"/><circle cx="746.5" cy="693.0" r="3" fill="#92D050"/><line x1="746.5" y1="701.5" x2="746.5" y2="812.2" stroke="#92D050" stroke-width="7" stroke-linecap="round"/><circle cx="193.9" cy="710.1" r="3" fill="#92D050"/><circle cx="203.7" cy="676.5" r="3" fill="#92D050"/><circle cx="202.7" cy="674.9" r="3" fill="#92D050"/><circle cx="207.7" cy="690.6" r="3" fill="#92D050"/><polygon points="205.4,705.0 217.4,676.0 238.4,668.0 232.4,690.0 225.9,728.0 220.4,745.0 220.4,758.0 211.4,760.0 204.4,756.0" fill="#92D050" stroke="#92D050" stroke-width="2" stroke-linejoin="round"/><circle cx="301.0" cy="613.2" r="3" fill="#92D050"/><circle cx="284.2" cy="625.6" r="3" fill="#92D050"/><circle cx="266.5" cy="618.5" r="3" fill="#92D050"/><circle cx="293.3" cy="636.8" r="3" fill="#92D050"/><circle cx="197.5" cy="618.8" r="3" fill="#92D050"/><circle cx="248.2" cy="613.7" r="3" fill="#92D050"/><circle cx="290.0" cy="617.1" r="3" fill="#92D050"/><circle cx="283.8" cy="616.0" r="3" fill="#92D050"/><circle cx="284.9" cy="611.7" r="3" fill="#92D050"/><circle cx="316.8" cy="613.3" r="3" fill="#92D050"/><circle cx="196.6" cy="612.3" r="3" fill="#92D050"/><circle cx="226.4" cy="601.2" r="3" fill="#92D050"/><circle cx="316.5" cy="604.3" r="3" fill="#92D050"/><circle cx="281.4" cy="622.6" r="3" fill="#92D050"/><circle cx="241.6" cy="630.9" r="3" fill="#92D050"/><circle cx="398.0" cy="649.6" r="3" fill="#92D050"/><circle cx="381.9" cy="655.0" r="3" fill="#92D050"/><circle cx="387.6" cy="695.8" r="3" fill="#92D050"/><circle cx="379.9" cy="691.6" r="3" fill="#92D050"/><polygon points="388.5,705.0 400.5,676.0 421.5,668.0 415.5,690.0 409.0,728.0 403.5,745.0 403.5,754.0 394.5,756.0 387.5,752.0" fill="#92D050" stroke="#92D050" stroke-width="2" stroke-linejoin="round"/><circle cx="411.2" cy="622.8" r="3" fill="#92D050"/><circle cx="463.8" cy="619.1" r="3" fill="#92D050"/><circle cx="422.5" cy="636.1" r="3" fill="#92D050"/><circle cx="454.4" cy="622.7" r="3" fill="#92D050"/><circle cx="428.8" cy="635.9" r="3" fill="#92D050"/><circle cx="394.8" cy="638.5" r="3" fill="#92D050"/><circle cx="408.3" cy="628.6" r="3" fill="#92D050"/><circle cx="378.2" cy="600.3" r="3" fill="#92D050"/><circle cx="495.7" cy="618.3" r="3" fill="#92D050"/><circle cx="419.2" cy="622.5" r="3" fill="#92D050"/><circle cx="415.5" cy="629.5" r="3" fill="#92D050"/><circle cx="472.7" cy="630.5" r="3" fill="#92D050"/><circle cx="417.0" cy="636.6" r="3" fill="#92D050"/><circle cx="574.5" cy="707.6" r="3" fill="#92D050"/><circle cx="575.1" cy="675.7" r="3" fill="#92D050"/><circle cx="564.4" cy="647.7" r="3" fill="#92D050"/><circle cx="582.7" cy="709.3" r="3" fill="#92D050"/><polygon points="571.7,705.0 583.7,676.0 604.7,668.0 598.7,690.0 592.2,728.0 586.7,726.0 586.7,730.0 577.7,732.0 570.7,728.0" fill="#92D050" stroke="#92D050" stroke-width="2" stroke-linejoin="round"/><circle cx="643.8" cy="627.9" r="3" fill="#92D050"/><circle cx="578.4" cy="625.2" r="3" fill="#92D050"/><circle cx="635.4" cy="629.6" r="3" fill="#92D050"/><circle cx="615.2" cy="622.8" r="3" fill="#92D050"/><circle cx="617.1" cy="620.3" r="3" fill="#92D050"/><circle cx="678.2" cy="634.8" r="3" fill="#92D050"/><circle cx="663.9" cy="639.3" r="3" fill="#92D050"/><circle cx="578.9" cy="630.0" r="3" fill="#92D050"/><line x1="231.0" y1="640.4" x2="231.0" y2="694.2" stroke="#92D050" stroke-width="11.5" stroke-linecap="round"/><line x1="242.0" y1="635.6" x2="242.0" y2="682.2" stroke="#92D050" stroke-width="11.5" stroke-linecap="round"/><line x1="252.6" y1="638.6" x2="252.6" y2="670.2" stroke="#92D050" stroke-width="11.5" stroke-linecap="round"/><line x1="264.0" y1="637.5" x2="264.0" y2="669.2" stroke="#92D050" stroke-width="11.5" stroke-linecap="round"/><line x1="276.0" y1="638.4" x2="276.0" y2="670.2" stroke="#92D050" stroke-width="11.5" stroke-linecap="round"/><line x1="287.5" y1="634.4" x2="287.5" y2="674.2" stroke="#92D050" stroke-width="11.5" stroke-linecap="round"/><line x1="299.0" y1="635.3" x2="299.0" y2="684.2" stroke="#92D050" stroke-width="11.5" stroke-linecap="round"/><line x1="311.0" y1="635.7" x2="311.0" y2="707.2" stroke="#92D050" stroke-width="11.5" stroke-linecap="round"/><line x1="414.0" y1="640.0" x2="414.0" y2="694.2" stroke="#92D050" stroke-width="11.5" stroke-linecap="round"/><line x1="425.0" y1="640.0" x2="425.0" y2="679.2" stroke="#92D050" stroke-width="11.5" stroke-linecap="round"/><line x1="439.7" y1="636.8" x2="439.7" y2="666.2" stroke="#92D050" stroke-width="11.5" stroke-linecap="round"/><line x1="450.5" y1="638.6" x2="450.5" y2="666.2" stroke="#92D050" stroke-width="11.5" stroke-linecap="round"/><line x1="462.0" y1="637.3" x2="462.0" y2="668.2" stroke="#92D050" stroke-width="11.5" stroke-linecap="round"/><line x1="473.0" y1="638.0" x2="473.0" y2="672.2" stroke="#92D050" stroke-width="11.5" stroke-linecap="round"/><line x1="485.0" y1="635.9" x2="485.0" y2="684.2" stroke="#92D050" stroke-width="11.5" stroke-linecap="round"/><line x1="497.0" y1="636.5" x2="497.0" y2="709.2" stroke="#92D050" stroke-width="11.5" stroke-linecap="round"/><line x1="600.0" y1="641.4" x2="600.0" y2="682.2" stroke="#92D050" stroke-width="11.5" stroke-linecap="round"/><line x1="613.0" y1="640.8" x2="613.0" y2="667.2" stroke="#92D050" stroke-width="11.5" stroke-linecap="round"/><line x1="625.5" y1="634.7" x2="625.5" y2="663.2" stroke="#92D050" stroke-width="11.5" stroke-linecap="round"/><line x1="638.0" y1="634.7" x2="638.0" y2="665.2" stroke="#92D050" stroke-width="11.5" stroke-linecap="round"/><line x1="650.5" y1="640.7" x2="650.5" y2="667.2" stroke="#92D050" stroke-width="11.5" stroke-linecap="round"/><line x1="662.0" y1="637.3" x2="662.0" y2="669.2" stroke="#92D050" stroke-width="11.5" stroke-linecap="round"/><line x1="673.0" y1="638.9" x2="673.0" y2="690.2" stroke="#92D050" stroke-width="11.5" stroke-linecap="round"/><line x1="684.0" y1="638.6" x2="684.0" y2="713.2" stroke="#92D050" stroke-width="11.5" stroke-linecap="round"/></g>
</svg></body></html>
